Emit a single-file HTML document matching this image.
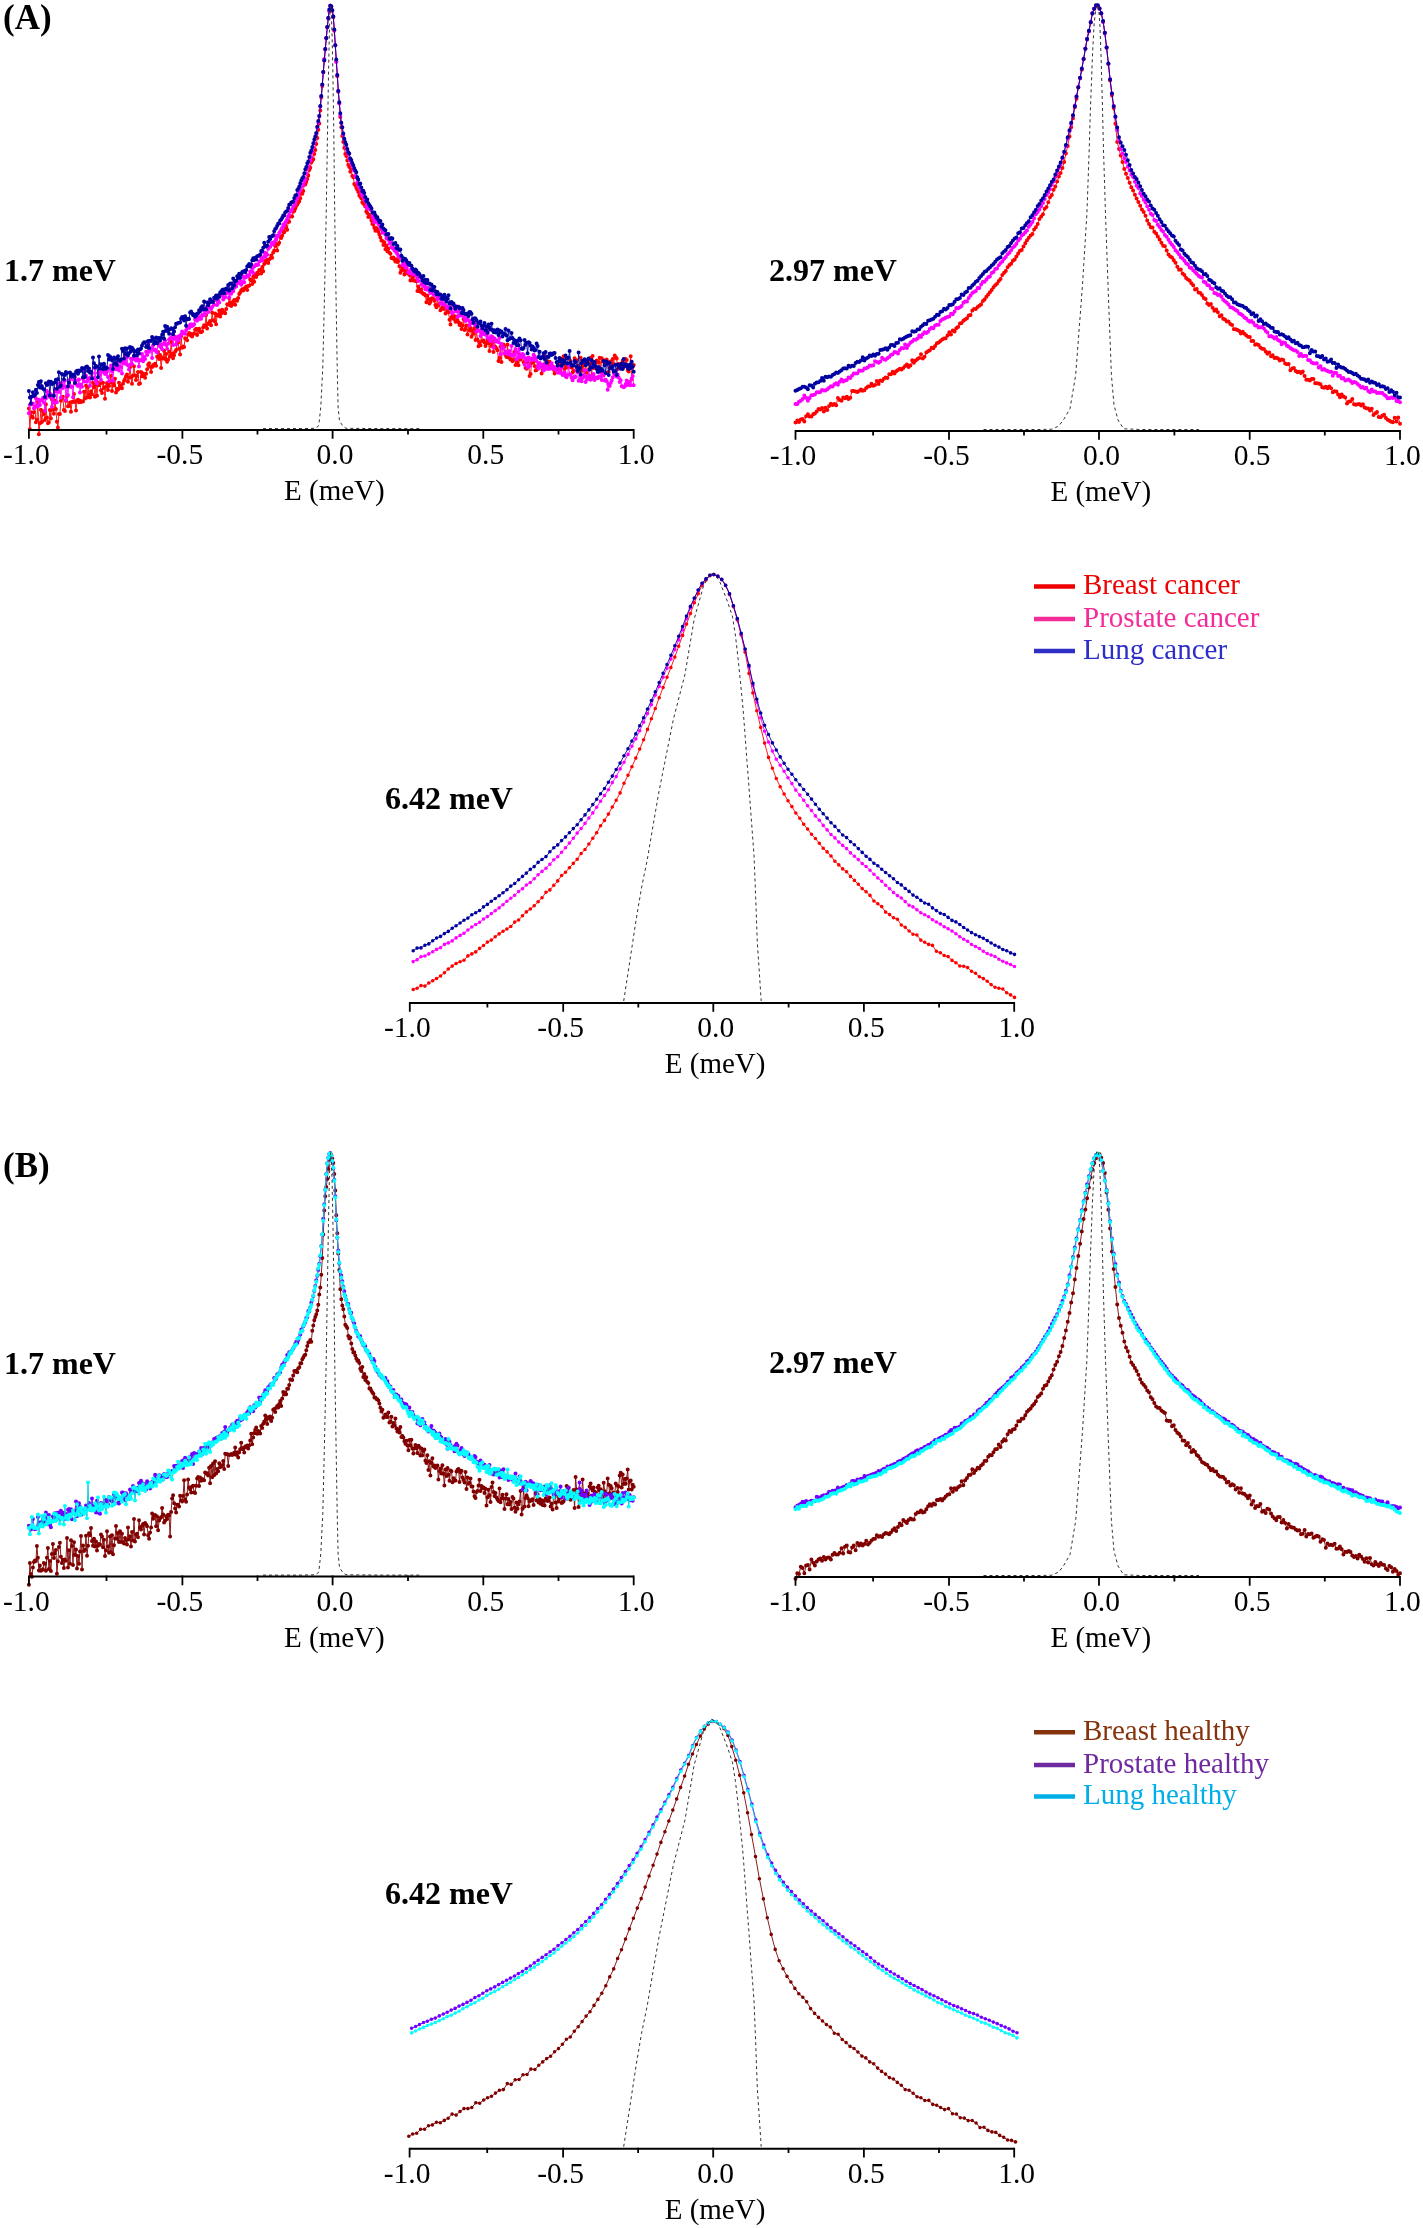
<!DOCTYPE html>
<html><head><meta charset="utf-8"><title>QENS spectra</title>
<style>
html,body{margin:0;padding:0;background:#fff;}
svg{display:block;will-change:transform;}
.tk{font-family:"Liberation Serif",serif;font-size:29.5px;fill:#000;text-anchor:middle;}
.bl{font-family:"Liberation Serif",serif;font-size:32px;font-weight:bold;fill:#000;}
.lg{font-family:"Liberation Serif",serif;font-size:29px;}
</style></head><body>
<svg xmlns="http://www.w3.org/2000/svg" width="1423" height="2228" viewBox="0 0 1423 2228">
<rect width="1423" height="2228" fill="#fff"/>
<polyline points="28.9,408.5 29.9,429.2 30.9,412.2 31.9,416.6 32.9,417.7 33.9,412.3 34.9,407.1 35.9,422.3 36.9,419.7 37.9,401.7 38.9,434.2 39.9,423.3 40.9,409.8 41.9,422 42.9,411.3 43.9,414 44.9,420 45.9,404.3 46.9,417.6 47.9,423.3 48.9,422.3 49.9,409.9 50.9,418.4 51.9,399.5 52.9,409.8 53.9,413.8 54.9,400.4 55.9,409.1 56.9,421.8 57.9,427.6 58.9,414 59.9,413.9 60.9,400.8 61.9,398.6 62.9,396.7 63.9,410.1 64.9,411.1 65.9,400.7 67,396.3 68,406.2 69,406.1 70,402.6 71,411.8 72,401.9 73,401.7 74,394.1 75,402.1 76,410.4 77,400.6 78,399.7 79,402.2 80,400.7 81,401.9 82,401.4 83,401.5 84,391.8 85,398.5 86,385.7 87,397.4 88,387.1 89,394.4 90,397.4 91,391.3 92,394.2 93,382.7 94,387.3 95,396.7 96,384.7 97,395.7 98,382.6 99,385.2 100,383.7 101,390.2 102,393.1 103,382.8 104,387.9 105,398.7 106,386.4 107,383 108,390 109,385.9 110,382.6 111,375.7 112,391.1 113,382.4 114,385.4 115,378.7 116,392.4 117,388.7 118,389.7 119,382.8 120,385.8 121,387.9 122,388.3 123,383.7 124,381.1 125,378.9 126,376.2 127,374.6 128,381.7 129,377.8 130,367.3 131,377.3 132,383.7 133,375.6 134,366.3 135,375.4 136,379.9 137,376.1 138,372 139,383.9 140,383.5 141,372 142,376.3 143.1,373.4 144.1,374.8 145.1,377.7 146.1,373.7 147.1,369.2 148.1,364.7 149.1,363.2 150.1,366.7 151.1,372.1 152.1,367 153.1,365.1 154.1,365.5 155.1,363.8 156.1,365.7 157.1,356.8 158.1,352 159.1,359.1 160.1,354.9 161.1,367.9 162.1,358.6 163.1,357.5 164.1,350.7 165.1,358.9 166.1,354 167.1,361.7 168.1,359.7 169.1,351.4 170.1,356.4 171.1,341.7 172.1,353.8 173.1,358.2 174.1,355.3 175.1,351.7 176.1,350 177.1,343 178.1,342.4 179.1,348.7 180.1,354.6 181.1,336.3 182.1,347.7 183.1,346.6 184.1,347.1 185.1,338.3 186.1,338.8 187.1,340.2 188.1,334.8 189.1,333 190.1,333.4 191.1,335.8 192.1,336.6 193.1,334.1 194.1,333.6 195.1,329.7 196.1,328.7 197.1,335 198.1,329.6 199.1,328.8 200.1,331.9 201.1,332.2 202.1,331.6 203.1,327.6 204.1,325.2 205.1,325.7 206.1,315 207.1,328.4 208.1,323.6 209.1,324.1 210.1,321 211.1,325.3 212.1,312.4 213.1,320.3 214.1,320.9 215.1,313.4 216.1,324.2 217.1,315.4 218.2,314.5 219.2,310.6 220.2,316.4 221.2,313.4 222.2,309.8 223.2,311.7 224.2,312.4 225.2,313.2 226.2,309 227.2,304.3 228.2,304.8 229.2,298.3 230.2,302.4 231.2,306.1 232.2,304.3 233.2,301.5 234.2,299.9 235.2,304.8 236.2,299.8 237.2,300.7 238.2,298.1 239.2,293.9 240.2,292.4 241.2,290.2 242.2,289.3 243.2,290.4 244.2,288.5 245.2,287.8 246.2,286.6 247.2,289.9 248.2,286.1 249.2,285.8 250.2,279.4 251.2,280.2 252.2,284 253.2,276.8 254.2,281.7 255.2,274.8 256.2,276.9 257.2,272.7 258.2,274 259.2,269.9 260.2,270.1 261.2,273.4 262.2,267.1 263.2,271.3 264.2,264 265.2,260.9 266.2,262.3 267.2,259.7 268.2,262.9 269.2,259.4 270.2,258.4 271.2,255.6 272.2,257.8 273.2,252.6 274.2,250.4 275.2,245.9 276.2,244 277.2,250.5 278.2,244.3 279.2,242.7 280.2,237 281.2,237.9 282.2,235.4 283.2,231.2 284.2,232.3 285.2,225.5 286.2,228 287.2,229.8 288.2,221.9 289.2,221.7 290.2,216.5 291.2,216.3 292.2,216.6 293.2,211.7 294.3,211.1 295.3,208.4 296.3,206.1 297.3,204.6 298.3,202.6 299.3,201.2 300.3,198.2 301.3,193.8 302.3,193.8 303.3,190.9 304.3,184.6 305.3,184.6 306.3,181.9 307.3,179 308.3,175.4 309.3,170.1 310.3,167.8 311.3,162.4 312.3,160.8 313.3,159.2 314.3,154 315.3,149.9 316.3,144 317.3,138.1 318.3,129.7 319.3,123.4 320.3,110.4 321.3,97.6 322.3,86 323.3,72.1 324.3,60.4 325.3,49.3 326.3,38.2 327.3,27.2 328.3,18.1 329.3,11 330.3,6.3 331.3,7.1 332.3,10.7 333.3,17.2 334.3,30.8 335.3,45.3 336.3,61.2 337.3,76.3 338.3,91.8 339.3,103.1 340.3,117.1 341.3,127.2 342.3,136 343.3,142.1 344.3,148 345.3,153.9 346.3,156 347.3,160.6 348.3,164.9 349.3,167 350.3,171.8 351.3,169.5 352.3,176 353.3,177.3 354.3,184 355.3,185.2 356.3,187.7 357.3,189.7 358.3,192.1 359.3,195.6 360.3,196.7 361.3,198.2 362.3,202.3 363.3,203.6 364.3,204.5 365.3,206.4 366.3,211.6 367.3,212.9 368.3,217 369.4,215.1 370.4,216.7 371.4,220.5 372.4,224 373.4,224.7 374.4,228 375.4,230.7 376.4,228.1 377.4,229 378.4,231.8 379.4,234.4 380.4,237.5 381.4,240.5 382.4,241.1 383.4,245.1 384.4,242.2 385.4,249.3 386.4,245.6 387.4,251.2 388.4,248.5 389.4,252.7 390.4,253.7 391.4,258 392.4,258.2 393.4,257.6 394.4,259.4 395.4,261.4 396.4,259.3 397.4,261.9 398.4,261.1 399.4,266.2 400.4,272.7 401.4,270.4 402.4,267.8 403.4,269.3 404.4,274.6 405.4,272.1 406.4,270.4 407.4,273 408.4,274 409.4,275.1 410.4,280.6 411.4,280.1 412.4,277 413.4,280.6 414.4,275 415.4,280.9 416.4,281.1 417.4,291 418.4,286.4 419.4,289.9 420.4,291.8 421.4,289.2 422.4,292.9 423.4,293.9 424.4,294 425.4,295.5 426.4,302.2 427.4,295.6 428.4,299.1 429.4,303.5 430.4,302.1 431.4,298.6 432.4,298.3 433.4,299 434.4,300.7 435.4,304.9 436.4,307.3 437.4,298.2 438.4,305.3 439.4,303.6 440.4,310.3 441.4,309.1 442.4,307.2 443.4,309.1 444.4,308.2 445.5,313.6 446.5,307.6 447.5,310 448.5,312.3 449.5,319.7 450.5,324.6 451.5,317.1 452.5,313.4 453.5,318.8 454.5,316.2 455.5,321.7 456.5,316.8 457.5,320.2 458.5,322.2 459.5,324.9 460.5,323.4 461.5,329.1 462.5,325.6 463.5,319.1 464.5,330 465.5,328.9 466.5,325.4 467.5,334.5 468.5,325.6 469.5,330.4 470.5,328 471.5,336.8 472.5,330.8 473.5,333.8 474.5,328.1 475.5,340.1 476.5,330.7 477.5,339.4 478.5,346.3 479.5,342.2 480.5,345.3 481.5,333.7 482.5,341 483.5,340.6 484.5,342.5 485.5,346.1 486.5,342.7 487.5,339.4 488.5,343.2 489.5,351 490.5,340 491.5,346.1 492.5,342.2 493.5,352.1 494.5,340.5 495.5,347 496.5,348.6 497.5,350.3 498.5,361.1 499.5,358.1 500.5,346.8 501.5,362 502.5,347.1 503.5,344.4 504.5,346.6 505.5,355 506.5,357 507.5,344.6 508.5,357.5 509.5,354.6 510.5,359.6 511.5,354.8 512.5,361.3 513.5,360.1 514.5,352.1 515.5,365.1 516.5,359.5 517.5,362.3 518.5,365.3 519.5,354.7 520.6,359.4 521.6,356.1 522.6,355.9 523.6,362.2 524.6,362.9 525.6,368.1 526.6,368.8 527.6,362.1 528.6,358.4 529.6,375.9 530.6,374 531.6,363 532.6,359.1 533.6,362 534.6,365.9 535.6,370.5 536.6,369.9 537.6,367.5 538.6,364.2 539.6,366.6 540.6,364.4 541.6,373.5 542.6,365.8 543.6,369.3 544.6,357 545.6,365.1 546.6,365.5 547.6,361.2 548.6,366.3 549.6,361.8 550.6,363.9 551.6,366 552.6,366.2 553.6,369.8 554.6,373.4 555.6,368.7 556.6,369.4 557.6,368.9 558.6,364.3 559.6,363.2 560.6,372.1 561.6,365.9 562.6,358.5 563.6,356.3 564.6,368.9 565.6,363.9 566.6,367.4 567.6,364.8 568.6,365.5 569.6,366.7 570.6,361.1 571.6,367.4 572.6,372.6 573.6,371 574.6,358.3 575.6,360.3 576.6,360.3 577.6,365.8 578.6,371.5 579.6,368.6 580.6,357.8 581.6,367 582.6,370.8 583.6,364.2 584.6,376.2 585.6,362.9 586.6,372.2 587.6,378.1 588.6,359.3 589.6,364 590.6,357.9 591.6,378.7 592.6,356.1 593.6,368 594.6,366.4 595.6,362.6 596.7,360.4 597.7,361.8 598.7,362.7 599.7,357.7 600.7,371.9 601.7,358.2 602.7,361.5 603.7,360.2 604.7,361.3 605.7,363.8 606.7,359.4 607.7,361.9 608.7,371.7 609.7,368.2 610.7,361.4 611.7,367.4 612.7,359 613.7,363.9 614.7,355.6 615.7,357.1 616.7,358.5 617.7,369.1 618.7,364.1 619.7,365.7 620.7,363.8 621.7,365 622.7,360.5 623.7,367.2 624.7,364.3 625.7,359.1 626.7,359.9 627.7,370.2 628.7,371.4 629.7,367.3 630.7,356.3 631.7,379.2 632.7,366.7 633.7,364.9" fill="none" stroke="#ff0000" stroke-width="0.9" stroke-linejoin="round"/>
<path d="M28.9 408.5h0M29.9 429.2h0M30.9 412.2h0M31.9 416.6h0M32.9 417.7h0M33.9 412.3h0M34.9 407.1h0M35.9 422.3h0M36.9 419.7h0M37.9 401.7h0M38.9 434.2h0M39.9 423.3h0M40.9 409.8h0M41.9 422h0M42.9 411.3h0M43.9 414h0M44.9 420h0M45.9 404.3h0M46.9 417.6h0M47.9 423.3h0M48.9 422.3h0M49.9 409.9h0M50.9 418.4h0M51.9 399.5h0M52.9 409.8h0M53.9 413.8h0M54.9 400.4h0M55.9 409.1h0M56.9 421.8h0M57.9 427.6h0M58.9 414h0M59.9 413.9h0M60.9 400.8h0M61.9 398.6h0M62.9 396.7h0M63.9 410.1h0M64.9 411.1h0M65.9 400.7h0M67 396.3h0M68 406.2h0M69 406.1h0M70 402.6h0M71 411.8h0M72 401.9h0M73 401.7h0M74 394.1h0M75 402.1h0M76 410.4h0M77 400.6h0M78 399.7h0M79 402.2h0M80 400.7h0M81 401.9h0M82 401.4h0M83 401.5h0M84 391.8h0M85 398.5h0M86 385.7h0M87 397.4h0M88 387.1h0M89 394.4h0M90 397.4h0M91 391.3h0M92 394.2h0M93 382.7h0M94 387.3h0M95 396.7h0M96 384.7h0M97 395.7h0M98 382.6h0M99 385.2h0M100 383.7h0M101 390.2h0M102 393.1h0M103 382.8h0M104 387.9h0M105 398.7h0M106 386.4h0M107 383h0M108 390h0M109 385.9h0M110 382.6h0M111 375.7h0M112 391.1h0M113 382.4h0M114 385.4h0M115 378.7h0M116 392.4h0M117 388.7h0M118 389.7h0M119 382.8h0M120 385.8h0M121 387.9h0M122 388.3h0M123 383.7h0M124 381.1h0M125 378.9h0M126 376.2h0M127 374.6h0M128 381.7h0M129 377.8h0M130 367.3h0M131 377.3h0M132 383.7h0M133 375.6h0M134 366.3h0M135 375.4h0M136 379.9h0M137 376.1h0M138 372h0M139 383.9h0M140 383.5h0M141 372h0M142 376.3h0M143.1 373.4h0M144.1 374.8h0M145.1 377.7h0M146.1 373.7h0M147.1 369.2h0M148.1 364.7h0M149.1 363.2h0M150.1 366.7h0M151.1 372.1h0M152.1 367h0M153.1 365.1h0M154.1 365.5h0M155.1 363.8h0M156.1 365.7h0M157.1 356.8h0M158.1 352h0M159.1 359.1h0M160.1 354.9h0M161.1 367.9h0M162.1 358.6h0M163.1 357.5h0M164.1 350.7h0M165.1 358.9h0M166.1 354h0M167.1 361.7h0M168.1 359.7h0M169.1 351.4h0M170.1 356.4h0M171.1 341.7h0M172.1 353.8h0M173.1 358.2h0M174.1 355.3h0M175.1 351.7h0M176.1 350h0M177.1 343h0M178.1 342.4h0M179.1 348.7h0M180.1 354.6h0M181.1 336.3h0M182.1 347.7h0M183.1 346.6h0M184.1 347.1h0M185.1 338.3h0M186.1 338.8h0M187.1 340.2h0M188.1 334.8h0M189.1 333h0M190.1 333.4h0M191.1 335.8h0M192.1 336.6h0M193.1 334.1h0M194.1 333.6h0M195.1 329.7h0M196.1 328.7h0M197.1 335h0M198.1 329.6h0M199.1 328.8h0M200.1 331.9h0M201.1 332.2h0M202.1 331.6h0M203.1 327.6h0M204.1 325.2h0M205.1 325.7h0M206.1 315h0M207.1 328.4h0M208.1 323.6h0M209.1 324.1h0M210.1 321h0M211.1 325.3h0M212.1 312.4h0M213.1 320.3h0M214.1 320.9h0M215.1 313.4h0M216.1 324.2h0M217.1 315.4h0M218.2 314.5h0M219.2 310.6h0M220.2 316.4h0M221.2 313.4h0M222.2 309.8h0M223.2 311.7h0M224.2 312.4h0M225.2 313.2h0M226.2 309h0M227.2 304.3h0M228.2 304.8h0M229.2 298.3h0M230.2 302.4h0M231.2 306.1h0M232.2 304.3h0M233.2 301.5h0M234.2 299.9h0M235.2 304.8h0M236.2 299.8h0M237.2 300.7h0M238.2 298.1h0M239.2 293.9h0M240.2 292.4h0M241.2 290.2h0M242.2 289.3h0M243.2 290.4h0M244.2 288.5h0M245.2 287.8h0M246.2 286.6h0M247.2 289.9h0M248.2 286.1h0M249.2 285.8h0M250.2 279.4h0M251.2 280.2h0M252.2 284h0M253.2 276.8h0M254.2 281.7h0M255.2 274.8h0M256.2 276.9h0M257.2 272.7h0M258.2 274h0M259.2 269.9h0M260.2 270.1h0M261.2 273.4h0M262.2 267.1h0M263.2 271.3h0M264.2 264h0M265.2 260.9h0M266.2 262.3h0M267.2 259.7h0M268.2 262.9h0M269.2 259.4h0M270.2 258.4h0M271.2 255.6h0M272.2 257.8h0M273.2 252.6h0M274.2 250.4h0M275.2 245.9h0M276.2 244h0M277.2 250.5h0M278.2 244.3h0M279.2 242.7h0M280.2 237h0M281.2 237.9h0M282.2 235.4h0M283.2 231.2h0M284.2 232.3h0M285.2 225.5h0M286.2 228h0M287.2 229.8h0M288.2 221.9h0M289.2 221.7h0M290.2 216.5h0M291.2 216.3h0M292.2 216.6h0M293.2 211.7h0M294.3 211.1h0M295.3 208.4h0M296.3 206.1h0M297.3 204.6h0M298.3 202.6h0M299.3 201.2h0M300.3 198.2h0M301.3 193.8h0M302.3 193.8h0M303.3 190.9h0M304.3 184.6h0M305.3 184.6h0M306.3 181.9h0M307.3 179h0M308.3 175.4h0M309.3 170.1h0M310.3 167.8h0M311.3 162.4h0M312.3 160.8h0M313.3 159.2h0M314.3 154h0M315.3 149.9h0M316.3 144h0M317.3 138.1h0M318.3 129.7h0M319.3 123.4h0M320.3 110.4h0M321.3 97.6h0M322.3 86h0M323.3 72.1h0M324.3 60.4h0M325.3 49.3h0M326.3 38.2h0M327.3 27.2h0M328.3 18.1h0M329.3 11h0M330.3 6.3h0M331.3 7.1h0M332.3 10.7h0M333.3 17.2h0M334.3 30.8h0M335.3 45.3h0M336.3 61.2h0M337.3 76.3h0M338.3 91.8h0M339.3 103.1h0M340.3 117.1h0M341.3 127.2h0M342.3 136h0M343.3 142.1h0M344.3 148h0M345.3 153.9h0M346.3 156h0M347.3 160.6h0M348.3 164.9h0M349.3 167h0M350.3 171.8h0M351.3 169.5h0M352.3 176h0M353.3 177.3h0M354.3 184h0M355.3 185.2h0M356.3 187.7h0M357.3 189.7h0M358.3 192.1h0M359.3 195.6h0M360.3 196.7h0M361.3 198.2h0M362.3 202.3h0M363.3 203.6h0M364.3 204.5h0M365.3 206.4h0M366.3 211.6h0M367.3 212.9h0M368.3 217h0M369.4 215.1h0M370.4 216.7h0M371.4 220.5h0M372.4 224h0M373.4 224.7h0M374.4 228h0M375.4 230.7h0M376.4 228.1h0M377.4 229h0M378.4 231.8h0M379.4 234.4h0M380.4 237.5h0M381.4 240.5h0M382.4 241.1h0M383.4 245.1h0M384.4 242.2h0M385.4 249.3h0M386.4 245.6h0M387.4 251.2h0M388.4 248.5h0M389.4 252.7h0M390.4 253.7h0M391.4 258h0M392.4 258.2h0M393.4 257.6h0M394.4 259.4h0M395.4 261.4h0M396.4 259.3h0M397.4 261.9h0M398.4 261.1h0M399.4 266.2h0M400.4 272.7h0M401.4 270.4h0M402.4 267.8h0M403.4 269.3h0M404.4 274.6h0M405.4 272.1h0M406.4 270.4h0M407.4 273h0M408.4 274h0M409.4 275.1h0M410.4 280.6h0M411.4 280.1h0M412.4 277h0M413.4 280.6h0M414.4 275h0M415.4 280.9h0M416.4 281.1h0M417.4 291h0M418.4 286.4h0M419.4 289.9h0M420.4 291.8h0M421.4 289.2h0M422.4 292.9h0M423.4 293.9h0M424.4 294h0M425.4 295.5h0M426.4 302.2h0M427.4 295.6h0M428.4 299.1h0M429.4 303.5h0M430.4 302.1h0M431.4 298.6h0M432.4 298.3h0M433.4 299h0M434.4 300.7h0M435.4 304.9h0M436.4 307.3h0M437.4 298.2h0M438.4 305.3h0M439.4 303.6h0M440.4 310.3h0M441.4 309.1h0M442.4 307.2h0M443.4 309.1h0M444.4 308.2h0M445.5 313.6h0M446.5 307.6h0M447.5 310h0M448.5 312.3h0M449.5 319.7h0M450.5 324.6h0M451.5 317.1h0M452.5 313.4h0M453.5 318.8h0M454.5 316.2h0M455.5 321.7h0M456.5 316.8h0M457.5 320.2h0M458.5 322.2h0M459.5 324.9h0M460.5 323.4h0M461.5 329.1h0M462.5 325.6h0M463.5 319.1h0M464.5 330h0M465.5 328.9h0M466.5 325.4h0M467.5 334.5h0M468.5 325.6h0M469.5 330.4h0M470.5 328h0M471.5 336.8h0M472.5 330.8h0M473.5 333.8h0M474.5 328.1h0M475.5 340.1h0M476.5 330.7h0M477.5 339.4h0M478.5 346.3h0M479.5 342.2h0M480.5 345.3h0M481.5 333.7h0M482.5 341h0M483.5 340.6h0M484.5 342.5h0M485.5 346.1h0M486.5 342.7h0M487.5 339.4h0M488.5 343.2h0M489.5 351h0M490.5 340h0M491.5 346.1h0M492.5 342.2h0M493.5 352.1h0M494.5 340.5h0M495.5 347h0M496.5 348.6h0M497.5 350.3h0M498.5 361.1h0M499.5 358.1h0M500.5 346.8h0M501.5 362h0M502.5 347.1h0M503.5 344.4h0M504.5 346.6h0M505.5 355h0M506.5 357h0M507.5 344.6h0M508.5 357.5h0M509.5 354.6h0M510.5 359.6h0M511.5 354.8h0M512.5 361.3h0M513.5 360.1h0M514.5 352.1h0M515.5 365.1h0M516.5 359.5h0M517.5 362.3h0M518.5 365.3h0M519.5 354.7h0M520.6 359.4h0M521.6 356.1h0M522.6 355.9h0M523.6 362.2h0M524.6 362.9h0M525.6 368.1h0M526.6 368.8h0M527.6 362.1h0M528.6 358.4h0M529.6 375.9h0M530.6 374h0M531.6 363h0M532.6 359.1h0M533.6 362h0M534.6 365.9h0M535.6 370.5h0M536.6 369.9h0M537.6 367.5h0M538.6 364.2h0M539.6 366.6h0M540.6 364.4h0M541.6 373.5h0M542.6 365.8h0M543.6 369.3h0M544.6 357h0M545.6 365.1h0M546.6 365.5h0M547.6 361.2h0M548.6 366.3h0M549.6 361.8h0M550.6 363.9h0M551.6 366h0M552.6 366.2h0M553.6 369.8h0M554.6 373.4h0M555.6 368.7h0M556.6 369.4h0M557.6 368.9h0M558.6 364.3h0M559.6 363.2h0M560.6 372.1h0M561.6 365.9h0M562.6 358.5h0M563.6 356.3h0M564.6 368.9h0M565.6 363.9h0M566.6 367.4h0M567.6 364.8h0M568.6 365.5h0M569.6 366.7h0M570.6 361.1h0M571.6 367.4h0M572.6 372.6h0M573.6 371h0M574.6 358.3h0M575.6 360.3h0M576.6 360.3h0M577.6 365.8h0M578.6 371.5h0M579.6 368.6h0M580.6 357.8h0M581.6 367h0M582.6 370.8h0M583.6 364.2h0M584.6 376.2h0M585.6 362.9h0M586.6 372.2h0M587.6 378.1h0M588.6 359.3h0M589.6 364h0M590.6 357.9h0M591.6 378.7h0M592.6 356.1h0M593.6 368h0M594.6 366.4h0M595.6 362.6h0M596.7 360.4h0M597.7 361.8h0M598.7 362.7h0M599.7 357.7h0M600.7 371.9h0M601.7 358.2h0M602.7 361.5h0M603.7 360.2h0M604.7 361.3h0M605.7 363.8h0M606.7 359.4h0M607.7 361.9h0M608.7 371.7h0M609.7 368.2h0M610.7 361.4h0M611.7 367.4h0M612.7 359h0M613.7 363.9h0M614.7 355.6h0M615.7 357.1h0M616.7 358.5h0M617.7 369.1h0M618.7 364.1h0M619.7 365.7h0M620.7 363.8h0M621.7 365h0M622.7 360.5h0M623.7 367.2h0M624.7 364.3h0M625.7 359.1h0M626.7 359.9h0M627.7 370.2h0M628.7 371.4h0M629.7 367.3h0M630.7 356.3h0M631.7 379.2h0M632.7 366.7h0M633.7 364.9h0" stroke="#ff0000" stroke-width="4.0" stroke-linecap="round" fill="none"/>
<polyline points="28.9,413.3 29.9,404.7 30.9,397.1 31.9,404.3 32.9,403.6 33.9,408.2 34.9,407.1 35.9,398.2 36.9,405.7 37.9,406.4 38.9,399.7 39.9,405.1 40.9,400.5 41.9,400.1 42.9,397.9 43.9,402.4 44.9,410.8 45.9,398.4 46.9,390.9 47.9,395.1 48.9,392.9 49.9,397 50.9,394.2 51.9,407.1 52.9,397.7 53.9,402.7 54.9,389.5 55.9,391.5 56.9,402.3 57.9,383.5 58.9,391.9 59.9,383.2 60.9,397.8 61.9,383.1 62.9,388 63.9,386.3 64.9,380.5 65.9,400 67,387 68,395.2 69,383.6 70,379.6 71,387.1 72,386.6 73,397.2 74,379.9 75,377.2 76,380.8 77,385.1 78,385.9 79,379.4 80,392.4 81,384.6 82,386.7 83,378.6 84,381.5 85,368.5 86,375.7 87,381.7 88,379.3 89,378.2 90,385.8 91,377 92,373 93,378.5 94,378.1 95,368.6 96,380.8 97,383.6 98,373.1 99,371.5 100,374.6 101,380 102,371.8 103,370.7 104,370.9 105,374.1 106,373.7 107,371.6 108,377.1 109,381.2 110,368.7 111,365.4 112,371.5 113,380.7 114,365.9 115,367.7 116,369.2 117,362.4 118,367 119,370.4 120,361 121,367.1 122,373.4 123,363.2 124,361.6 125,354.5 126,363.9 127,357.3 128,365.6 129,369.5 130,364.7 131,358.8 132,364.1 133,359.1 134,356.1 135,358.1 136,360.5 137,357.7 138,360.6 139,366.4 140,360 141,360 142,354.1 143.1,361.2 144.1,357 145.1,358.9 146.1,351.7 147.1,355 148.1,344.8 149.1,351.7 150.1,349.4 151.1,348.3 152.1,357.9 153.1,345.3 154.1,349.9 155.1,349.4 156.1,351.3 157.1,352.4 158.1,342.5 159.1,345.7 160.1,344.6 161.1,347.6 162.1,349.3 163.1,343.9 164.1,342.9 165.1,340.7 166.1,344.9 167.1,348.8 168.1,343.7 169.1,339.4 170.1,338.3 171.1,338.1 172.1,334.3 173.1,345 174.1,338.8 175.1,336.7 176.1,344.6 177.1,337.2 178.1,340.6 179.1,335.9 180.1,337.8 181.1,334.6 182.1,331.5 183.1,333.3 184.1,333.4 185.1,333.8 186.1,330.2 187.1,327.9 188.1,326.7 189.1,328 190.1,324.7 191.1,324.3 192.1,326.1 193.1,325.3 194.1,324.2 195.1,319.6 196.1,316.7 197.1,320.8 198.1,319.4 199.1,317.1 200.1,317.8 201.1,318.8 202.1,314.8 203.1,315.6 204.1,310.8 205.1,314.8 206.1,309.3 207.1,306.7 208.1,311.9 209.1,301.7 210.1,307.7 211.1,309 212.1,307 213.1,301 214.1,304.8 215.1,298.5 216.1,300 217.1,305.1 218.2,300.9 219.2,302.6 220.2,296 221.2,292.7 222.2,295.2 223.2,299.4 224.2,297.7 225.2,297.2 226.2,293.4 227.2,292.7 228.2,291.6 229.2,297.5 230.2,290.7 231.2,293.8 232.2,288.5 233.2,291.3 234.2,287.7 235.2,285.3 236.2,286.4 237.2,283.4 238.2,283 239.2,282.7 240.2,281 241.2,284.7 242.2,282.9 243.2,276.4 244.2,282.3 245.2,277.5 246.2,276.6 247.2,275.3 248.2,276.5 249.2,275.1 250.2,271.5 251.2,271.6 252.2,267.7 253.2,273.1 254.2,266.4 255.2,265.2 256.2,264.4 257.2,264.9 258.2,264.8 259.2,261.4 260.2,260.9 261.2,257.6 262.2,260.6 263.2,257.3 264.2,252.4 265.2,256.8 266.2,253.3 267.2,254.8 268.2,248.8 269.2,247.6 270.2,246.7 271.2,243.1 272.2,243.3 273.2,244.5 274.2,242.1 275.2,235.4 276.2,239.8 277.2,236.7 278.2,235.8 279.2,232.9 280.2,231.4 281.2,229.5 282.2,227.8 283.2,224.4 284.2,225.7 285.2,222.6 286.2,221 287.2,219.1 288.2,216.3 289.2,214.7 290.2,211 291.2,211.1 292.2,209.1 293.2,206.4 294.3,202.4 295.3,204.1 296.3,200 297.3,198 298.3,195.3 299.3,192.6 300.3,190.4 301.3,187.1 302.3,185 303.3,185.2 304.3,181.4 305.3,179.2 306.3,173.4 307.3,168.8 308.3,165.9 309.3,161.1 310.3,160.7 311.3,156.9 312.3,151.8 313.3,147.7 314.3,143.1 315.3,138 316.3,133.7 317.3,127.4 318.3,122.4 319.3,116 320.3,106.4 321.3,96.3 322.3,84.8 323.3,72.2 324.3,59.1 325.3,49.3 326.3,37.9 327.3,27.1 328.3,18.2 329.3,10.9 330.3,5.5 331.3,6.4 332.3,10.2 333.3,16.5 334.3,30.2 335.3,45.6 336.3,62 337.3,75.5 338.3,90.9 339.3,103.6 340.3,115.4 341.3,123 342.3,127.4 343.3,134.7 344.3,139.3 345.3,143.2 346.3,147.9 347.3,151.4 348.3,154.3 349.3,158.8 350.3,160.5 351.3,163.2 352.3,165.8 353.3,169.7 354.3,170.4 355.3,175.9 356.3,177.5 357.3,182.5 358.3,185.6 359.3,187.6 360.3,189.4 361.3,193.1 362.3,195.7 363.3,196 364.3,199.6 365.3,201.3 366.3,205.9 367.3,208.3 368.3,207 369.4,209 370.4,209.7 371.4,208.2 372.4,215.9 373.4,218.9 374.4,222.3 375.4,216.8 376.4,221 377.4,221.7 378.4,223.9 379.4,224.9 380.4,228.3 381.4,229.3 382.4,232.7 383.4,230 384.4,231.3 385.4,234.4 386.4,238.2 387.4,236.9 388.4,239.7 389.4,243.5 390.4,241.9 391.4,247.2 392.4,247.9 393.4,247.9 394.4,250.3 395.4,250.9 396.4,252.5 397.4,254 398.4,256 399.4,257.2 400.4,257.2 401.4,258.1 402.4,265.1 403.4,260.3 404.4,263.3 405.4,267.1 406.4,267.9 407.4,265.7 408.4,272.3 409.4,273 410.4,269.9 411.4,269.1 412.4,274.1 413.4,273.5 414.4,274.3 415.4,273.9 416.4,275.8 417.4,278.5 418.4,281.1 419.4,275.7 420.4,276 421.4,284.4 422.4,281.4 423.4,285.9 424.4,285.6 425.4,289.2 426.4,289.5 427.4,287.7 428.4,289 429.4,291.1 430.4,293.1 431.4,290.8 432.4,289.6 433.4,294.4 434.4,295 435.4,295.6 436.4,294.4 437.4,299.3 438.4,294.3 439.4,298.3 440.4,303.6 441.4,298.4 442.4,303.1 443.4,304 444.4,304.7 445.5,300 446.5,307.7 447.5,306.2 448.5,307.9 449.5,308.1 450.5,308.1 451.5,312 452.5,313.3 453.5,305 454.5,308.6 455.5,311 456.5,306.2 457.5,316.9 458.5,311.4 459.5,315.8 460.5,315.6 461.5,315.1 462.5,313.5 463.5,316.1 464.5,318.1 465.5,320.9 466.5,318.8 467.5,319 468.5,320.2 469.5,325.5 470.5,323.3 471.5,321.2 472.5,320.2 473.5,323.6 474.5,322.9 475.5,325.2 476.5,331.4 477.5,330.2 478.5,330.6 479.5,330.9 480.5,335.9 481.5,327.7 482.5,333.5 483.5,332.3 484.5,334.2 485.5,334.8 486.5,334.3 487.5,338 488.5,329.9 489.5,338.8 490.5,340.9 491.5,336.2 492.5,336.9 493.5,347.4 494.5,338.6 495.5,341.1 496.5,340.5 497.5,341.8 498.5,342.2 499.5,337.8 500.5,354.3 501.5,344 502.5,348.5 503.5,347.5 504.5,353.2 505.5,351.4 506.5,353.5 507.5,354.2 508.5,353.5 509.5,351.1 510.5,354.8 511.5,346.1 512.5,355.7 513.5,355.5 514.5,354.5 515.5,348.9 516.5,359.3 517.5,352.2 518.5,357.6 519.5,348.7 520.6,355.4 521.6,357.2 522.6,354 523.6,354.9 524.6,364.7 525.6,358.2 526.6,360.1 527.6,367.5 528.6,357.4 529.6,366.1 530.6,359.1 531.6,358.6 532.6,359.9 533.6,354.8 534.6,356.3 535.6,358.3 536.6,361 537.6,366.5 538.6,368.4 539.6,363 540.6,366.4 541.6,367 542.6,364.7 543.6,370.4 544.6,364 545.6,369.1 546.6,366.2 547.6,367.7 548.6,368.9 549.6,368.8 550.6,365.5 551.6,363.2 552.6,368.8 553.6,367 554.6,367.5 555.6,369.5 556.6,367.3 557.6,372.4 558.6,372.5 559.6,367.3 560.6,372.9 561.6,367.6 562.6,374.9 563.6,374.8 564.6,372.4 565.6,376.5 566.6,377.3 567.6,375.1 568.6,365.6 569.6,374.2 570.6,374.8 571.6,377.7 572.6,380.3 573.6,377.7 574.6,376.5 575.6,376.9 576.6,370 577.6,371.9 578.6,380.8 579.6,379.7 580.6,376 581.6,381.3 582.6,378 583.6,375.2 584.6,370.3 585.6,381.9 586.6,377 587.6,378.9 588.6,370 589.6,375.8 590.6,379.7 591.6,377.4 592.6,375.4 593.6,373.9 594.6,380 595.6,377.5 596.7,377.8 597.7,378.2 598.7,376.7 599.7,369.3 600.7,377.1 601.7,380.1 602.7,373.9 603.7,375.3 604.7,380.5 605.7,379.7 606.7,381.3 607.7,389.8 608.7,384.2 609.7,386 610.7,382.9 611.7,380.6 612.7,377.6 613.7,372.9 614.7,375.1 615.7,371 616.7,376.6 617.7,374.6 618.7,377.5 619.7,381.9 620.7,380.3 621.7,386.3 622.7,386.5 623.7,387.2 624.7,386.5 625.7,384 626.7,380.5 627.7,385.1 628.7,382 629.7,382.3 630.7,385.2 631.7,378.5 632.7,376.1 633.7,385.2" fill="none" stroke="#ff00ff" stroke-width="0.9" stroke-linejoin="round"/>
<path d="M28.9 413.3h0M29.9 404.7h0M30.9 397.1h0M31.9 404.3h0M32.9 403.6h0M33.9 408.2h0M34.9 407.1h0M35.9 398.2h0M36.9 405.7h0M37.9 406.4h0M38.9 399.7h0M39.9 405.1h0M40.9 400.5h0M41.9 400.1h0M42.9 397.9h0M43.9 402.4h0M44.9 410.8h0M45.9 398.4h0M46.9 390.9h0M47.9 395.1h0M48.9 392.9h0M49.9 397h0M50.9 394.2h0M51.9 407.1h0M52.9 397.7h0M53.9 402.7h0M54.9 389.5h0M55.9 391.5h0M56.9 402.3h0M57.9 383.5h0M58.9 391.9h0M59.9 383.2h0M60.9 397.8h0M61.9 383.1h0M62.9 388h0M63.9 386.3h0M64.9 380.5h0M65.9 400h0M67 387h0M68 395.2h0M69 383.6h0M70 379.6h0M71 387.1h0M72 386.6h0M73 397.2h0M74 379.9h0M75 377.2h0M76 380.8h0M77 385.1h0M78 385.9h0M79 379.4h0M80 392.4h0M81 384.6h0M82 386.7h0M83 378.6h0M84 381.5h0M85 368.5h0M86 375.7h0M87 381.7h0M88 379.3h0M89 378.2h0M90 385.8h0M91 377h0M92 373h0M93 378.5h0M94 378.1h0M95 368.6h0M96 380.8h0M97 383.6h0M98 373.1h0M99 371.5h0M100 374.6h0M101 380h0M102 371.8h0M103 370.7h0M104 370.9h0M105 374.1h0M106 373.7h0M107 371.6h0M108 377.1h0M109 381.2h0M110 368.7h0M111 365.4h0M112 371.5h0M113 380.7h0M114 365.9h0M115 367.7h0M116 369.2h0M117 362.4h0M118 367h0M119 370.4h0M120 361h0M121 367.1h0M122 373.4h0M123 363.2h0M124 361.6h0M125 354.5h0M126 363.9h0M127 357.3h0M128 365.6h0M129 369.5h0M130 364.7h0M131 358.8h0M132 364.1h0M133 359.1h0M134 356.1h0M135 358.1h0M136 360.5h0M137 357.7h0M138 360.6h0M139 366.4h0M140 360h0M141 360h0M142 354.1h0M143.1 361.2h0M144.1 357h0M145.1 358.9h0M146.1 351.7h0M147.1 355h0M148.1 344.8h0M149.1 351.7h0M150.1 349.4h0M151.1 348.3h0M152.1 357.9h0M153.1 345.3h0M154.1 349.9h0M155.1 349.4h0M156.1 351.3h0M157.1 352.4h0M158.1 342.5h0M159.1 345.7h0M160.1 344.6h0M161.1 347.6h0M162.1 349.3h0M163.1 343.9h0M164.1 342.9h0M165.1 340.7h0M166.1 344.9h0M167.1 348.8h0M168.1 343.7h0M169.1 339.4h0M170.1 338.3h0M171.1 338.1h0M172.1 334.3h0M173.1 345h0M174.1 338.8h0M175.1 336.7h0M176.1 344.6h0M177.1 337.2h0M178.1 340.6h0M179.1 335.9h0M180.1 337.8h0M181.1 334.6h0M182.1 331.5h0M183.1 333.3h0M184.1 333.4h0M185.1 333.8h0M186.1 330.2h0M187.1 327.9h0M188.1 326.7h0M189.1 328h0M190.1 324.7h0M191.1 324.3h0M192.1 326.1h0M193.1 325.3h0M194.1 324.2h0M195.1 319.6h0M196.1 316.7h0M197.1 320.8h0M198.1 319.4h0M199.1 317.1h0M200.1 317.8h0M201.1 318.8h0M202.1 314.8h0M203.1 315.6h0M204.1 310.8h0M205.1 314.8h0M206.1 309.3h0M207.1 306.7h0M208.1 311.9h0M209.1 301.7h0M210.1 307.7h0M211.1 309h0M212.1 307h0M213.1 301h0M214.1 304.8h0M215.1 298.5h0M216.1 300h0M217.1 305.1h0M218.2 300.9h0M219.2 302.6h0M220.2 296h0M221.2 292.7h0M222.2 295.2h0M223.2 299.4h0M224.2 297.7h0M225.2 297.2h0M226.2 293.4h0M227.2 292.7h0M228.2 291.6h0M229.2 297.5h0M230.2 290.7h0M231.2 293.8h0M232.2 288.5h0M233.2 291.3h0M234.2 287.7h0M235.2 285.3h0M236.2 286.4h0M237.2 283.4h0M238.2 283h0M239.2 282.7h0M240.2 281h0M241.2 284.7h0M242.2 282.9h0M243.2 276.4h0M244.2 282.3h0M245.2 277.5h0M246.2 276.6h0M247.2 275.3h0M248.2 276.5h0M249.2 275.1h0M250.2 271.5h0M251.2 271.6h0M252.2 267.7h0M253.2 273.1h0M254.2 266.4h0M255.2 265.2h0M256.2 264.4h0M257.2 264.9h0M258.2 264.8h0M259.2 261.4h0M260.2 260.9h0M261.2 257.6h0M262.2 260.6h0M263.2 257.3h0M264.2 252.4h0M265.2 256.8h0M266.2 253.3h0M267.2 254.8h0M268.2 248.8h0M269.2 247.6h0M270.2 246.7h0M271.2 243.1h0M272.2 243.3h0M273.2 244.5h0M274.2 242.1h0M275.2 235.4h0M276.2 239.8h0M277.2 236.7h0M278.2 235.8h0M279.2 232.9h0M280.2 231.4h0M281.2 229.5h0M282.2 227.8h0M283.2 224.4h0M284.2 225.7h0M285.2 222.6h0M286.2 221h0M287.2 219.1h0M288.2 216.3h0M289.2 214.7h0M290.2 211h0M291.2 211.1h0M292.2 209.1h0M293.2 206.4h0M294.3 202.4h0M295.3 204.1h0M296.3 200h0M297.3 198h0M298.3 195.3h0M299.3 192.6h0M300.3 190.4h0M301.3 187.1h0M302.3 185h0M303.3 185.2h0M304.3 181.4h0M305.3 179.2h0M306.3 173.4h0M307.3 168.8h0M308.3 165.9h0M309.3 161.1h0M310.3 160.7h0M311.3 156.9h0M312.3 151.8h0M313.3 147.7h0M314.3 143.1h0M315.3 138h0M316.3 133.7h0M317.3 127.4h0M318.3 122.4h0M319.3 116h0M320.3 106.4h0M321.3 96.3h0M322.3 84.8h0M323.3 72.2h0M324.3 59.1h0M325.3 49.3h0M326.3 37.9h0M327.3 27.1h0M328.3 18.2h0M329.3 10.9h0M330.3 5.5h0M331.3 6.4h0M332.3 10.2h0M333.3 16.5h0M334.3 30.2h0M335.3 45.6h0M336.3 62h0M337.3 75.5h0M338.3 90.9h0M339.3 103.6h0M340.3 115.4h0M341.3 123h0M342.3 127.4h0M343.3 134.7h0M344.3 139.3h0M345.3 143.2h0M346.3 147.9h0M347.3 151.4h0M348.3 154.3h0M349.3 158.8h0M350.3 160.5h0M351.3 163.2h0M352.3 165.8h0M353.3 169.7h0M354.3 170.4h0M355.3 175.9h0M356.3 177.5h0M357.3 182.5h0M358.3 185.6h0M359.3 187.6h0M360.3 189.4h0M361.3 193.1h0M362.3 195.7h0M363.3 196h0M364.3 199.6h0M365.3 201.3h0M366.3 205.9h0M367.3 208.3h0M368.3 207h0M369.4 209h0M370.4 209.7h0M371.4 208.2h0M372.4 215.9h0M373.4 218.9h0M374.4 222.3h0M375.4 216.8h0M376.4 221h0M377.4 221.7h0M378.4 223.9h0M379.4 224.9h0M380.4 228.3h0M381.4 229.3h0M382.4 232.7h0M383.4 230h0M384.4 231.3h0M385.4 234.4h0M386.4 238.2h0M387.4 236.9h0M388.4 239.7h0M389.4 243.5h0M390.4 241.9h0M391.4 247.2h0M392.4 247.9h0M393.4 247.9h0M394.4 250.3h0M395.4 250.9h0M396.4 252.5h0M397.4 254h0M398.4 256h0M399.4 257.2h0M400.4 257.2h0M401.4 258.1h0M402.4 265.1h0M403.4 260.3h0M404.4 263.3h0M405.4 267.1h0M406.4 267.9h0M407.4 265.7h0M408.4 272.3h0M409.4 273h0M410.4 269.9h0M411.4 269.1h0M412.4 274.1h0M413.4 273.5h0M414.4 274.3h0M415.4 273.9h0M416.4 275.8h0M417.4 278.5h0M418.4 281.1h0M419.4 275.7h0M420.4 276h0M421.4 284.4h0M422.4 281.4h0M423.4 285.9h0M424.4 285.6h0M425.4 289.2h0M426.4 289.5h0M427.4 287.7h0M428.4 289h0M429.4 291.1h0M430.4 293.1h0M431.4 290.8h0M432.4 289.6h0M433.4 294.4h0M434.4 295h0M435.4 295.6h0M436.4 294.4h0M437.4 299.3h0M438.4 294.3h0M439.4 298.3h0M440.4 303.6h0M441.4 298.4h0M442.4 303.1h0M443.4 304h0M444.4 304.7h0M445.5 300h0M446.5 307.7h0M447.5 306.2h0M448.5 307.9h0M449.5 308.1h0M450.5 308.1h0M451.5 312h0M452.5 313.3h0M453.5 305h0M454.5 308.6h0M455.5 311h0M456.5 306.2h0M457.5 316.9h0M458.5 311.4h0M459.5 315.8h0M460.5 315.6h0M461.5 315.1h0M462.5 313.5h0M463.5 316.1h0M464.5 318.1h0M465.5 320.9h0M466.5 318.8h0M467.5 319h0M468.5 320.2h0M469.5 325.5h0M470.5 323.3h0M471.5 321.2h0M472.5 320.2h0M473.5 323.6h0M474.5 322.9h0M475.5 325.2h0M476.5 331.4h0M477.5 330.2h0M478.5 330.6h0M479.5 330.9h0M480.5 335.9h0M481.5 327.7h0M482.5 333.5h0M483.5 332.3h0M484.5 334.2h0M485.5 334.8h0M486.5 334.3h0M487.5 338h0M488.5 329.9h0M489.5 338.8h0M490.5 340.9h0M491.5 336.2h0M492.5 336.9h0M493.5 347.4h0M494.5 338.6h0M495.5 341.1h0M496.5 340.5h0M497.5 341.8h0M498.5 342.2h0M499.5 337.8h0M500.5 354.3h0M501.5 344h0M502.5 348.5h0M503.5 347.5h0M504.5 353.2h0M505.5 351.4h0M506.5 353.5h0M507.5 354.2h0M508.5 353.5h0M509.5 351.1h0M510.5 354.8h0M511.5 346.1h0M512.5 355.7h0M513.5 355.5h0M514.5 354.5h0M515.5 348.9h0M516.5 359.3h0M517.5 352.2h0M518.5 357.6h0M519.5 348.7h0M520.6 355.4h0M521.6 357.2h0M522.6 354h0M523.6 354.9h0M524.6 364.7h0M525.6 358.2h0M526.6 360.1h0M527.6 367.5h0M528.6 357.4h0M529.6 366.1h0M530.6 359.1h0M531.6 358.6h0M532.6 359.9h0M533.6 354.8h0M534.6 356.3h0M535.6 358.3h0M536.6 361h0M537.6 366.5h0M538.6 368.4h0M539.6 363h0M540.6 366.4h0M541.6 367h0M542.6 364.7h0M543.6 370.4h0M544.6 364h0M545.6 369.1h0M546.6 366.2h0M547.6 367.7h0M548.6 368.9h0M549.6 368.8h0M550.6 365.5h0M551.6 363.2h0M552.6 368.8h0M553.6 367h0M554.6 367.5h0M555.6 369.5h0M556.6 367.3h0M557.6 372.4h0M558.6 372.5h0M559.6 367.3h0M560.6 372.9h0M561.6 367.6h0M562.6 374.9h0M563.6 374.8h0M564.6 372.4h0M565.6 376.5h0M566.6 377.3h0M567.6 375.1h0M568.6 365.6h0M569.6 374.2h0M570.6 374.8h0M571.6 377.7h0M572.6 380.3h0M573.6 377.7h0M574.6 376.5h0M575.6 376.9h0M576.6 370h0M577.6 371.9h0M578.6 380.8h0M579.6 379.7h0M580.6 376h0M581.6 381.3h0M582.6 378h0M583.6 375.2h0M584.6 370.3h0M585.6 381.9h0M586.6 377h0M587.6 378.9h0M588.6 370h0M589.6 375.8h0M590.6 379.7h0M591.6 377.4h0M592.6 375.4h0M593.6 373.9h0M594.6 380h0M595.6 377.5h0M596.7 377.8h0M597.7 378.2h0M598.7 376.7h0M599.7 369.3h0M600.7 377.1h0M601.7 380.1h0M602.7 373.9h0M603.7 375.3h0M604.7 380.5h0M605.7 379.7h0M606.7 381.3h0M607.7 389.8h0M608.7 384.2h0M609.7 386h0M610.7 382.9h0M611.7 380.6h0M612.7 377.6h0M613.7 372.9h0M614.7 375.1h0M615.7 371h0M616.7 376.6h0M617.7 374.6h0M618.7 377.5h0M619.7 381.9h0M620.7 380.3h0M621.7 386.3h0M622.7 386.5h0M623.7 387.2h0M624.7 386.5h0M625.7 384h0M626.7 380.5h0M627.7 385.1h0M628.7 382h0M629.7 382.3h0M630.7 385.2h0M631.7 378.5h0M632.7 376.1h0M633.7 385.2h0" stroke="#ff00ff" stroke-width="4.0" stroke-linecap="round" fill="none"/>
<polyline points="28.9,391 29.9,397.4 30.9,403.6 31.9,396.5 32.9,392.3 33.9,396.1 34.9,395.3 35.9,389.7 36.9,392.9 37.9,385.1 38.9,382 39.9,387.6 40.9,381.2 41.9,386.3 42.9,388.4 43.9,389.4 44.9,397.1 45.9,383.2 46.9,385 47.9,384.6 48.9,381.5 49.9,395.6 50.9,381.8 51.9,383.9 52.9,383.8 53.9,395.7 54.9,382.3 55.9,379.7 56.9,388.7 57.9,379.3 58.9,372.2 59.9,386.8 60.9,385.4 61.9,374.1 62.9,374.5 63.9,379.6 64.9,374.9 65.9,372 67,373 68,386.2 69,382.5 70,372.4 71,376.1 72,376.8 73,374.4 74,375.3 75,382.9 76,371.8 77,370.8 78,373.7 79,370.5 80,371.1 81,370.7 82,367.9 83,377.2 84,368.6 85,376.9 86,367 87,366.4 88,371 89,368.5 90,372.8 91,371.7 92,378.4 93,357.5 94,363.3 95,367.2 96,366.1 97,366.4 98,377.2 99,356.4 100,368.4 101,364.2 102,364.9 103,369 104,363.8 105,367 106,368.7 107,367.9 108,354.9 109,359.5 110,356.4 111,358.2 112,360.2 113,369 114,357.5 115,363.8 116,358.6 117,364.9 118,356.2 119,359.8 120,360.8 121,359.4 122,348.7 123,351.1 124,358.4 125,348.3 126,353.9 127,348.4 128,355.4 129,353.2 130,346.9 131,351.4 132,347.8 133,349.3 134,355.7 135,351.5 136,351.3 137,355.3 138,349.4 139,353.4 140,349.5 141,348.6 142,345.7 143.1,343.5 144.1,342.3 145.1,342.2 146.1,347 147.1,346 148.1,341 149.1,347.9 150.1,340.7 151.1,341 152.1,337 153.1,338.4 154.1,343.8 155.1,341.7 156.1,337.4 157.1,343.3 158.1,338.2 159.1,338 160.1,340.7 161.1,338.1 162.1,334.7 163.1,331.7 164.1,338.8 165.1,326 166.1,331.1 167.1,326.7 168.1,329.8 169.1,333.8 170.1,329.2 171.1,328.2 172.1,328.7 173.1,334.3 174.1,331.6 175.1,327.3 176.1,323.8 177.1,323.8 178.1,322.9 179.1,322.8 180.1,322.4 181.1,318.8 182.1,317.1 183.1,317.2 184.1,320.5 185.1,316.3 186.1,325.8 187.1,319.2 188.1,318.8 189.1,319.1 190.1,312.5 191.1,311.5 192.1,313.5 193.1,315.2 194.1,314.4 195.1,316.8 196.1,315.4 197.1,313.7 198.1,313.3 199.1,310.2 200.1,311.2 201.1,307.4 202.1,306.3 203.1,309.3 204.1,301.6 205.1,309.1 206.1,309.6 207.1,302.6 208.1,305.2 209.1,302.9 210.1,299.2 211.1,301.9 212.1,301.6 213.1,302 214.1,297.8 215.1,298.2 216.1,295.6 217.1,298.8 218.2,295.3 219.2,296.8 220.2,292.2 221.2,293.3 222.2,290 223.2,289.6 224.2,293.2 225.2,289.2 226.2,288.6 227.2,289.6 228.2,285.1 229.2,290.6 230.2,283.4 231.2,283.4 232.2,288.3 233.2,278.5 234.2,285.4 235.2,281.4 236.2,280.7 237.2,276.2 238.2,277.9 239.2,273.8 240.2,277.7 241.2,274 242.2,272.1 243.2,271.4 244.2,271.1 245.2,272.3 246.2,270 247.2,266.6 248.2,265.3 249.2,263.9 250.2,266.4 251.2,264.6 252.2,260.3 253.2,258.2 254.2,260 255.2,257.8 256.2,259.6 257.2,256.3 258.2,255.9 259.2,255.4 260.2,254.6 261.2,251 262.2,251.3 263.2,247.7 264.2,242.7 265.2,246.3 266.2,246.5 267.2,245.4 268.2,241.4 269.2,237.1 270.2,238.9 271.2,236.5 272.2,236.2 273.2,235.2 274.2,231.2 275.2,229.1 276.2,227.9 277.2,225.7 278.2,223.5 279.2,223.6 280.2,220.5 281.2,219.4 282.2,217.7 283.2,215.6 284.2,215.6 285.2,212.5 286.2,211.4 287.2,210.9 288.2,208 289.2,204.7 290.2,204.3 291.2,202.6 292.2,202.2 293.2,201.6 294.3,197.9 295.3,195.4 296.3,195 297.3,190.1 298.3,188.8 299.3,186.4 300.3,183.2 301.3,180.4 302.3,178.2 303.3,176.9 304.3,173.2 305.3,169.2 306.3,167.1 307.3,163.2 308.3,161.5 309.3,156.9 310.3,152.8 311.3,150.4 312.3,146.9 313.3,143.3 314.3,139.5 315.3,136.5 316.3,133 317.3,126.8 318.3,121 319.3,115.9 320.3,106.1 321.3,95.9 322.3,84.4 323.3,71.9 324.3,60.2 325.3,48.9 326.3,38 327.3,26.9 328.3,17.9 329.3,9.5 330.3,5.7 331.3,6.2 332.3,10.3 333.3,16.4 334.3,29.4 335.3,45.2 336.3,59.6 337.3,75 338.3,91 339.3,102.2 340.3,113.2 341.3,122.7 342.3,127.2 343.3,133.4 344.3,138.8 345.3,142.2 346.3,144.8 347.3,148.9 348.3,152.2 349.3,153.5 350.3,158.5 351.3,160 352.3,162.9 353.3,165.2 354.3,168.2 355.3,170.4 356.3,172.2 357.3,177.3 358.3,179.5 359.3,183.9 360.3,183.6 361.3,187.6 362.3,191.2 363.3,190.7 364.3,193.1 365.3,197.1 366.3,201.1 367.3,199.6 368.3,203.3 369.4,204.9 370.4,206.4 371.4,208.6 372.4,212.4 373.4,212.8 374.4,212.5 375.4,215.2 376.4,217.8 377.4,217.3 378.4,219.9 379.4,221.9 380.4,220.9 381.4,226.6 382.4,224.5 383.4,228.5 384.4,229.6 385.4,230.3 386.4,234.5 387.4,234.1 388.4,234 389.4,238.6 390.4,239.1 391.4,237.9 392.4,238.5 393.4,244 394.4,243.8 395.4,243.1 396.4,248.1 397.4,246.1 398.4,248.9 399.4,250.1 400.4,249.5 401.4,255.7 402.4,260.8 403.4,258.3 404.4,259.1 405.4,259.1 406.4,260.6 407.4,262.4 408.4,264.2 409.4,263.1 410.4,265.2 411.4,265.8 412.4,268.4 413.4,270.2 414.4,271.6 415.4,269.5 416.4,270.4 417.4,273.9 418.4,272.9 419.4,274 420.4,276.5 421.4,277.4 422.4,280.5 423.4,276 424.4,282.2 425.4,279.7 426.4,283.3 427.4,279.9 428.4,283.5 429.4,283.4 430.4,289.9 431.4,284.6 432.4,290.4 433.4,286.8 434.4,286.9 435.4,291.2 436.4,293.9 437.4,292.1 438.4,294.5 439.4,294.4 440.4,294.5 441.4,298.8 442.4,296.2 443.4,299.1 444.4,294.8 445.5,297.5 446.5,301.6 447.5,298.7 448.5,295.2 449.5,303.3 450.5,308.5 451.5,302.1 452.5,303.8 453.5,303.4 454.5,306 455.5,308.7 456.5,307.3 457.5,307 458.5,306.7 459.5,308.3 460.5,308.1 461.5,312.9 462.5,308 463.5,310.1 464.5,313.4 465.5,314.1 466.5,314.6 467.5,313.4 468.5,315.9 469.5,311.9 470.5,312.3 471.5,313.7 472.5,319.2 473.5,322.8 474.5,318.2 475.5,318.5 476.5,319.9 477.5,326.8 478.5,322.7 479.5,323 480.5,321.6 481.5,325.4 482.5,328.4 483.5,325.6 484.5,323.1 485.5,330.2 486.5,326.6 487.5,332.7 488.5,324.4 489.5,327.8 490.5,329.5 491.5,323.7 492.5,330 493.5,332.1 494.5,330.2 495.5,332.5 496.5,332.2 497.5,329.4 498.5,334.9 499.5,330.6 500.5,332.5 501.5,331.6 502.5,336.5 503.5,333.4 504.5,333.9 505.5,328.9 506.5,335.5 507.5,340.2 508.5,330.5 509.5,339.1 510.5,338.2 511.5,333.1 512.5,338 513.5,343.1 514.5,340.3 515.5,342 516.5,345.1 517.5,340.7 518.5,345.3 519.5,338.5 520.6,340.3 521.6,348.8 522.6,348.9 523.6,348 524.6,339.9 525.6,344.8 526.6,342.9 527.6,353.3 528.6,342.2 529.6,342.9 530.6,345.7 531.6,349.4 532.6,346.6 533.6,348 534.6,350.6 535.6,350 536.6,343.5 537.6,346.1 538.6,357.1 539.6,351.7 540.6,358.5 541.6,357.6 542.6,356.7 543.6,353.3 544.6,359.1 545.6,352.1 546.6,362.5 547.6,356.7 548.6,357.1 549.6,353.8 550.6,353.5 551.6,355 552.6,354.3 553.6,353.3 554.6,352.9 555.6,358 556.6,362.2 557.6,365.4 558.6,361.2 559.6,358.1 560.6,361.2 561.6,365.7 562.6,359.9 563.6,363.6 564.6,361.5 565.6,355.4 566.6,358.3 567.6,363.5 568.6,357.7 569.6,351.1 570.6,362.8 571.6,365.4 572.6,365.5 573.6,365.3 574.6,361 575.6,361.9 576.6,367 577.6,370.9 578.6,352.4 579.6,367.9 580.6,374.4 581.6,363.3 582.6,360.7 583.6,361.3 584.6,359.2 585.6,365.2 586.6,360.4 587.6,363.7 588.6,358.6 589.6,369.5 590.6,367.6 591.6,360.3 592.6,367 593.6,363.7 594.6,362 595.6,365.9 596.7,369.1 597.7,372 598.7,367.1 599.7,370.9 600.7,369.1 601.7,369.2 602.7,370.5 603.7,361.1 604.7,365.2 605.7,373 606.7,361.5 607.7,363.7 608.7,374.9 609.7,363.1 610.7,367.9 611.7,368.5 612.7,366.3 613.7,371.4 614.7,371.2 615.7,364.8 616.7,374.9 617.7,364.4 618.7,366 619.7,367.3 620.7,368.7 621.7,363.4 622.7,368.9 623.7,358.9 624.7,365.9 625.7,364.2 626.7,365 627.7,367.6 628.7,368.9 629.7,364.8 630.7,368 631.7,361.7 632.7,366.3 633.7,371.7" fill="none" stroke="#0000a0" stroke-width="0.9" stroke-linejoin="round"/>
<path d="M28.9 391h0M29.9 397.4h0M30.9 403.6h0M31.9 396.5h0M32.9 392.3h0M33.9 396.1h0M34.9 395.3h0M35.9 389.7h0M36.9 392.9h0M37.9 385.1h0M38.9 382h0M39.9 387.6h0M40.9 381.2h0M41.9 386.3h0M42.9 388.4h0M43.9 389.4h0M44.9 397.1h0M45.9 383.2h0M46.9 385h0M47.9 384.6h0M48.9 381.5h0M49.9 395.6h0M50.9 381.8h0M51.9 383.9h0M52.9 383.8h0M53.9 395.7h0M54.9 382.3h0M55.9 379.7h0M56.9 388.7h0M57.9 379.3h0M58.9 372.2h0M59.9 386.8h0M60.9 385.4h0M61.9 374.1h0M62.9 374.5h0M63.9 379.6h0M64.9 374.9h0M65.9 372h0M67 373h0M68 386.2h0M69 382.5h0M70 372.4h0M71 376.1h0M72 376.8h0M73 374.4h0M74 375.3h0M75 382.9h0M76 371.8h0M77 370.8h0M78 373.7h0M79 370.5h0M80 371.1h0M81 370.7h0M82 367.9h0M83 377.2h0M84 368.6h0M85 376.9h0M86 367h0M87 366.4h0M88 371h0M89 368.5h0M90 372.8h0M91 371.7h0M92 378.4h0M93 357.5h0M94 363.3h0M95 367.2h0M96 366.1h0M97 366.4h0M98 377.2h0M99 356.4h0M100 368.4h0M101 364.2h0M102 364.9h0M103 369h0M104 363.8h0M105 367h0M106 368.7h0M107 367.9h0M108 354.9h0M109 359.5h0M110 356.4h0M111 358.2h0M112 360.2h0M113 369h0M114 357.5h0M115 363.8h0M116 358.6h0M117 364.9h0M118 356.2h0M119 359.8h0M120 360.8h0M121 359.4h0M122 348.7h0M123 351.1h0M124 358.4h0M125 348.3h0M126 353.9h0M127 348.4h0M128 355.4h0M129 353.2h0M130 346.9h0M131 351.4h0M132 347.8h0M133 349.3h0M134 355.7h0M135 351.5h0M136 351.3h0M137 355.3h0M138 349.4h0M139 353.4h0M140 349.5h0M141 348.6h0M142 345.7h0M143.1 343.5h0M144.1 342.3h0M145.1 342.2h0M146.1 347h0M147.1 346h0M148.1 341h0M149.1 347.9h0M150.1 340.7h0M151.1 341h0M152.1 337h0M153.1 338.4h0M154.1 343.8h0M155.1 341.7h0M156.1 337.4h0M157.1 343.3h0M158.1 338.2h0M159.1 338h0M160.1 340.7h0M161.1 338.1h0M162.1 334.7h0M163.1 331.7h0M164.1 338.8h0M165.1 326h0M166.1 331.1h0M167.1 326.7h0M168.1 329.8h0M169.1 333.8h0M170.1 329.2h0M171.1 328.2h0M172.1 328.7h0M173.1 334.3h0M174.1 331.6h0M175.1 327.3h0M176.1 323.8h0M177.1 323.8h0M178.1 322.9h0M179.1 322.8h0M180.1 322.4h0M181.1 318.8h0M182.1 317.1h0M183.1 317.2h0M184.1 320.5h0M185.1 316.3h0M186.1 325.8h0M187.1 319.2h0M188.1 318.8h0M189.1 319.1h0M190.1 312.5h0M191.1 311.5h0M192.1 313.5h0M193.1 315.2h0M194.1 314.4h0M195.1 316.8h0M196.1 315.4h0M197.1 313.7h0M198.1 313.3h0M199.1 310.2h0M200.1 311.2h0M201.1 307.4h0M202.1 306.3h0M203.1 309.3h0M204.1 301.6h0M205.1 309.1h0M206.1 309.6h0M207.1 302.6h0M208.1 305.2h0M209.1 302.9h0M210.1 299.2h0M211.1 301.9h0M212.1 301.6h0M213.1 302h0M214.1 297.8h0M215.1 298.2h0M216.1 295.6h0M217.1 298.8h0M218.2 295.3h0M219.2 296.8h0M220.2 292.2h0M221.2 293.3h0M222.2 290h0M223.2 289.6h0M224.2 293.2h0M225.2 289.2h0M226.2 288.6h0M227.2 289.6h0M228.2 285.1h0M229.2 290.6h0M230.2 283.4h0M231.2 283.4h0M232.2 288.3h0M233.2 278.5h0M234.2 285.4h0M235.2 281.4h0M236.2 280.7h0M237.2 276.2h0M238.2 277.9h0M239.2 273.8h0M240.2 277.7h0M241.2 274h0M242.2 272.1h0M243.2 271.4h0M244.2 271.1h0M245.2 272.3h0M246.2 270h0M247.2 266.6h0M248.2 265.3h0M249.2 263.9h0M250.2 266.4h0M251.2 264.6h0M252.2 260.3h0M253.2 258.2h0M254.2 260h0M255.2 257.8h0M256.2 259.6h0M257.2 256.3h0M258.2 255.9h0M259.2 255.4h0M260.2 254.6h0M261.2 251h0M262.2 251.3h0M263.2 247.7h0M264.2 242.7h0M265.2 246.3h0M266.2 246.5h0M267.2 245.4h0M268.2 241.4h0M269.2 237.1h0M270.2 238.9h0M271.2 236.5h0M272.2 236.2h0M273.2 235.2h0M274.2 231.2h0M275.2 229.1h0M276.2 227.9h0M277.2 225.7h0M278.2 223.5h0M279.2 223.6h0M280.2 220.5h0M281.2 219.4h0M282.2 217.7h0M283.2 215.6h0M284.2 215.6h0M285.2 212.5h0M286.2 211.4h0M287.2 210.9h0M288.2 208h0M289.2 204.7h0M290.2 204.3h0M291.2 202.6h0M292.2 202.2h0M293.2 201.6h0M294.3 197.9h0M295.3 195.4h0M296.3 195h0M297.3 190.1h0M298.3 188.8h0M299.3 186.4h0M300.3 183.2h0M301.3 180.4h0M302.3 178.2h0M303.3 176.9h0M304.3 173.2h0M305.3 169.2h0M306.3 167.1h0M307.3 163.2h0M308.3 161.5h0M309.3 156.9h0M310.3 152.8h0M311.3 150.4h0M312.3 146.9h0M313.3 143.3h0M314.3 139.5h0M315.3 136.5h0M316.3 133h0M317.3 126.8h0M318.3 121h0M319.3 115.9h0M320.3 106.1h0M321.3 95.9h0M322.3 84.4h0M323.3 71.9h0M324.3 60.2h0M325.3 48.9h0M326.3 38h0M327.3 26.9h0M328.3 17.9h0M329.3 9.5h0M330.3 5.7h0M331.3 6.2h0M332.3 10.3h0M333.3 16.4h0M334.3 29.4h0M335.3 45.2h0M336.3 59.6h0M337.3 75h0M338.3 91h0M339.3 102.2h0M340.3 113.2h0M341.3 122.7h0M342.3 127.2h0M343.3 133.4h0M344.3 138.8h0M345.3 142.2h0M346.3 144.8h0M347.3 148.9h0M348.3 152.2h0M349.3 153.5h0M350.3 158.5h0M351.3 160h0M352.3 162.9h0M353.3 165.2h0M354.3 168.2h0M355.3 170.4h0M356.3 172.2h0M357.3 177.3h0M358.3 179.5h0M359.3 183.9h0M360.3 183.6h0M361.3 187.6h0M362.3 191.2h0M363.3 190.7h0M364.3 193.1h0M365.3 197.1h0M366.3 201.1h0M367.3 199.6h0M368.3 203.3h0M369.4 204.9h0M370.4 206.4h0M371.4 208.6h0M372.4 212.4h0M373.4 212.8h0M374.4 212.5h0M375.4 215.2h0M376.4 217.8h0M377.4 217.3h0M378.4 219.9h0M379.4 221.9h0M380.4 220.9h0M381.4 226.6h0M382.4 224.5h0M383.4 228.5h0M384.4 229.6h0M385.4 230.3h0M386.4 234.5h0M387.4 234.1h0M388.4 234h0M389.4 238.6h0M390.4 239.1h0M391.4 237.9h0M392.4 238.5h0M393.4 244h0M394.4 243.8h0M395.4 243.1h0M396.4 248.1h0M397.4 246.1h0M398.4 248.9h0M399.4 250.1h0M400.4 249.5h0M401.4 255.7h0M402.4 260.8h0M403.4 258.3h0M404.4 259.1h0M405.4 259.1h0M406.4 260.6h0M407.4 262.4h0M408.4 264.2h0M409.4 263.1h0M410.4 265.2h0M411.4 265.8h0M412.4 268.4h0M413.4 270.2h0M414.4 271.6h0M415.4 269.5h0M416.4 270.4h0M417.4 273.9h0M418.4 272.9h0M419.4 274h0M420.4 276.5h0M421.4 277.4h0M422.4 280.5h0M423.4 276h0M424.4 282.2h0M425.4 279.7h0M426.4 283.3h0M427.4 279.9h0M428.4 283.5h0M429.4 283.4h0M430.4 289.9h0M431.4 284.6h0M432.4 290.4h0M433.4 286.8h0M434.4 286.9h0M435.4 291.2h0M436.4 293.9h0M437.4 292.1h0M438.4 294.5h0M439.4 294.4h0M440.4 294.5h0M441.4 298.8h0M442.4 296.2h0M443.4 299.1h0M444.4 294.8h0M445.5 297.5h0M446.5 301.6h0M447.5 298.7h0M448.5 295.2h0M449.5 303.3h0M450.5 308.5h0M451.5 302.1h0M452.5 303.8h0M453.5 303.4h0M454.5 306h0M455.5 308.7h0M456.5 307.3h0M457.5 307h0M458.5 306.7h0M459.5 308.3h0M460.5 308.1h0M461.5 312.9h0M462.5 308h0M463.5 310.1h0M464.5 313.4h0M465.5 314.1h0M466.5 314.6h0M467.5 313.4h0M468.5 315.9h0M469.5 311.9h0M470.5 312.3h0M471.5 313.7h0M472.5 319.2h0M473.5 322.8h0M474.5 318.2h0M475.5 318.5h0M476.5 319.9h0M477.5 326.8h0M478.5 322.7h0M479.5 323h0M480.5 321.6h0M481.5 325.4h0M482.5 328.4h0M483.5 325.6h0M484.5 323.1h0M485.5 330.2h0M486.5 326.6h0M487.5 332.7h0M488.5 324.4h0M489.5 327.8h0M490.5 329.5h0M491.5 323.7h0M492.5 330h0M493.5 332.1h0M494.5 330.2h0M495.5 332.5h0M496.5 332.2h0M497.5 329.4h0M498.5 334.9h0M499.5 330.6h0M500.5 332.5h0M501.5 331.6h0M502.5 336.5h0M503.5 333.4h0M504.5 333.9h0M505.5 328.9h0M506.5 335.5h0M507.5 340.2h0M508.5 330.5h0M509.5 339.1h0M510.5 338.2h0M511.5 333.1h0M512.5 338h0M513.5 343.1h0M514.5 340.3h0M515.5 342h0M516.5 345.1h0M517.5 340.7h0M518.5 345.3h0M519.5 338.5h0M520.6 340.3h0M521.6 348.8h0M522.6 348.9h0M523.6 348h0M524.6 339.9h0M525.6 344.8h0M526.6 342.9h0M527.6 353.3h0M528.6 342.2h0M529.6 342.9h0M530.6 345.7h0M531.6 349.4h0M532.6 346.6h0M533.6 348h0M534.6 350.6h0M535.6 350h0M536.6 343.5h0M537.6 346.1h0M538.6 357.1h0M539.6 351.7h0M540.6 358.5h0M541.6 357.6h0M542.6 356.7h0M543.6 353.3h0M544.6 359.1h0M545.6 352.1h0M546.6 362.5h0M547.6 356.7h0M548.6 357.1h0M549.6 353.8h0M550.6 353.5h0M551.6 355h0M552.6 354.3h0M553.6 353.3h0M554.6 352.9h0M555.6 358h0M556.6 362.2h0M557.6 365.4h0M558.6 361.2h0M559.6 358.1h0M560.6 361.2h0M561.6 365.7h0M562.6 359.9h0M563.6 363.6h0M564.6 361.5h0M565.6 355.4h0M566.6 358.3h0M567.6 363.5h0M568.6 357.7h0M569.6 351.1h0M570.6 362.8h0M571.6 365.4h0M572.6 365.5h0M573.6 365.3h0M574.6 361h0M575.6 361.9h0M576.6 367h0M577.6 370.9h0M578.6 352.4h0M579.6 367.9h0M580.6 374.4h0M581.6 363.3h0M582.6 360.7h0M583.6 361.3h0M584.6 359.2h0M585.6 365.2h0M586.6 360.4h0M587.6 363.7h0M588.6 358.6h0M589.6 369.5h0M590.6 367.6h0M591.6 360.3h0M592.6 367h0M593.6 363.7h0M594.6 362h0M595.6 365.9h0M596.7 369.1h0M597.7 372h0M598.7 367.1h0M599.7 370.9h0M600.7 369.1h0M601.7 369.2h0M602.7 370.5h0M603.7 361.1h0M604.7 365.2h0M605.7 373h0M606.7 361.5h0M607.7 363.7h0M608.7 374.9h0M609.7 363.1h0M610.7 367.9h0M611.7 368.5h0M612.7 366.3h0M613.7 371.4h0M614.7 371.2h0M615.7 364.8h0M616.7 374.9h0M617.7 364.4h0M618.7 366h0M619.7 367.3h0M620.7 368.7h0M621.7 363.4h0M622.7 368.9h0M623.7 358.9h0M624.7 365.9h0M625.7 364.2h0M626.7 365h0M627.7 367.6h0M628.7 368.9h0M629.7 364.8h0M630.7 368h0M631.7 361.7h0M632.7 366.3h0M633.7 371.7h0" stroke="#0000a0" stroke-width="4.0" stroke-linecap="round" fill="none"/>
<polyline points="263,428.6 300,428.6 315.5,428.3 318.8,425.6 320.8,407 322.8,367 324.4,300 326.1,220 327.4,140 328.4,80 329.3,35 330,14 330.6,6 331.3,14 332.1,35 333,80 333.9,140 334.8,220 336.1,300 337.2,367 338.1,407 339.5,421 342.8,426 346,428.3 380,428.6 420,428.6" fill="none" stroke="#333" stroke-width="1.0" stroke-dasharray="3,3"/>
<path d="M28.9 430H633.7" stroke="#000" stroke-width="1.9" fill="none"/>
<path d="M28.9 429.1v9.7M182.4 429.1v9.7M332.6 429.1v9.7M483.3 429.1v9.7M633.7 429.1v9.7M106.5 429.1v5.3M257.5 429.1v5.3M408 429.1v5.3M558.5 429.1v5.3" stroke="#000" stroke-width="1.8" fill="none"/>
<text x="26.4" y="464" class="tk">-1.0</text>
<text x="179.9" y="464" class="tk">-0.5</text>
<text x="335" y="464" class="tk">0.0</text>
<text x="485.7" y="464" class="tk">0.5</text>
<text x="636.1" y="464" class="tk">1.0</text>
<text x="334.4" y="500" class="tk" style="font-size:29px">E (meV)</text>
<polyline points="795.5,422.4 797.3,420.6 799,422.1 800.8,419.6 802.6,418.9 804.3,421.6 806.1,416.3 807.9,414.2 809.6,416.6 811.4,416.6 813.2,414.2 814.9,413.5 816.7,411.5 818.5,409.1 820.2,409.4 822,407.9 823.8,411.5 825.5,407.7 827.3,410 829.1,406.1 830.9,403.7 832.6,404.9 834.4,404 836.2,405.2 837.9,397.9 839.7,400 841.5,400.7 843.2,397.6 845,398.3 846.8,396.7 848.5,399 850.3,397.8 852.1,390.9 853.8,391 855.6,391.5 857.4,392 859.1,391 860.9,389.5 862.7,390.7 864.4,390.3 866.2,388.1 868,386.5 869.7,386.2 871.5,383.8 873.3,385.8 875,384.9 876.8,381 878.6,384.1 880.3,380.6 882.1,381.1 883.9,378.7 885.6,377.4 887.4,377.9 889.2,374.2 890.9,374.3 892.7,371.8 894.5,373.5 896.2,371.3 898,370.1 899.8,368.8 901.6,369.6 903.3,367.9 905.1,366.1 906.9,364.6 908.6,367 910.4,365.4 912.2,360.3 913.9,362.7 915.7,360.5 917.5,359.1 919.2,358.1 921,354.2 922.8,358.6 924.5,356.8 926.3,352.6 928.1,351.3 929.8,350.3 931.6,347.8 933.4,348.2 935.1,346 936.9,343.2 938.7,342.6 940.4,341 942.2,339.6 944,338.5 945.7,338.3 947.5,335.4 949.3,332.3 951,334.6 952.8,330.5 954.6,331.4 956.3,328.2 958.1,327 959.9,323.6 961.6,323 963.4,320.7 965.2,319.4 967,318.2 968.7,315.4 970.5,315 972.3,310.6 974,309.1 975.8,308.9 977.6,307.1 979.3,305.8 981.1,304.4 982.9,301.1 984.6,299.4 986.4,296.8 988.2,294.6 989.9,292.2 991.7,290.1 993.5,287.2 995.2,285.2 997,283.7 998.8,280.9 1000.5,279.1 1002.3,275 1004.1,272.7 1005.8,270.9 1007.6,267.3 1009.4,264.9 1011.1,263.8 1012.9,260.7 1014.7,259.4 1016.4,256.4 1018.2,253.6 1020,250.7 1021.7,250.1 1023.5,246.5 1025.3,243.3 1027,240.2 1028.8,237.7 1030.6,235.5 1032.4,233.9 1034.1,229.4 1035.9,227.2 1037.7,224.1 1039.4,219 1041.2,216.5 1043,214.3 1044.7,208.8 1046.5,206.9 1048.3,202.2 1050,197.2 1051.8,195.1 1053.6,189.8 1055.3,186.6 1057.1,181.5 1058.9,176.6 1060.6,172.9 1062.4,168.1 1064.2,161.9 1065.9,153.5 1067.7,146.1 1069.5,136.4 1071.2,127.2 1073,118.2 1074.8,107.3 1076.5,98.7 1078.3,87.6 1080.1,78.3 1081.8,69.7 1083.6,59.3 1085.4,48.8 1087.1,39.4 1088.9,31.4 1090.7,22.4 1092.4,13.5 1094.2,8.8 1096,5.7 1097.8,5.9 1099.5,8.5 1101.3,13.5 1103.1,21.9 1104.8,32.9 1106.6,47.8 1108.4,64 1110.1,80.6 1111.9,95.3 1113.7,108.1 1115.4,123.7 1117.2,141.9 1119,148.9 1120.7,155.6 1122.5,162 1124.3,168.9 1126,173.7 1127.8,177.9 1129.6,182.7 1131.3,187.2 1133.1,190.4 1134.9,194.7 1136.6,198.5 1138.4,202 1140.2,205.7 1141.9,209.6 1143.7,212.1 1145.5,215.7 1147.2,220.4 1149,224 1150.8,227.3 1152.5,227.5 1154.3,231.7 1156.1,233.5 1157.8,236.4 1159.6,239.4 1161.4,242.7 1163.1,245.8 1164.9,246.3 1166.7,250.5 1168.5,254.6 1170.2,256.4 1172,257.4 1173.8,260.3 1175.5,262.8 1177.3,266.8 1179.1,269.8 1180.8,269.6 1182.6,273.4 1184.4,275 1186.1,278.1 1187.9,279.5 1189.7,280.8 1191.4,283.3 1193.2,285.3 1195,289.4 1196.7,289.1 1198.5,292.4 1200.3,292.9 1202,295 1203.8,297.9 1205.6,298.9 1207.3,303.6 1209.1,304.9 1210.9,304.1 1212.6,307.8 1214.4,310.8 1216.2,309.6 1217.9,312.3 1219.7,316.3 1221.5,315.3 1223.2,318.7 1225,319.5 1226.8,321.4 1228.5,321.4 1230.3,324.1 1232.1,325.1 1233.9,329.2 1235.6,329.2 1237.4,329.9 1239.2,331.1 1240.9,333.4 1242.7,331.7 1244.5,333.8 1246.2,335.2 1248,336.7 1249.8,336.9 1251.5,341.1 1253.3,341.1 1255.1,344.7 1256.8,344.2 1258.6,345.1 1260.4,347.5 1262.1,348.8 1263.9,349 1265.7,351.5 1267.4,353.7 1269.2,352.4 1271,356.2 1272.7,355.2 1274.5,357.9 1276.3,357.7 1278,358.4 1279.8,360.5 1281.6,359.5 1283.3,359.9 1285.1,363.4 1286.9,364.2 1288.6,364 1290.4,370.2 1292.2,368.6 1293.9,367.9 1295.7,371 1297.5,372.2 1299.2,371.8 1301,373.1 1302.8,371.6 1304.6,376 1306.3,379.8 1308.1,379.7 1309.9,380.6 1311.6,378.9 1313.4,379 1315.2,383.3 1316.9,383.3 1318.7,383.4 1320.5,384.2 1322.2,387.3 1324,387.7 1325.8,386.7 1327.5,388.2 1329.3,386.4 1331.1,388.2 1332.8,392.2 1334.6,391.3 1336.4,391.6 1338.1,394.6 1339.9,397.3 1341.7,394.5 1343.4,396.4 1345.2,397.5 1347,403.5 1348.7,401.8 1350.5,401.3 1352.3,399.1 1354,404.2 1355.8,404.8 1357.6,404.3 1359.3,404.1 1361.1,405.6 1362.9,404.2 1364.6,407.6 1366.4,408.3 1368.2,408.4 1370,410.4 1371.7,408.8 1373.5,415.1 1375.3,413.3 1377,412.1 1378.8,416.9 1380.6,417.2 1382.3,415.8 1384.1,414.8 1385.9,418 1387.6,419.8 1389.4,420.7 1391.2,421.8 1392.9,422.2 1394.7,417.7 1396.5,421.4 1398.2,417.5 1400,423.8" fill="none" stroke="#ff0000" stroke-width="0.9" stroke-linejoin="round"/>
<path d="M795.5 422.4h0M797.3 420.6h0M799 422.1h0M800.8 419.6h0M802.6 418.9h0M804.3 421.6h0M806.1 416.3h0M807.9 414.2h0M809.6 416.6h0M811.4 416.6h0M813.2 414.2h0M814.9 413.5h0M816.7 411.5h0M818.5 409.1h0M820.2 409.4h0M822 407.9h0M823.8 411.5h0M825.5 407.7h0M827.3 410h0M829.1 406.1h0M830.9 403.7h0M832.6 404.9h0M834.4 404h0M836.2 405.2h0M837.9 397.9h0M839.7 400h0M841.5 400.7h0M843.2 397.6h0M845 398.3h0M846.8 396.7h0M848.5 399h0M850.3 397.8h0M852.1 390.9h0M853.8 391h0M855.6 391.5h0M857.4 392h0M859.1 391h0M860.9 389.5h0M862.7 390.7h0M864.4 390.3h0M866.2 388.1h0M868 386.5h0M869.7 386.2h0M871.5 383.8h0M873.3 385.8h0M875 384.9h0M876.8 381h0M878.6 384.1h0M880.3 380.6h0M882.1 381.1h0M883.9 378.7h0M885.6 377.4h0M887.4 377.9h0M889.2 374.2h0M890.9 374.3h0M892.7 371.8h0M894.5 373.5h0M896.2 371.3h0M898 370.1h0M899.8 368.8h0M901.6 369.6h0M903.3 367.9h0M905.1 366.1h0M906.9 364.6h0M908.6 367h0M910.4 365.4h0M912.2 360.3h0M913.9 362.7h0M915.7 360.5h0M917.5 359.1h0M919.2 358.1h0M921 354.2h0M922.8 358.6h0M924.5 356.8h0M926.3 352.6h0M928.1 351.3h0M929.8 350.3h0M931.6 347.8h0M933.4 348.2h0M935.1 346h0M936.9 343.2h0M938.7 342.6h0M940.4 341h0M942.2 339.6h0M944 338.5h0M945.7 338.3h0M947.5 335.4h0M949.3 332.3h0M951 334.6h0M952.8 330.5h0M954.6 331.4h0M956.3 328.2h0M958.1 327h0M959.9 323.6h0M961.6 323h0M963.4 320.7h0M965.2 319.4h0M967 318.2h0M968.7 315.4h0M970.5 315h0M972.3 310.6h0M974 309.1h0M975.8 308.9h0M977.6 307.1h0M979.3 305.8h0M981.1 304.4h0M982.9 301.1h0M984.6 299.4h0M986.4 296.8h0M988.2 294.6h0M989.9 292.2h0M991.7 290.1h0M993.5 287.2h0M995.2 285.2h0M997 283.7h0M998.8 280.9h0M1000.5 279.1h0M1002.3 275h0M1004.1 272.7h0M1005.8 270.9h0M1007.6 267.3h0M1009.4 264.9h0M1011.1 263.8h0M1012.9 260.7h0M1014.7 259.4h0M1016.4 256.4h0M1018.2 253.6h0M1020 250.7h0M1021.7 250.1h0M1023.5 246.5h0M1025.3 243.3h0M1027 240.2h0M1028.8 237.7h0M1030.6 235.5h0M1032.4 233.9h0M1034.1 229.4h0M1035.9 227.2h0M1037.7 224.1h0M1039.4 219h0M1041.2 216.5h0M1043 214.3h0M1044.7 208.8h0M1046.5 206.9h0M1048.3 202.2h0M1050 197.2h0M1051.8 195.1h0M1053.6 189.8h0M1055.3 186.6h0M1057.1 181.5h0M1058.9 176.6h0M1060.6 172.9h0M1062.4 168.1h0M1064.2 161.9h0M1065.9 153.5h0M1067.7 146.1h0M1069.5 136.4h0M1071.2 127.2h0M1073 118.2h0M1074.8 107.3h0M1076.5 98.7h0M1078.3 87.6h0M1080.1 78.3h0M1081.8 69.7h0M1083.6 59.3h0M1085.4 48.8h0M1087.1 39.4h0M1088.9 31.4h0M1090.7 22.4h0M1092.4 13.5h0M1094.2 8.8h0M1096 5.7h0M1097.8 5.9h0M1099.5 8.5h0M1101.3 13.5h0M1103.1 21.9h0M1104.8 32.9h0M1106.6 47.8h0M1108.4 64h0M1110.1 80.6h0M1111.9 95.3h0M1113.7 108.1h0M1115.4 123.7h0M1117.2 141.9h0M1119 148.9h0M1120.7 155.6h0M1122.5 162h0M1124.3 168.9h0M1126 173.7h0M1127.8 177.9h0M1129.6 182.7h0M1131.3 187.2h0M1133.1 190.4h0M1134.9 194.7h0M1136.6 198.5h0M1138.4 202h0M1140.2 205.7h0M1141.9 209.6h0M1143.7 212.1h0M1145.5 215.7h0M1147.2 220.4h0M1149 224h0M1150.8 227.3h0M1152.5 227.5h0M1154.3 231.7h0M1156.1 233.5h0M1157.8 236.4h0M1159.6 239.4h0M1161.4 242.7h0M1163.1 245.8h0M1164.9 246.3h0M1166.7 250.5h0M1168.5 254.6h0M1170.2 256.4h0M1172 257.4h0M1173.8 260.3h0M1175.5 262.8h0M1177.3 266.8h0M1179.1 269.8h0M1180.8 269.6h0M1182.6 273.4h0M1184.4 275h0M1186.1 278.1h0M1187.9 279.5h0M1189.7 280.8h0M1191.4 283.3h0M1193.2 285.3h0M1195 289.4h0M1196.7 289.1h0M1198.5 292.4h0M1200.3 292.9h0M1202 295h0M1203.8 297.9h0M1205.6 298.9h0M1207.3 303.6h0M1209.1 304.9h0M1210.9 304.1h0M1212.6 307.8h0M1214.4 310.8h0M1216.2 309.6h0M1217.9 312.3h0M1219.7 316.3h0M1221.5 315.3h0M1223.2 318.7h0M1225 319.5h0M1226.8 321.4h0M1228.5 321.4h0M1230.3 324.1h0M1232.1 325.1h0M1233.9 329.2h0M1235.6 329.2h0M1237.4 329.9h0M1239.2 331.1h0M1240.9 333.4h0M1242.7 331.7h0M1244.5 333.8h0M1246.2 335.2h0M1248 336.7h0M1249.8 336.9h0M1251.5 341.1h0M1253.3 341.1h0M1255.1 344.7h0M1256.8 344.2h0M1258.6 345.1h0M1260.4 347.5h0M1262.1 348.8h0M1263.9 349h0M1265.7 351.5h0M1267.4 353.7h0M1269.2 352.4h0M1271 356.2h0M1272.7 355.2h0M1274.5 357.9h0M1276.3 357.7h0M1278 358.4h0M1279.8 360.5h0M1281.6 359.5h0M1283.3 359.9h0M1285.1 363.4h0M1286.9 364.2h0M1288.6 364h0M1290.4 370.2h0M1292.2 368.6h0M1293.9 367.9h0M1295.7 371h0M1297.5 372.2h0M1299.2 371.8h0M1301 373.1h0M1302.8 371.6h0M1304.6 376h0M1306.3 379.8h0M1308.1 379.7h0M1309.9 380.6h0M1311.6 378.9h0M1313.4 379h0M1315.2 383.3h0M1316.9 383.3h0M1318.7 383.4h0M1320.5 384.2h0M1322.2 387.3h0M1324 387.7h0M1325.8 386.7h0M1327.5 388.2h0M1329.3 386.4h0M1331.1 388.2h0M1332.8 392.2h0M1334.6 391.3h0M1336.4 391.6h0M1338.1 394.6h0M1339.9 397.3h0M1341.7 394.5h0M1343.4 396.4h0M1345.2 397.5h0M1347 403.5h0M1348.7 401.8h0M1350.5 401.3h0M1352.3 399.1h0M1354 404.2h0M1355.8 404.8h0M1357.6 404.3h0M1359.3 404.1h0M1361.1 405.6h0M1362.9 404.2h0M1364.6 407.6h0M1366.4 408.3h0M1368.2 408.4h0M1370 410.4h0M1371.7 408.8h0M1373.5 415.1h0M1375.3 413.3h0M1377 412.1h0M1378.8 416.9h0M1380.6 417.2h0M1382.3 415.8h0M1384.1 414.8h0M1385.9 418h0M1387.6 419.8h0M1389.4 420.7h0M1391.2 421.8h0M1392.9 422.2h0M1394.7 417.7h0M1396.5 421.4h0M1398.2 417.5h0M1400 423.8h0" stroke="#ff0000" stroke-width="4.0" stroke-linecap="round" fill="none"/>
<polyline points="795.5,404.1 797.3,404 799,401.7 800.8,400.7 802.6,399.1 804.3,395.6 806.1,397.8 807.9,400.7 809.6,398.1 811.4,395.2 813.2,395.1 814.9,394.4 816.7,392.3 818.5,392.2 820.2,391.9 822,390 823.8,390.4 825.5,390.6 827.3,389.3 829.1,387.7 830.9,386.3 832.6,386.6 834.4,384.2 836.2,383.2 837.9,384.7 839.7,381.7 841.5,379.6 843.2,381.5 845,380.4 846.8,380 848.5,377.5 850.3,378.1 852.1,375.6 853.8,373.6 855.6,373.6 857.4,373.2 859.1,370.6 860.9,370.8 862.7,370.4 864.4,368.6 866.2,368.3 868,367.2 869.7,365.4 871.5,365.8 873.3,365.2 875,361.3 876.8,361.9 878.6,362.7 880.3,361.4 882.1,357.8 883.9,359.3 885.6,359.7 887.4,358.2 889.2,357.1 890.9,355.1 892.7,354.3 894.5,352 896.2,352.2 898,353.6 899.8,350 901.6,347.9 903.3,348.3 905.1,344.5 906.9,347.9 908.6,345 910.4,342.8 912.2,341.6 913.9,339.8 915.7,339.7 917.5,338.4 919.2,335.5 921,336.9 922.8,334.3 924.5,332.3 926.3,333.1 928.1,331.7 929.8,329.1 931.6,327.8 933.4,328.2 935.1,325.5 936.9,324.8 938.7,324.7 940.4,321 942.2,319.4 944,318.7 945.7,317.7 947.5,316.9 949.3,316.4 951,313.8 952.8,314.3 954.6,311.5 956.3,308 958.1,308.2 959.9,307.3 961.6,305.9 963.4,302.7 965.2,301.4 967,301.6 968.7,298.1 970.5,295.4 972.3,293.1 974,292.1 975.8,290.9 977.6,287.9 979.3,288 981.1,284.5 982.9,281.7 984.6,281.8 986.4,279.4 988.2,277.2 989.9,276.4 991.7,273 993.5,271.9 995.2,269 997,268.5 998.8,265.2 1000.5,263.1 1002.3,261.4 1004.1,258.7 1005.8,257 1007.6,254.3 1009.4,252.7 1011.1,250.2 1012.9,247.6 1014.7,246.1 1016.4,243.8 1018.2,240.6 1020,238.8 1021.7,235.6 1023.5,234.3 1025.3,232.2 1027,230.6 1028.8,226.7 1030.6,224.4 1032.4,221.9 1034.1,218.6 1035.9,214.3 1037.7,212.1 1039.4,209.5 1041.2,206.3 1043,202.9 1044.7,199 1046.5,195 1048.3,192.6 1050,189.3 1051.8,184.8 1053.6,181.5 1055.3,177.1 1057.1,173.2 1058.9,168.6 1060.6,164.3 1062.4,158.2 1064.2,152.6 1065.9,146.1 1067.7,138.5 1069.5,130.9 1071.2,124 1073,115.4 1074.8,105.8 1076.5,96.6 1078.3,87 1080.1,78.1 1081.8,68.6 1083.6,58.8 1085.4,48.6 1087.1,38.8 1088.9,31 1090.7,21.9 1092.4,13 1094.2,8.7 1096,6.1 1097.8,5.5 1099.5,8.6 1101.3,13.6 1103.1,21.8 1104.8,32.9 1106.6,47.5 1108.4,63.8 1110.1,79.2 1111.9,93.5 1113.7,105.9 1115.4,117.3 1117.2,130 1119,140.4 1120.7,149.1 1122.5,153.7 1124.3,158.3 1126,162 1127.8,166.8 1129.6,170.4 1131.3,174.4 1133.1,177 1134.9,181.7 1136.6,185.8 1138.4,187.9 1140.2,193.6 1141.9,196.1 1143.7,199.8 1145.5,202.4 1147.2,206.3 1149,209.8 1150.8,213.7 1152.5,215 1154.3,219.9 1156.1,221.1 1157.8,224.7 1159.6,227.1 1161.4,229.9 1163.1,231.4 1164.9,234.9 1166.7,236.8 1168.5,239.8 1170.2,242.5 1172,244.8 1173.8,247 1175.5,250.3 1177.3,251.9 1179.1,254.4 1180.8,257.2 1182.6,258.4 1184.4,260.7 1186.1,263.2 1187.9,264.6 1189.7,267.6 1191.4,268.1 1193.2,270.3 1195,272.1 1196.7,273.7 1198.5,275.7 1200.3,277.1 1202,277.4 1203.8,281.8 1205.6,282.4 1207.3,285.1 1209.1,285.5 1210.9,288.6 1212.6,288.9 1214.4,292.9 1216.2,293.4 1217.9,294.9 1219.7,294.7 1221.5,296.7 1223.2,299.8 1225,301.3 1226.8,302.8 1228.5,304.4 1230.3,307.2 1232.1,307.4 1233.9,308.8 1235.6,309.9 1237.4,311 1239.2,313.6 1240.9,314.2 1242.7,315.6 1244.5,317.5 1246.2,318.5 1248,320.5 1249.8,321.7 1251.5,321 1253.3,322.7 1255.1,325.5 1256.8,325.5 1258.6,327.6 1260.4,327.3 1262.1,327 1263.9,328.4 1265.7,331 1267.4,332.4 1269.2,336.3 1271,335.9 1272.7,337.1 1274.5,338.4 1276.3,337.1 1278,339.9 1279.8,340.9 1281.6,344.2 1283.3,342.6 1285.1,343 1286.9,345.7 1288.6,346.6 1290.4,348 1292.2,349.3 1293.9,350.3 1295.7,350.6 1297.5,351.9 1299.2,356 1301,353.9 1302.8,356.2 1304.6,355.7 1306.3,355.9 1308.1,359.9 1309.9,360.2 1311.6,362.5 1313.4,363.3 1315.2,363.4 1316.9,363.3 1318.7,367.4 1320.5,366.3 1322.2,369.7 1324,369 1325.8,370.3 1327.5,370.9 1329.3,371.7 1331.1,371.8 1332.8,375.8 1334.6,372.8 1336.4,373 1338.1,376 1339.9,375.7 1341.7,378.6 1343.4,378 1345.2,380.5 1347,379.9 1348.7,379.6 1350.5,381 1352.3,383 1354,382.1 1355.8,382.6 1357.6,384.1 1359.3,385.5 1361.1,387.4 1362.9,387.1 1364.6,388.4 1366.4,387.8 1368.2,391.1 1370,392.3 1371.7,389.4 1373.5,391.3 1375.3,391.6 1377,392.9 1378.8,392.8 1380.6,393 1382.3,392.9 1384.1,394.7 1385.9,396.1 1387.6,398.2 1389.4,398.2 1391.2,397.6 1392.9,398 1394.7,397.5 1396.5,401.1 1398.2,401 1400,402.3" fill="none" stroke="#ff00ff" stroke-width="0.9" stroke-linejoin="round"/>
<path d="M795.5 404.1h0M797.3 404h0M799 401.7h0M800.8 400.7h0M802.6 399.1h0M804.3 395.6h0M806.1 397.8h0M807.9 400.7h0M809.6 398.1h0M811.4 395.2h0M813.2 395.1h0M814.9 394.4h0M816.7 392.3h0M818.5 392.2h0M820.2 391.9h0M822 390h0M823.8 390.4h0M825.5 390.6h0M827.3 389.3h0M829.1 387.7h0M830.9 386.3h0M832.6 386.6h0M834.4 384.2h0M836.2 383.2h0M837.9 384.7h0M839.7 381.7h0M841.5 379.6h0M843.2 381.5h0M845 380.4h0M846.8 380h0M848.5 377.5h0M850.3 378.1h0M852.1 375.6h0M853.8 373.6h0M855.6 373.6h0M857.4 373.2h0M859.1 370.6h0M860.9 370.8h0M862.7 370.4h0M864.4 368.6h0M866.2 368.3h0M868 367.2h0M869.7 365.4h0M871.5 365.8h0M873.3 365.2h0M875 361.3h0M876.8 361.9h0M878.6 362.7h0M880.3 361.4h0M882.1 357.8h0M883.9 359.3h0M885.6 359.7h0M887.4 358.2h0M889.2 357.1h0M890.9 355.1h0M892.7 354.3h0M894.5 352h0M896.2 352.2h0M898 353.6h0M899.8 350h0M901.6 347.9h0M903.3 348.3h0M905.1 344.5h0M906.9 347.9h0M908.6 345h0M910.4 342.8h0M912.2 341.6h0M913.9 339.8h0M915.7 339.7h0M917.5 338.4h0M919.2 335.5h0M921 336.9h0M922.8 334.3h0M924.5 332.3h0M926.3 333.1h0M928.1 331.7h0M929.8 329.1h0M931.6 327.8h0M933.4 328.2h0M935.1 325.5h0M936.9 324.8h0M938.7 324.7h0M940.4 321h0M942.2 319.4h0M944 318.7h0M945.7 317.7h0M947.5 316.9h0M949.3 316.4h0M951 313.8h0M952.8 314.3h0M954.6 311.5h0M956.3 308h0M958.1 308.2h0M959.9 307.3h0M961.6 305.9h0M963.4 302.7h0M965.2 301.4h0M967 301.6h0M968.7 298.1h0M970.5 295.4h0M972.3 293.1h0M974 292.1h0M975.8 290.9h0M977.6 287.9h0M979.3 288h0M981.1 284.5h0M982.9 281.7h0M984.6 281.8h0M986.4 279.4h0M988.2 277.2h0M989.9 276.4h0M991.7 273h0M993.5 271.9h0M995.2 269h0M997 268.5h0M998.8 265.2h0M1000.5 263.1h0M1002.3 261.4h0M1004.1 258.7h0M1005.8 257h0M1007.6 254.3h0M1009.4 252.7h0M1011.1 250.2h0M1012.9 247.6h0M1014.7 246.1h0M1016.4 243.8h0M1018.2 240.6h0M1020 238.8h0M1021.7 235.6h0M1023.5 234.3h0M1025.3 232.2h0M1027 230.6h0M1028.8 226.7h0M1030.6 224.4h0M1032.4 221.9h0M1034.1 218.6h0M1035.9 214.3h0M1037.7 212.1h0M1039.4 209.5h0M1041.2 206.3h0M1043 202.9h0M1044.7 199h0M1046.5 195h0M1048.3 192.6h0M1050 189.3h0M1051.8 184.8h0M1053.6 181.5h0M1055.3 177.1h0M1057.1 173.2h0M1058.9 168.6h0M1060.6 164.3h0M1062.4 158.2h0M1064.2 152.6h0M1065.9 146.1h0M1067.7 138.5h0M1069.5 130.9h0M1071.2 124h0M1073 115.4h0M1074.8 105.8h0M1076.5 96.6h0M1078.3 87h0M1080.1 78.1h0M1081.8 68.6h0M1083.6 58.8h0M1085.4 48.6h0M1087.1 38.8h0M1088.9 31h0M1090.7 21.9h0M1092.4 13h0M1094.2 8.7h0M1096 6.1h0M1097.8 5.5h0M1099.5 8.6h0M1101.3 13.6h0M1103.1 21.8h0M1104.8 32.9h0M1106.6 47.5h0M1108.4 63.8h0M1110.1 79.2h0M1111.9 93.5h0M1113.7 105.9h0M1115.4 117.3h0M1117.2 130h0M1119 140.4h0M1120.7 149.1h0M1122.5 153.7h0M1124.3 158.3h0M1126 162h0M1127.8 166.8h0M1129.6 170.4h0M1131.3 174.4h0M1133.1 177h0M1134.9 181.7h0M1136.6 185.8h0M1138.4 187.9h0M1140.2 193.6h0M1141.9 196.1h0M1143.7 199.8h0M1145.5 202.4h0M1147.2 206.3h0M1149 209.8h0M1150.8 213.7h0M1152.5 215h0M1154.3 219.9h0M1156.1 221.1h0M1157.8 224.7h0M1159.6 227.1h0M1161.4 229.9h0M1163.1 231.4h0M1164.9 234.9h0M1166.7 236.8h0M1168.5 239.8h0M1170.2 242.5h0M1172 244.8h0M1173.8 247h0M1175.5 250.3h0M1177.3 251.9h0M1179.1 254.4h0M1180.8 257.2h0M1182.6 258.4h0M1184.4 260.7h0M1186.1 263.2h0M1187.9 264.6h0M1189.7 267.6h0M1191.4 268.1h0M1193.2 270.3h0M1195 272.1h0M1196.7 273.7h0M1198.5 275.7h0M1200.3 277.1h0M1202 277.4h0M1203.8 281.8h0M1205.6 282.4h0M1207.3 285.1h0M1209.1 285.5h0M1210.9 288.6h0M1212.6 288.9h0M1214.4 292.9h0M1216.2 293.4h0M1217.9 294.9h0M1219.7 294.7h0M1221.5 296.7h0M1223.2 299.8h0M1225 301.3h0M1226.8 302.8h0M1228.5 304.4h0M1230.3 307.2h0M1232.1 307.4h0M1233.9 308.8h0M1235.6 309.9h0M1237.4 311h0M1239.2 313.6h0M1240.9 314.2h0M1242.7 315.6h0M1244.5 317.5h0M1246.2 318.5h0M1248 320.5h0M1249.8 321.7h0M1251.5 321h0M1253.3 322.7h0M1255.1 325.5h0M1256.8 325.5h0M1258.6 327.6h0M1260.4 327.3h0M1262.1 327h0M1263.9 328.4h0M1265.7 331h0M1267.4 332.4h0M1269.2 336.3h0M1271 335.9h0M1272.7 337.1h0M1274.5 338.4h0M1276.3 337.1h0M1278 339.9h0M1279.8 340.9h0M1281.6 344.2h0M1283.3 342.6h0M1285.1 343h0M1286.9 345.7h0M1288.6 346.6h0M1290.4 348h0M1292.2 349.3h0M1293.9 350.3h0M1295.7 350.6h0M1297.5 351.9h0M1299.2 356h0M1301 353.9h0M1302.8 356.2h0M1304.6 355.7h0M1306.3 355.9h0M1308.1 359.9h0M1309.9 360.2h0M1311.6 362.5h0M1313.4 363.3h0M1315.2 363.4h0M1316.9 363.3h0M1318.7 367.4h0M1320.5 366.3h0M1322.2 369.7h0M1324 369h0M1325.8 370.3h0M1327.5 370.9h0M1329.3 371.7h0M1331.1 371.8h0M1332.8 375.8h0M1334.6 372.8h0M1336.4 373h0M1338.1 376h0M1339.9 375.7h0M1341.7 378.6h0M1343.4 378h0M1345.2 380.5h0M1347 379.9h0M1348.7 379.6h0M1350.5 381h0M1352.3 383h0M1354 382.1h0M1355.8 382.6h0M1357.6 384.1h0M1359.3 385.5h0M1361.1 387.4h0M1362.9 387.1h0M1364.6 388.4h0M1366.4 387.8h0M1368.2 391.1h0M1370 392.3h0M1371.7 389.4h0M1373.5 391.3h0M1375.3 391.6h0M1377 392.9h0M1378.8 392.8h0M1380.6 393h0M1382.3 392.9h0M1384.1 394.7h0M1385.9 396.1h0M1387.6 398.2h0M1389.4 398.2h0M1391.2 397.6h0M1392.9 398h0M1394.7 397.5h0M1396.5 401.1h0M1398.2 401h0M1400 402.3h0" stroke="#ff00ff" stroke-width="4.0" stroke-linecap="round" fill="none"/>
<polyline points="795.5,390.8 797.3,390.1 799,388.9 800.8,388.2 802.6,386.8 804.3,386.8 806.1,387.6 807.9,389.3 809.6,385.3 811.4,385.5 813.2,387.6 814.9,383.8 816.7,382.5 818.5,382.2 820.2,381.1 822,378.1 823.8,380.7 825.5,376.7 827.3,377.3 829.1,376.6 830.9,376.8 832.6,375.1 834.4,374 836.2,372.6 837.9,373.1 839.7,371.6 841.5,370.2 843.2,368.6 845,368.3 846.8,368.6 848.5,365.7 850.3,366.8 852.1,365.8 853.8,366.1 855.6,363.1 857.4,361.8 859.1,361.9 860.9,360.6 862.7,357.2 864.4,360.6 866.2,358.6 868,357.6 869.7,355.6 871.5,356.1 873.3,354.5 875,355.7 876.8,353.9 878.6,353.8 880.3,350.1 882.1,349.7 883.9,349.3 885.6,348.2 887.4,349.7 889.2,347.5 890.9,345 892.7,344.9 894.5,346.1 896.2,342.9 898,342.8 899.8,339.3 901.6,339.4 903.3,338.7 905.1,337.5 906.9,336.6 908.6,335.7 910.4,335.3 912.2,331.3 913.9,331.8 915.7,331.3 917.5,329.6 919.2,329.2 921,326.8 922.8,325.3 924.5,323.7 926.3,324.1 928.1,320.8 929.8,320.3 931.6,319.4 933.4,318.7 935.1,316.7 936.9,314.8 938.7,314.9 940.4,312.1 942.2,311.2 944,308.7 945.7,309.4 947.5,308 949.3,305 951,304.9 952.8,304.2 954.6,301.7 956.3,299.3 958.1,299.1 959.9,298.1 961.6,294.4 963.4,294.9 965.2,292.4 967,291.4 968.7,288.1 970.5,287.8 972.3,285.5 974,284.1 975.8,281.8 977.6,280.7 979.3,278.1 981.1,276.1 982.9,273.9 984.6,271.7 986.4,271.1 988.2,269 989.9,267.4 991.7,265.4 993.5,263.9 995.2,261.8 997,259.4 998.8,258.3 1000.5,257.2 1002.3,253.2 1004.1,251.4 1005.8,250 1007.6,247.1 1009.4,246.1 1011.1,242.9 1012.9,240.4 1014.7,238.4 1016.4,237.4 1018.2,233.3 1020,232.3 1021.7,228.6 1023.5,227.9 1025.3,225.2 1027,222.9 1028.8,221.2 1030.6,217.3 1032.4,215.3 1034.1,212.3 1035.9,209.8 1037.7,206 1039.4,204.1 1041.2,200.4 1043,198.3 1044.7,195 1046.5,191.4 1048.3,188.5 1050,185.2 1051.8,181.7 1053.6,179.4 1055.3,174.4 1057.1,170.5 1058.9,166.5 1060.6,162.5 1062.4,157.4 1064.2,151.7 1065.9,144.9 1067.7,137.3 1069.5,130.3 1071.2,122.8 1073,115.3 1074.8,106.2 1076.5,96.4 1078.3,87.3 1080.1,77.8 1081.8,68.8 1083.6,58.9 1085.4,48.7 1087.1,39 1088.9,30.8 1090.7,22.2 1092.4,13.4 1094.2,8.8 1096,5.2 1097.8,5.3 1099.5,8.5 1101.3,13.3 1103.1,21 1104.8,32.7 1106.6,47.6 1108.4,63.6 1110.1,79.4 1111.9,93.6 1113.7,106.3 1115.4,116.6 1117.2,127.5 1119,137.2 1120.7,142.6 1122.5,146.2 1124.3,149.9 1126,154.7 1127.8,160.3 1129.6,165.1 1131.3,170.1 1133.1,173.5 1134.9,177 1136.6,178.9 1138.4,182.6 1140.2,186.2 1141.9,190.1 1143.7,193.8 1145.5,196.3 1147.2,199.4 1149,201.6 1150.8,205.5 1152.5,208.4 1154.3,209.8 1156.1,212.9 1157.8,215.8 1159.6,219.3 1161.4,222 1163.1,225.2 1164.9,225.7 1166.7,229.1 1168.5,231.2 1170.2,233.2 1172,235.5 1173.8,236.6 1175.5,240.7 1177.3,242.9 1179.1,245 1180.8,249.4 1182.6,250.6 1184.4,253.7 1186.1,255.4 1187.9,257 1189.7,259.8 1191.4,262.2 1193.2,263 1195,265.8 1196.7,268.3 1198.5,269.5 1200.3,270 1202,271.3 1203.8,274.2 1205.6,274.1 1207.3,276 1209.1,279.8 1210.9,280.5 1212.6,282.2 1214.4,283.3 1216.2,287.2 1217.9,288.8 1219.7,288.3 1221.5,290.7 1223.2,291.3 1225,293.5 1226.8,295.7 1228.5,297.1 1230.3,297.3 1232.1,299.2 1233.9,302.4 1235.6,302.5 1237.4,304.3 1239.2,304.9 1240.9,305.6 1242.7,306 1244.5,307.4 1246.2,308.1 1248,309.9 1249.8,311.4 1251.5,314.2 1253.3,313.2 1255.1,316.4 1256.8,315.5 1258.6,320.9 1260.4,319.3 1262.1,321.2 1263.9,324 1265.7,323.4 1267.4,324.9 1269.2,326.1 1271,327.8 1272.7,327.9 1274.5,331.4 1276.3,332 1278,332.1 1279.8,334.4 1281.6,334.2 1283.3,334.9 1285.1,336.5 1286.9,338.2 1288.6,337.2 1290.4,339.5 1292.2,341.4 1293.9,340.7 1295.7,343.3 1297.5,342.7 1299.2,345.1 1301,345.8 1302.8,347.2 1304.6,347 1306.3,346.5 1308.1,346.8 1309.9,353.3 1311.6,349.9 1313.4,351.5 1315.2,351.6 1316.9,356 1318.7,356.2 1320.5,357.3 1322.2,356 1324,359.5 1325.8,358.4 1327.5,361.7 1329.3,361.2 1331.1,359.5 1332.8,363.1 1334.6,363.1 1336.4,368 1338.1,364.5 1339.9,366.7 1341.7,367.6 1343.4,367.8 1345.2,368.9 1347,370.6 1348.7,372 1350.5,371.9 1352.3,373 1354,374.2 1355.8,373.8 1357.6,375.5 1359.3,376.7 1361.1,378.7 1362.9,379 1364.6,379.6 1366.4,380.9 1368.2,379.5 1370,382.7 1371.7,381.5 1373.5,382.6 1375.3,383 1377,385.1 1378.8,384.2 1380.6,386.6 1382.3,386.2 1384.1,386.8 1385.9,388.9 1387.6,388.2 1389.4,391.9 1391.2,390.3 1392.9,391.7 1394.7,395.2 1396.5,392.7 1398.2,397.3 1400,397.5" fill="none" stroke="#0000a0" stroke-width="0.9" stroke-linejoin="round"/>
<path d="M795.5 390.8h0M797.3 390.1h0M799 388.9h0M800.8 388.2h0M802.6 386.8h0M804.3 386.8h0M806.1 387.6h0M807.9 389.3h0M809.6 385.3h0M811.4 385.5h0M813.2 387.6h0M814.9 383.8h0M816.7 382.5h0M818.5 382.2h0M820.2 381.1h0M822 378.1h0M823.8 380.7h0M825.5 376.7h0M827.3 377.3h0M829.1 376.6h0M830.9 376.8h0M832.6 375.1h0M834.4 374h0M836.2 372.6h0M837.9 373.1h0M839.7 371.6h0M841.5 370.2h0M843.2 368.6h0M845 368.3h0M846.8 368.6h0M848.5 365.7h0M850.3 366.8h0M852.1 365.8h0M853.8 366.1h0M855.6 363.1h0M857.4 361.8h0M859.1 361.9h0M860.9 360.6h0M862.7 357.2h0M864.4 360.6h0M866.2 358.6h0M868 357.6h0M869.7 355.6h0M871.5 356.1h0M873.3 354.5h0M875 355.7h0M876.8 353.9h0M878.6 353.8h0M880.3 350.1h0M882.1 349.7h0M883.9 349.3h0M885.6 348.2h0M887.4 349.7h0M889.2 347.5h0M890.9 345h0M892.7 344.9h0M894.5 346.1h0M896.2 342.9h0M898 342.8h0M899.8 339.3h0M901.6 339.4h0M903.3 338.7h0M905.1 337.5h0M906.9 336.6h0M908.6 335.7h0M910.4 335.3h0M912.2 331.3h0M913.9 331.8h0M915.7 331.3h0M917.5 329.6h0M919.2 329.2h0M921 326.8h0M922.8 325.3h0M924.5 323.7h0M926.3 324.1h0M928.1 320.8h0M929.8 320.3h0M931.6 319.4h0M933.4 318.7h0M935.1 316.7h0M936.9 314.8h0M938.7 314.9h0M940.4 312.1h0M942.2 311.2h0M944 308.7h0M945.7 309.4h0M947.5 308h0M949.3 305h0M951 304.9h0M952.8 304.2h0M954.6 301.7h0M956.3 299.3h0M958.1 299.1h0M959.9 298.1h0M961.6 294.4h0M963.4 294.9h0M965.2 292.4h0M967 291.4h0M968.7 288.1h0M970.5 287.8h0M972.3 285.5h0M974 284.1h0M975.8 281.8h0M977.6 280.7h0M979.3 278.1h0M981.1 276.1h0M982.9 273.9h0M984.6 271.7h0M986.4 271.1h0M988.2 269h0M989.9 267.4h0M991.7 265.4h0M993.5 263.9h0M995.2 261.8h0M997 259.4h0M998.8 258.3h0M1000.5 257.2h0M1002.3 253.2h0M1004.1 251.4h0M1005.8 250h0M1007.6 247.1h0M1009.4 246.1h0M1011.1 242.9h0M1012.9 240.4h0M1014.7 238.4h0M1016.4 237.4h0M1018.2 233.3h0M1020 232.3h0M1021.7 228.6h0M1023.5 227.9h0M1025.3 225.2h0M1027 222.9h0M1028.8 221.2h0M1030.6 217.3h0M1032.4 215.3h0M1034.1 212.3h0M1035.9 209.8h0M1037.7 206h0M1039.4 204.1h0M1041.2 200.4h0M1043 198.3h0M1044.7 195h0M1046.5 191.4h0M1048.3 188.5h0M1050 185.2h0M1051.8 181.7h0M1053.6 179.4h0M1055.3 174.4h0M1057.1 170.5h0M1058.9 166.5h0M1060.6 162.5h0M1062.4 157.4h0M1064.2 151.7h0M1065.9 144.9h0M1067.7 137.3h0M1069.5 130.3h0M1071.2 122.8h0M1073 115.3h0M1074.8 106.2h0M1076.5 96.4h0M1078.3 87.3h0M1080.1 77.8h0M1081.8 68.8h0M1083.6 58.9h0M1085.4 48.7h0M1087.1 39h0M1088.9 30.8h0M1090.7 22.2h0M1092.4 13.4h0M1094.2 8.8h0M1096 5.2h0M1097.8 5.3h0M1099.5 8.5h0M1101.3 13.3h0M1103.1 21h0M1104.8 32.7h0M1106.6 47.6h0M1108.4 63.6h0M1110.1 79.4h0M1111.9 93.6h0M1113.7 106.3h0M1115.4 116.6h0M1117.2 127.5h0M1119 137.2h0M1120.7 142.6h0M1122.5 146.2h0M1124.3 149.9h0M1126 154.7h0M1127.8 160.3h0M1129.6 165.1h0M1131.3 170.1h0M1133.1 173.5h0M1134.9 177h0M1136.6 178.9h0M1138.4 182.6h0M1140.2 186.2h0M1141.9 190.1h0M1143.7 193.8h0M1145.5 196.3h0M1147.2 199.4h0M1149 201.6h0M1150.8 205.5h0M1152.5 208.4h0M1154.3 209.8h0M1156.1 212.9h0M1157.8 215.8h0M1159.6 219.3h0M1161.4 222h0M1163.1 225.2h0M1164.9 225.7h0M1166.7 229.1h0M1168.5 231.2h0M1170.2 233.2h0M1172 235.5h0M1173.8 236.6h0M1175.5 240.7h0M1177.3 242.9h0M1179.1 245h0M1180.8 249.4h0M1182.6 250.6h0M1184.4 253.7h0M1186.1 255.4h0M1187.9 257h0M1189.7 259.8h0M1191.4 262.2h0M1193.2 263h0M1195 265.8h0M1196.7 268.3h0M1198.5 269.5h0M1200.3 270h0M1202 271.3h0M1203.8 274.2h0M1205.6 274.1h0M1207.3 276h0M1209.1 279.8h0M1210.9 280.5h0M1212.6 282.2h0M1214.4 283.3h0M1216.2 287.2h0M1217.9 288.8h0M1219.7 288.3h0M1221.5 290.7h0M1223.2 291.3h0M1225 293.5h0M1226.8 295.7h0M1228.5 297.1h0M1230.3 297.3h0M1232.1 299.2h0M1233.9 302.4h0M1235.6 302.5h0M1237.4 304.3h0M1239.2 304.9h0M1240.9 305.6h0M1242.7 306h0M1244.5 307.4h0M1246.2 308.1h0M1248 309.9h0M1249.8 311.4h0M1251.5 314.2h0M1253.3 313.2h0M1255.1 316.4h0M1256.8 315.5h0M1258.6 320.9h0M1260.4 319.3h0M1262.1 321.2h0M1263.9 324h0M1265.7 323.4h0M1267.4 324.9h0M1269.2 326.1h0M1271 327.8h0M1272.7 327.9h0M1274.5 331.4h0M1276.3 332h0M1278 332.1h0M1279.8 334.4h0M1281.6 334.2h0M1283.3 334.9h0M1285.1 336.5h0M1286.9 338.2h0M1288.6 337.2h0M1290.4 339.5h0M1292.2 341.4h0M1293.9 340.7h0M1295.7 343.3h0M1297.5 342.7h0M1299.2 345.1h0M1301 345.8h0M1302.8 347.2h0M1304.6 347h0M1306.3 346.5h0M1308.1 346.8h0M1309.9 353.3h0M1311.6 349.9h0M1313.4 351.5h0M1315.2 351.6h0M1316.9 356h0M1318.7 356.2h0M1320.5 357.3h0M1322.2 356h0M1324 359.5h0M1325.8 358.4h0M1327.5 361.7h0M1329.3 361.2h0M1331.1 359.5h0M1332.8 363.1h0M1334.6 363.1h0M1336.4 368h0M1338.1 364.5h0M1339.9 366.7h0M1341.7 367.6h0M1343.4 367.8h0M1345.2 368.9h0M1347 370.6h0M1348.7 372h0M1350.5 371.9h0M1352.3 373h0M1354 374.2h0M1355.8 373.8h0M1357.6 375.5h0M1359.3 376.7h0M1361.1 378.7h0M1362.9 379h0M1364.6 379.6h0M1366.4 380.9h0M1368.2 379.5h0M1370 382.7h0M1371.7 381.5h0M1373.5 382.6h0M1375.3 383h0M1377 385.1h0M1378.8 384.2h0M1380.6 386.6h0M1382.3 386.2h0M1384.1 386.8h0M1385.9 388.9h0M1387.6 388.2h0M1389.4 391.9h0M1391.2 390.3h0M1392.9 391.7h0M1394.7 395.2h0M1396.5 392.7h0M1398.2 397.3h0M1400 397.5h0" stroke="#0000a0" stroke-width="4.0" stroke-linecap="round" fill="none"/>
<polyline points="983.5,429.5 1040,429.5 1052,429.2 1058.8,426 1064,419 1070,408.6 1075.7,374.9 1082.5,285 1086.9,213.6 1089.2,150 1090.3,112.4 1092.5,55 1094.2,22.5 1096,8 1097.3,4.5 1098.6,8 1099.8,22.5 1101.2,60 1102.6,112.4 1103.5,150 1105.5,213.6 1108,285 1111.4,374.9 1114,405 1118,420 1123.7,428.8 1140,429.5 1199,429.5" fill="none" stroke="#333" stroke-width="1.0" stroke-dasharray="3,3"/>
<path d="M795.5 431H1400" stroke="#000" stroke-width="1.9" fill="none"/>
<path d="M795.5 430.1v9.7M949 430.1v9.7M1099 430.1v9.7M1249.7 430.1v9.7M1400 430.1v9.7M873.1 430.1v5.3M1024 430.1v5.3M1174.4 430.1v5.3M1324.8 430.1v5.3" stroke="#000" stroke-width="1.8" fill="none"/>
<text x="793" y="465" class="tk">-1.0</text>
<text x="946.5" y="465" class="tk">-0.5</text>
<text x="1101.5" y="465" class="tk">0.0</text>
<text x="1252.1" y="465" class="tk">0.5</text>
<text x="1402.4" y="465" class="tk">1.0</text>
<text x="1100.8" y="501" class="tk" style="font-size:29px">E (meV)</text>
<polyline points="413.2,989.5 417.1,988.2 421,985.6 424.9,986.1 428.8,983 432.7,980.8 436.6,978.5 440.5,976 444.4,972.8 448.3,969 452.2,966.1 456.1,963.5 460.1,961.7 464,960.3 467.9,955.9 471.8,953.9 475.7,951.9 479.6,948.4 483.5,945.5 487.4,942.1 491.3,940.1 495.2,936.8 499.1,933.9 503,931.3 506.9,929 510.8,926.5 514.7,922.1 518.6,920 522.5,915.8 526.4,911.9 530.3,909 534.2,905.7 538.1,901.7 542,897.8 546,892.3 549.9,889.9 553.8,885.3 557.7,880.9 561.6,875.5 565.5,872.3 569.4,867.7 573.3,863.4 577.2,859.2 581.1,853.5 585,849.5 588.9,844 592.8,838.2 596.7,832.8 600.6,825.8 604.5,820.4 608.4,814.1 612.3,807 616.2,800.3 620.1,792.9 624,783.3 628,775.3 631.9,766.7 635.8,758.1 639.7,749.1 643.6,739.8 647.5,729.4 651.4,718.8 655.3,708.5 659.2,697.7 663.1,687.5 667,677.2 670.9,667.5 674.8,657.1 678.7,646.2 682.6,635.4 686.5,624.1 690.4,613.6 694.3,602.8 698.2,593.7 702.1,585.2 706,579.9 709.9,575.8 713.8,574.6 717.8,576.4 721.7,579.5 725.6,585.6 729.5,594.4 733.4,606.7 737.3,620 741.2,635.1 745.1,652.2 749,673.4 752.9,692.9 756.8,710.8 760.7,727.4 764.6,743.1 768.5,757.4 772.4,768.2 776.3,778.5 780.2,786.7 784.1,794 788,800.8 791.9,806.6 795.8,813 799.8,818.3 803.7,824.3 807.6,829.1 811.5,834.3 815.4,838.5 819.3,843.3 823.2,848.3 827.1,851.9 831,856 834.9,861.3 838.8,864.9 842.7,868.9 846.6,871.8 850.5,876.4 854.4,880.4 858.3,884.2 862.2,888.6 866.1,891.8 870,895.4 873.9,901 877.8,903.8 881.7,906.6 885.6,912.1 889.6,914.6 893.5,917.8 897.4,919.3 901.3,925 905.2,927.2 909.1,931 913,934.2 916.9,935 920.8,940.1 924.7,942.2 928.6,944.4 932.5,945.4 936.4,951.3 940.3,952.7 944.2,955.5 948.1,956.6 952,960.4 955.9,962.8 959.8,966 963.7,966.3 967.6,967.6 971.5,971.2 975.5,973.2 979.4,976.7 983.3,978.6 987.2,981.3 991.1,984.6 995,987.3 998.9,988.2 1002.8,989 1006.7,992.8 1010.6,994.9 1014.5,997.4" fill="none" stroke="#ff0000" stroke-width="0.9" stroke-linejoin="round"/>
<path d="M413.2 989.5h0M417.1 988.2h0M421 985.6h0M424.9 986.1h0M428.8 983h0M432.7 980.8h0M436.6 978.5h0M440.5 976h0M444.4 972.8h0M448.3 969h0M452.2 966.1h0M456.1 963.5h0M460.1 961.7h0M464 960.3h0M467.9 955.9h0M471.8 953.9h0M475.7 951.9h0M479.6 948.4h0M483.5 945.5h0M487.4 942.1h0M491.3 940.1h0M495.2 936.8h0M499.1 933.9h0M503 931.3h0M506.9 929h0M510.8 926.5h0M514.7 922.1h0M518.6 920h0M522.5 915.8h0M526.4 911.9h0M530.3 909h0M534.2 905.7h0M538.1 901.7h0M542 897.8h0M546 892.3h0M549.9 889.9h0M553.8 885.3h0M557.7 880.9h0M561.6 875.5h0M565.5 872.3h0M569.4 867.7h0M573.3 863.4h0M577.2 859.2h0M581.1 853.5h0M585 849.5h0M588.9 844h0M592.8 838.2h0M596.7 832.8h0M600.6 825.8h0M604.5 820.4h0M608.4 814.1h0M612.3 807h0M616.2 800.3h0M620.1 792.9h0M624 783.3h0M628 775.3h0M631.9 766.7h0M635.8 758.1h0M639.7 749.1h0M643.6 739.8h0M647.5 729.4h0M651.4 718.8h0M655.3 708.5h0M659.2 697.7h0M663.1 687.5h0M667 677.2h0M670.9 667.5h0M674.8 657.1h0M678.7 646.2h0M682.6 635.4h0M686.5 624.1h0M690.4 613.6h0M694.3 602.8h0M698.2 593.7h0M702.1 585.2h0M706 579.9h0M709.9 575.8h0M713.8 574.6h0M717.8 576.4h0M721.7 579.5h0M725.6 585.6h0M729.5 594.4h0M733.4 606.7h0M737.3 620h0M741.2 635.1h0M745.1 652.2h0M749 673.4h0M752.9 692.9h0M756.8 710.8h0M760.7 727.4h0M764.6 743.1h0M768.5 757.4h0M772.4 768.2h0M776.3 778.5h0M780.2 786.7h0M784.1 794h0M788 800.8h0M791.9 806.6h0M795.8 813h0M799.8 818.3h0M803.7 824.3h0M807.6 829.1h0M811.5 834.3h0M815.4 838.5h0M819.3 843.3h0M823.2 848.3h0M827.1 851.9h0M831 856h0M834.9 861.3h0M838.8 864.9h0M842.7 868.9h0M846.6 871.8h0M850.5 876.4h0M854.4 880.4h0M858.3 884.2h0M862.2 888.6h0M866.1 891.8h0M870 895.4h0M873.9 901h0M877.8 903.8h0M881.7 906.6h0M885.6 912.1h0M889.6 914.6h0M893.5 917.8h0M897.4 919.3h0M901.3 925h0M905.2 927.2h0M909.1 931h0M913 934.2h0M916.9 935h0M920.8 940.1h0M924.7 942.2h0M928.6 944.4h0M932.5 945.4h0M936.4 951.3h0M940.3 952.7h0M944.2 955.5h0M948.1 956.6h0M952 960.4h0M955.9 962.8h0M959.8 966h0M963.7 966.3h0M967.6 967.6h0M971.5 971.2h0M975.5 973.2h0M979.4 976.7h0M983.3 978.6h0M987.2 981.3h0M991.1 984.6h0M995 987.3h0M998.9 988.2h0M1002.8 989h0M1006.7 992.8h0M1010.6 994.9h0M1014.5 997.4h0" stroke="#ff0000" stroke-width="3.6" stroke-linecap="round" fill="none"/>
<polyline points="413.2,961.6 417.1,959.8 421,956.7 424.9,956 428.8,953.9 432.7,951.7 436.6,949.4 440.5,947.8 444.4,944.4 448.3,942.9 452.2,940.9 456.1,937.9 460.1,935.4 464,933.2 467.9,930 471.8,927 475.7,924.5 479.6,922.3 483.5,919 487.4,916.6 491.3,913.6 495.2,910.7 499.1,907.9 503,904.7 506.9,901.3 510.8,898.2 514.7,895.3 518.6,891.5 522.5,888.7 526.4,885 530.3,882.5 534.2,878.7 538.1,874.7 542,871.4 546,868.2 549.9,864.2 553.8,859.7 557.7,856.8 561.6,852.2 565.5,847.8 569.4,843.1 573.3,838.2 577.2,833.1 581.1,828.6 585,823.4 588.9,818 592.8,812.9 596.7,807.3 600.6,801.2 604.5,795.5 608.4,789.7 612.3,782.6 616.2,776.6 620.1,768.9 624,762.3 628,754.4 631.9,746.3 635.8,738.9 639.7,730.7 643.6,722.2 647.5,713.6 651.4,704.7 655.3,695.1 659.2,686.5 663.1,677.2 667,668.2 670.9,659.1 674.8,649.6 678.7,639.9 682.6,629.9 686.5,618.6 690.4,607.9 694.3,598.6 698.2,590.3 702.1,583.4 706,579.1 709.9,575.3 713.8,574.5 717.8,576 721.7,579.5 725.6,585.2 729.5,593.8 733.4,605.9 737.3,618.9 741.2,634.1 745.1,649.8 749,667.1 752.9,685.2 756.8,702.2 760.7,717.8 764.6,731.2 768.5,742 772.4,751.1 776.3,759.2 780.2,765.2 784.1,771.3 788,777.8 791.9,783.6 795.8,790.1 799.8,795.1 803.7,800.3 807.6,805.8 811.5,810.5 815.4,815.9 819.3,820.3 823.2,825.4 827.1,829.9 831,834.5 834.9,837.9 838.8,842.1 842.7,845.4 846.6,848.6 850.5,852.9 854.4,856.3 858.3,859.6 862.2,863.6 866.1,866.5 870,870.2 873.9,874.3 877.8,878 881.7,881.2 885.6,885.3 889.6,888.8 893.5,892.5 897.4,895.6 901.3,898 905.2,901.6 909.1,905.2 913,906.9 916.9,909.8 920.8,912.8 924.7,914.8 928.6,916.8 932.5,919.7 936.4,922 940.3,924.1 944.2,926.8 948.1,928.7 952,931.1 955.9,933.8 959.8,936.7 963.7,939.2 967.6,941.3 971.5,944.5 975.5,946.5 979.4,948.5 983.3,951.2 987.2,953.5 991.1,955.1 995,956.5 998.9,959.2 1002.8,961.3 1006.7,962.9 1010.6,964.5 1014.5,966.5" fill="none" stroke="#ff00ff" stroke-width="0.9" stroke-linejoin="round"/>
<path d="M413.2 961.6h0M417.1 959.8h0M421 956.7h0M424.9 956h0M428.8 953.9h0M432.7 951.7h0M436.6 949.4h0M440.5 947.8h0M444.4 944.4h0M448.3 942.9h0M452.2 940.9h0M456.1 937.9h0M460.1 935.4h0M464 933.2h0M467.9 930h0M471.8 927h0M475.7 924.5h0M479.6 922.3h0M483.5 919h0M487.4 916.6h0M491.3 913.6h0M495.2 910.7h0M499.1 907.9h0M503 904.7h0M506.9 901.3h0M510.8 898.2h0M514.7 895.3h0M518.6 891.5h0M522.5 888.7h0M526.4 885h0M530.3 882.5h0M534.2 878.7h0M538.1 874.7h0M542 871.4h0M546 868.2h0M549.9 864.2h0M553.8 859.7h0M557.7 856.8h0M561.6 852.2h0M565.5 847.8h0M569.4 843.1h0M573.3 838.2h0M577.2 833.1h0M581.1 828.6h0M585 823.4h0M588.9 818h0M592.8 812.9h0M596.7 807.3h0M600.6 801.2h0M604.5 795.5h0M608.4 789.7h0M612.3 782.6h0M616.2 776.6h0M620.1 768.9h0M624 762.3h0M628 754.4h0M631.9 746.3h0M635.8 738.9h0M639.7 730.7h0M643.6 722.2h0M647.5 713.6h0M651.4 704.7h0M655.3 695.1h0M659.2 686.5h0M663.1 677.2h0M667 668.2h0M670.9 659.1h0M674.8 649.6h0M678.7 639.9h0M682.6 629.9h0M686.5 618.6h0M690.4 607.9h0M694.3 598.6h0M698.2 590.3h0M702.1 583.4h0M706 579.1h0M709.9 575.3h0M713.8 574.5h0M717.8 576h0M721.7 579.5h0M725.6 585.2h0M729.5 593.8h0M733.4 605.9h0M737.3 618.9h0M741.2 634.1h0M745.1 649.8h0M749 667.1h0M752.9 685.2h0M756.8 702.2h0M760.7 717.8h0M764.6 731.2h0M768.5 742h0M772.4 751.1h0M776.3 759.2h0M780.2 765.2h0M784.1 771.3h0M788 777.8h0M791.9 783.6h0M795.8 790.1h0M799.8 795.1h0M803.7 800.3h0M807.6 805.8h0M811.5 810.5h0M815.4 815.9h0M819.3 820.3h0M823.2 825.4h0M827.1 829.9h0M831 834.5h0M834.9 837.9h0M838.8 842.1h0M842.7 845.4h0M846.6 848.6h0M850.5 852.9h0M854.4 856.3h0M858.3 859.6h0M862.2 863.6h0M866.1 866.5h0M870 870.2h0M873.9 874.3h0M877.8 878h0M881.7 881.2h0M885.6 885.3h0M889.6 888.8h0M893.5 892.5h0M897.4 895.6h0M901.3 898h0M905.2 901.6h0M909.1 905.2h0M913 906.9h0M916.9 909.8h0M920.8 912.8h0M924.7 914.8h0M928.6 916.8h0M932.5 919.7h0M936.4 922h0M940.3 924.1h0M944.2 926.8h0M948.1 928.7h0M952 931.1h0M955.9 933.8h0M959.8 936.7h0M963.7 939.2h0M967.6 941.3h0M971.5 944.5h0M975.5 946.5h0M979.4 948.5h0M983.3 951.2h0M987.2 953.5h0M991.1 955.1h0M995 956.5h0M998.9 959.2h0M1002.8 961.3h0M1006.7 962.9h0M1010.6 964.5h0M1014.5 966.5h0" stroke="#ff00ff" stroke-width="3.6" stroke-linecap="round" fill="none"/>
<polyline points="413.2,950.7 417.1,948.1 421,947.9 424.9,945.2 428.8,943.9 432.7,940.8 436.6,938 440.5,936.4 444.4,933.6 448.3,931.4 452.2,928.3 456.1,925.7 460.1,923 464,920.3 467.9,918.1 471.8,914.8 475.7,912.8 479.6,910.5 483.5,906.9 487.4,904.4 491.3,901.3 495.2,898.5 499.1,895.7 503,892.8 506.9,889.8 510.8,886.1 514.7,883.5 518.6,879.8 522.5,876.4 526.4,873.1 530.3,869.4 534.2,866.6 538.1,862.4 542,859.5 546,856.6 549.9,851.8 553.8,847.8 557.7,844.9 561.6,840.6 565.5,836.9 569.4,832.8 573.3,828.6 577.2,824.8 581.1,819.7 585,814.9 588.9,809.9 592.8,804.6 596.7,799.3 600.6,793.7 604.5,788.5 608.4,782.2 612.3,776.1 616.2,769.5 620.1,763.1 624,755.7 628,748.7 631.9,741.1 635.8,733.9 639.7,725.8 643.6,717.7 647.5,709 651.4,700.6 655.3,691.8 659.2,682.6 663.1,673.2 667,664.5 670.9,655.2 674.8,645.8 678.7,636.3 682.6,626.5 686.5,616.1 690.4,606.4 694.3,598.1 698.2,590 702.1,583.3 706,578.9 709.9,575.3 713.8,574.5 717.8,576.3 721.7,579.4 725.6,585.3 729.5,593.7 733.4,605.7 737.3,618.5 741.2,633.3 745.1,649 749,665.4 752.9,683.3 756.8,699.3 760.7,713 764.6,725.3 768.5,734.5 772.4,742.9 776.3,750 780.2,756.9 784.1,763.3 788,769.3 791.9,774.2 795.8,779.8 799.8,784.8 803.7,789.5 807.6,794.2 811.5,799.1 815.4,804.2 819.3,809.2 823.2,813.7 827.1,818.1 831,822.7 834.9,826.4 838.8,830.8 842.7,835 846.6,837.6 850.5,841.7 854.4,844.7 858.3,848.6 862.2,852.4 866.1,856.3 870,859.4 873.9,863.3 877.8,865.7 881.7,869.3 885.6,872.5 889.6,875.7 893.5,878.7 897.4,882.5 901.3,884.9 905.2,888.5 909.1,891.4 913,895.1 916.9,897.2 920.8,900.4 924.7,903 928.6,904.2 932.5,907.9 936.4,910.6 940.3,913.2 944.2,914.5 948.1,917.4 952,920.4 955.9,921.9 959.8,924.5 963.7,927.5 967.6,930 971.5,932.6 975.5,934.8 979.4,936.6 983.3,938.2 987.2,940.6 991.1,943 995,945.2 998.9,947.1 1002.8,949.5 1006.7,950.8 1010.6,952.9 1014.5,954.4" fill="none" stroke="#0000a0" stroke-width="0.9" stroke-linejoin="round"/>
<path d="M413.2 950.7h0M417.1 948.1h0M421 947.9h0M424.9 945.2h0M428.8 943.9h0M432.7 940.8h0M436.6 938h0M440.5 936.4h0M444.4 933.6h0M448.3 931.4h0M452.2 928.3h0M456.1 925.7h0M460.1 923h0M464 920.3h0M467.9 918.1h0M471.8 914.8h0M475.7 912.8h0M479.6 910.5h0M483.5 906.9h0M487.4 904.4h0M491.3 901.3h0M495.2 898.5h0M499.1 895.7h0M503 892.8h0M506.9 889.8h0M510.8 886.1h0M514.7 883.5h0M518.6 879.8h0M522.5 876.4h0M526.4 873.1h0M530.3 869.4h0M534.2 866.6h0M538.1 862.4h0M542 859.5h0M546 856.6h0M549.9 851.8h0M553.8 847.8h0M557.7 844.9h0M561.6 840.6h0M565.5 836.9h0M569.4 832.8h0M573.3 828.6h0M577.2 824.8h0M581.1 819.7h0M585 814.9h0M588.9 809.9h0M592.8 804.6h0M596.7 799.3h0M600.6 793.7h0M604.5 788.5h0M608.4 782.2h0M612.3 776.1h0M616.2 769.5h0M620.1 763.1h0M624 755.7h0M628 748.7h0M631.9 741.1h0M635.8 733.9h0M639.7 725.8h0M643.6 717.7h0M647.5 709h0M651.4 700.6h0M655.3 691.8h0M659.2 682.6h0M663.1 673.2h0M667 664.5h0M670.9 655.2h0M674.8 645.8h0M678.7 636.3h0M682.6 626.5h0M686.5 616.1h0M690.4 606.4h0M694.3 598.1h0M698.2 590h0M702.1 583.3h0M706 578.9h0M709.9 575.3h0M713.8 574.5h0M717.8 576.3h0M721.7 579.4h0M725.6 585.3h0M729.5 593.7h0M733.4 605.7h0M737.3 618.5h0M741.2 633.3h0M745.1 649h0M749 665.4h0M752.9 683.3h0M756.8 699.3h0M760.7 713h0M764.6 725.3h0M768.5 734.5h0M772.4 742.9h0M776.3 750h0M780.2 756.9h0M784.1 763.3h0M788 769.3h0M791.9 774.2h0M795.8 779.8h0M799.8 784.8h0M803.7 789.5h0M807.6 794.2h0M811.5 799.1h0M815.4 804.2h0M819.3 809.2h0M823.2 813.7h0M827.1 818.1h0M831 822.7h0M834.9 826.4h0M838.8 830.8h0M842.7 835h0M846.6 837.6h0M850.5 841.7h0M854.4 844.7h0M858.3 848.6h0M862.2 852.4h0M866.1 856.3h0M870 859.4h0M873.9 863.3h0M877.8 865.7h0M881.7 869.3h0M885.6 872.5h0M889.6 875.7h0M893.5 878.7h0M897.4 882.5h0M901.3 884.9h0M905.2 888.5h0M909.1 891.4h0M913 895.1h0M916.9 897.2h0M920.8 900.4h0M924.7 903h0M928.6 904.2h0M932.5 907.9h0M936.4 910.6h0M940.3 913.2h0M944.2 914.5h0M948.1 917.4h0M952 920.4h0M955.9 921.9h0M959.8 924.5h0M963.7 927.5h0M967.6 930h0M971.5 932.6h0M975.5 934.8h0M979.4 936.6h0M983.3 938.2h0M987.2 940.6h0M991.1 943h0M995 945.2h0M998.9 947.1h0M1002.8 949.5h0M1006.7 950.8h0M1010.6 952.9h0M1014.5 954.4h0" stroke="#0000a0" stroke-width="3.6" stroke-linecap="round" fill="none"/>
<polyline points="623.7,1001 630,960 636.1,919.8 641.5,888 647.2,860.1 653,826 659,791.4 665.5,758.8 673.3,719.7 685,674.2 694.1,619.5 703.2,586.9 707.5,578 711.4,573.5 716,576 719.5,581 723.4,591 728,603 732.6,617.1 735.5,636 737.8,656.1 740.5,682 743,708.2 745,734 746.9,760.3 748.9,786 750.8,812.4 754,855.1 755.8,900 757.3,942.3 759.3,972 761.2,1001" fill="none" stroke="#333" stroke-width="1.0" stroke-dasharray="3,3"/>
<path d="M409.8 1003H1014.2" stroke="#000" stroke-width="1.9" fill="none"/>
<path d="M409.8 1002.1v9.7M563.2 1002.1v9.7M713.3 1002.1v9.7M863.9 1002.1v9.7M1014.2 1002.1v9.7M487.4 1002.1v5.3M638.3 1002.1v5.3M788.6 1002.1v5.3M939.1 1002.1v5.3" stroke="#000" stroke-width="1.8" fill="none"/>
<text x="407.3" y="1037" class="tk">-1.0</text>
<text x="560.7" y="1037" class="tk">-0.5</text>
<text x="715.7" y="1037" class="tk">0.0</text>
<text x="866.3" y="1037" class="tk">0.5</text>
<text x="1016.6" y="1037" class="tk">1.0</text>
<text x="715.1" y="1073" class="tk" style="font-size:29px">E (meV)</text>
<polyline points="28.9,1584.8 29.9,1562.9 30.9,1574.1 31.9,1576.8 32.9,1567.6 33.9,1562 34.9,1560.4 35.9,1560.9 36.9,1546.1 37.9,1557.8 38.9,1570.5 39.9,1565.6 40.9,1570.8 41.9,1570.3 42.9,1569.2 43.9,1563.1 44.9,1563.7 45.9,1570.7 46.9,1557.8 47.9,1548 48.9,1569.1 49.9,1561.1 50.9,1571 51.9,1553.9 52.9,1544 53.9,1558.1 54.9,1553.3 55.9,1549.9 56.9,1573.7 57.9,1561.3 58.9,1547.1 59.9,1542.8 60.9,1556.8 61.9,1563.1 62.9,1559.9 63.9,1567.9 64.9,1559.6 65.9,1560.8 67,1538.1 68,1567.6 69,1550.2 70,1563.7 71,1540.3 72,1546 73,1564.9 74,1542.3 75,1554.9 76,1549.5 77,1568.6 78,1555.9 79,1563.8 80,1551.4 81,1536.1 82,1569.4 83,1545.6 84,1550.9 85,1549.8 86,1535.7 87,1555.8 88,1545.7 89,1533.2 90,1535.3 91,1528.1 92,1540.9 93,1545.7 94,1538.7 95,1546.4 96,1541.6 97,1550.5 98,1545.7 99,1543.9 100,1544.5 101,1534.5 102,1536.6 103,1547.3 104,1539.7 105,1556 106,1550.2 107,1531.3 108,1546.4 109,1552.8 110,1536.5 111,1552 112,1535.2 113,1554.3 114,1545.2 115,1538.4 116,1526.1 117,1538.7 118,1532.9 119,1541.9 120,1531.2 121,1542 122,1533.8 123,1542.1 124,1543.6 125,1537.9 126,1540.1 127,1544.5 128,1527.5 129,1539.5 130,1536.2 131,1546.5 132,1531.9 133,1540.5 134,1519 135,1541.6 136,1534.6 137,1533.8 138,1537.3 139,1520.2 140,1527.6 141,1529.5 142,1526 143.1,1523.9 144.1,1534.6 145.1,1522.9 146.1,1524.6 147.1,1526.2 148.1,1535.2 149.1,1538.7 150.1,1532.5 151.1,1527.6 152.1,1513.6 153.1,1518.8 154.1,1515.7 155.1,1515.1 156.1,1526.3 157.1,1516.6 158.1,1530.2 159.1,1520.6 160.1,1518.3 161.1,1517.2 162.1,1508 163.1,1514.5 164.1,1522.6 165.1,1520.7 166.1,1516.3 167.1,1519.1 168.1,1514.7 169.1,1515.5 170.1,1536.5 171.1,1511.9 172.1,1498.6 173.1,1495.3 174.1,1503.3 175.1,1508.5 176.1,1512.4 177.1,1504.8 178.1,1504.8 179.1,1506.6 180.1,1495.8 181.1,1500.4 182.1,1501.6 183.1,1496.1 184.1,1480.2 185.1,1499.5 186.1,1501.7 187.1,1494.6 188.1,1479.6 189.1,1487.6 190.1,1489.2 191.1,1492.5 192.1,1486.4 193.1,1485.7 194.1,1492.5 195.1,1493 196.1,1485.7 197.1,1478.4 198.1,1476.9 199.1,1486 200.1,1477.6 201.1,1480.8 202.1,1479.1 203.1,1480 204.1,1480.2 205.1,1472.4 206.1,1473.6 207.1,1473.2 208.1,1475.5 209.1,1467.8 210.1,1483.3 211.1,1466.1 212.1,1477.3 213.1,1463.5 214.1,1475.3 215.1,1461.3 216.1,1473.5 217.1,1469.1 218.2,1471.3 219.2,1463.2 220.2,1467.2 221.2,1466.3 222.2,1465.2 223.2,1461.1 224.2,1469 225.2,1453.8 226.2,1454.3 227.2,1453.9 228.2,1466 229.2,1455 230.2,1454.8 231.2,1454.1 232.2,1455 233.2,1454.5 234.2,1452.7 235.2,1447.4 236.2,1454.8 237.2,1452.2 238.2,1457.6 239.2,1452.2 240.2,1449.2 241.2,1442.8 242.2,1448.1 243.2,1449.2 244.2,1452.6 245.2,1446.6 246.2,1447.2 247.2,1445.4 248.2,1448.5 249.2,1445.6 250.2,1440.4 251.2,1433.7 252.2,1444.3 253.2,1437.4 254.2,1433.1 255.2,1429.7 256.2,1427.4 257.2,1433.7 258.2,1431 259.2,1431.6 260.2,1433.6 261.2,1425.9 262.2,1427.9 263.2,1423.8 264.2,1421.4 265.2,1415.5 266.2,1419.1 267.2,1423.9 268.2,1417.3 269.2,1418.5 270.2,1416.5 271.2,1421.1 272.2,1417.8 273.2,1409.8 274.2,1408.9 275.2,1412.1 276.2,1407.8 277.2,1405.9 278.2,1407.4 279.2,1404 280.2,1401.1 281.2,1406.1 282.2,1398.4 283.2,1391.9 284.2,1394.5 285.2,1392.5 286.2,1394.2 287.2,1388.8 288.2,1388.8 289.2,1385.1 290.2,1379.4 291.2,1379.8 292.2,1379.9 293.2,1375.4 294.3,1371.1 295.3,1371.8 296.3,1370.8 297.3,1372.3 298.3,1368.2 299.3,1367.2 300.3,1363.3 301.3,1363.2 302.3,1359.3 303.3,1357.6 304.3,1355.4 305.3,1354.7 306.3,1350.3 307.3,1346 308.3,1342.6 309.3,1341.9 310.3,1339.9 311.3,1341.8 312.3,1330.8 313.3,1325.6 314.3,1320.3 315.3,1317.1 316.3,1314.3 317.3,1310.4 318.3,1304.7 319.3,1294.4 320.3,1287.5 321.3,1274.7 322.3,1258 323.3,1234.4 324.3,1210.4 325.3,1196.2 326.3,1186.9 327.3,1178.9 328.3,1168.8 329.3,1159.6 330.3,1153.6 331.3,1155 332.3,1158.4 333.3,1163.1 334.3,1174 335.3,1190.6 336.3,1215.3 337.3,1233.2 338.3,1253.5 339.3,1270 340.3,1289.2 341.3,1299.2 342.3,1305.6 343.3,1309.3 344.3,1316.5 345.3,1324.7 346.3,1326.3 347.3,1328 348.3,1336 349.3,1338.6 350.3,1337.4 351.3,1343.6 352.3,1349 353.3,1352.6 354.3,1352.3 355.3,1355.6 356.3,1358.5 357.3,1360.7 358.3,1360.4 359.3,1363.1 360.3,1368.8 361.3,1371.1 362.3,1367 363.3,1376.9 364.3,1374 365.3,1380.1 366.3,1377.3 367.3,1382 368.3,1382.9 369.4,1388.4 370.4,1388.6 371.4,1390.8 372.4,1392.5 373.4,1393.8 374.4,1397.6 375.4,1397.5 376.4,1398.9 377.4,1399.3 378.4,1400.4 379.4,1403.4 380.4,1407.8 381.4,1411.5 382.4,1409.7 383.4,1417.7 384.4,1416.9 385.4,1414.6 386.4,1417 387.4,1417.1 388.4,1412.6 389.4,1422.4 390.4,1421.7 391.4,1416.7 392.4,1426.4 393.4,1422.9 394.4,1425.3 395.4,1418.5 396.4,1428.5 397.4,1431.5 398.4,1429.8 399.4,1432.5 400.4,1427 401.4,1437 402.4,1436.1 403.4,1437.4 404.4,1441.2 405.4,1443.8 406.4,1440.7 407.4,1445.6 408.4,1450.3 409.4,1439.9 410.4,1445.5 411.4,1439.7 412.4,1448.5 413.4,1453.6 414.4,1448.3 415.4,1445 416.4,1448.3 417.4,1453.1 418.4,1445.8 419.4,1446.9 420.4,1455.6 421.4,1448.5 422.4,1455.3 423.4,1451.1 424.4,1449.5 425.4,1460.8 426.4,1463 427.4,1455.3 428.4,1469.9 429.4,1461.2 430.4,1475.4 431.4,1463.1 432.4,1458.2 433.4,1466.4 434.4,1465.5 435.4,1468.1 436.4,1467.3 437.4,1465.5 438.4,1479.4 439.4,1471.1 440.4,1468.6 441.4,1473.6 442.4,1465.2 443.4,1473.5 444.4,1485.6 445.5,1469.6 446.5,1475.9 447.5,1468.1 448.5,1474.7 449.5,1480.7 450.5,1470.4 451.5,1471.3 452.5,1482.3 453.5,1478.2 454.5,1480.7 455.5,1480.4 456.5,1471.4 457.5,1469.7 458.5,1469.1 459.5,1481.9 460.5,1472.2 461.5,1470.7 462.5,1477.5 463.5,1480.1 464.5,1482.6 465.5,1472 466.5,1489.1 467.5,1477.4 468.5,1483.7 469.5,1483.1 470.5,1478.4 471.5,1486.4 472.5,1486.6 473.5,1491.4 474.5,1496.2 475.5,1498 476.5,1491.9 477.5,1490.9 478.5,1485.6 479.5,1479.7 480.5,1491 481.5,1485.9 482.5,1488.1 483.5,1487.4 484.5,1493 485.5,1488.8 486.5,1505.4 487.5,1497.2 488.5,1489.7 489.5,1495.3 490.5,1501.9 491.5,1487.1 492.5,1482.5 493.5,1491.9 494.5,1495.9 495.5,1493 496.5,1497.5 497.5,1499.6 498.5,1501 499.5,1488.6 500.5,1502.2 501.5,1498.4 502.5,1494.7 503.5,1498.5 504.5,1509 505.5,1498.5 506.5,1494.3 507.5,1504.2 508.5,1498.9 509.5,1504.6 510.5,1502.1 511.5,1509.1 512.5,1497 513.5,1498.5 514.5,1507.8 515.5,1511.7 516.5,1502.5 517.5,1508.8 518.5,1504.3 519.5,1501.5 520.6,1491.1 521.6,1514.6 522.6,1508.8 523.6,1487.4 524.6,1506.5 525.6,1497.9 526.6,1495.3 527.6,1498.1 528.6,1506.2 529.6,1501.3 530.6,1500.3 531.6,1500.6 532.6,1499.2 533.6,1504.9 534.6,1488.8 535.6,1493.3 536.6,1500.5 537.6,1494.2 538.6,1502.5 539.6,1499.1 540.6,1503.8 541.6,1500.3 542.6,1505 543.6,1501.1 544.6,1505.6 545.6,1498.8 546.6,1490 547.6,1500.9 548.6,1500.8 549.6,1497.4 550.6,1506.5 551.6,1503.4 552.6,1509.5 553.6,1497.5 554.6,1497.1 555.6,1502.4 556.6,1508.1 557.6,1494.5 558.6,1501.5 559.6,1498 560.6,1496 561.6,1503.1 562.6,1502.5 563.6,1501.2 564.6,1492.8 565.6,1496.3 566.6,1486 567.6,1498.8 568.6,1487.7 569.6,1493.4 570.6,1499.7 571.6,1493 572.6,1495 573.6,1489.9 574.6,1508.1 575.6,1477.1 576.6,1489.6 577.6,1491.9 578.6,1506.9 579.6,1489 580.6,1492.3 581.6,1496.4 582.6,1479.4 583.6,1496.4 584.6,1493.2 585.6,1499.5 586.6,1499.4 587.6,1493.4 588.6,1496.6 589.6,1486.5 590.6,1483.5 591.6,1488.4 592.6,1490.6 593.6,1487.5 594.6,1491.5 595.6,1492.4 596.7,1498.4 597.7,1487.6 598.7,1485.7 599.7,1490.7 600.7,1489.2 601.7,1491 602.7,1496.9 603.7,1482.8 604.7,1491.2 605.7,1494.4 606.7,1493.8 607.7,1478.5 608.7,1484.7 609.7,1493.2 610.7,1486 611.7,1488.2 612.7,1497.3 613.7,1492.4 614.7,1495.1 615.7,1483.4 616.7,1485.3 617.7,1492.1 618.7,1486.6 619.7,1475.5 620.7,1472.8 621.7,1487.4 622.7,1474.5 623.7,1483.9 624.7,1479.1 625.7,1483.8 626.7,1478.6 627.7,1469.6 628.7,1489.4 629.7,1481.5 630.7,1480.6 631.7,1489.5 632.7,1484.7 633.7,1486.7" fill="none" stroke="#800000" stroke-width="0.9" stroke-linejoin="round"/>
<path d="M28.9 1584.8h0M29.9 1562.9h0M30.9 1574.1h0M31.9 1576.8h0M32.9 1567.6h0M33.9 1562h0M34.9 1560.4h0M35.9 1560.9h0M36.9 1546.1h0M37.9 1557.8h0M38.9 1570.5h0M39.9 1565.6h0M40.9 1570.8h0M41.9 1570.3h0M42.9 1569.2h0M43.9 1563.1h0M44.9 1563.7h0M45.9 1570.7h0M46.9 1557.8h0M47.9 1548h0M48.9 1569.1h0M49.9 1561.1h0M50.9 1571h0M51.9 1553.9h0M52.9 1544h0M53.9 1558.1h0M54.9 1553.3h0M55.9 1549.9h0M56.9 1573.7h0M57.9 1561.3h0M58.9 1547.1h0M59.9 1542.8h0M60.9 1556.8h0M61.9 1563.1h0M62.9 1559.9h0M63.9 1567.9h0M64.9 1559.6h0M65.9 1560.8h0M67 1538.1h0M68 1567.6h0M69 1550.2h0M70 1563.7h0M71 1540.3h0M72 1546h0M73 1564.9h0M74 1542.3h0M75 1554.9h0M76 1549.5h0M77 1568.6h0M78 1555.9h0M79 1563.8h0M80 1551.4h0M81 1536.1h0M82 1569.4h0M83 1545.6h0M84 1550.9h0M85 1549.8h0M86 1535.7h0M87 1555.8h0M88 1545.7h0M89 1533.2h0M90 1535.3h0M91 1528.1h0M92 1540.9h0M93 1545.7h0M94 1538.7h0M95 1546.4h0M96 1541.6h0M97 1550.5h0M98 1545.7h0M99 1543.9h0M100 1544.5h0M101 1534.5h0M102 1536.6h0M103 1547.3h0M104 1539.7h0M105 1556h0M106 1550.2h0M107 1531.3h0M108 1546.4h0M109 1552.8h0M110 1536.5h0M111 1552h0M112 1535.2h0M113 1554.3h0M114 1545.2h0M115 1538.4h0M116 1526.1h0M117 1538.7h0M118 1532.9h0M119 1541.9h0M120 1531.2h0M121 1542h0M122 1533.8h0M123 1542.1h0M124 1543.6h0M125 1537.9h0M126 1540.1h0M127 1544.5h0M128 1527.5h0M129 1539.5h0M130 1536.2h0M131 1546.5h0M132 1531.9h0M133 1540.5h0M134 1519h0M135 1541.6h0M136 1534.6h0M137 1533.8h0M138 1537.3h0M139 1520.2h0M140 1527.6h0M141 1529.5h0M142 1526h0M143.1 1523.9h0M144.1 1534.6h0M145.1 1522.9h0M146.1 1524.6h0M147.1 1526.2h0M148.1 1535.2h0M149.1 1538.7h0M150.1 1532.5h0M151.1 1527.6h0M152.1 1513.6h0M153.1 1518.8h0M154.1 1515.7h0M155.1 1515.1h0M156.1 1526.3h0M157.1 1516.6h0M158.1 1530.2h0M159.1 1520.6h0M160.1 1518.3h0M161.1 1517.2h0M162.1 1508h0M163.1 1514.5h0M164.1 1522.6h0M165.1 1520.7h0M166.1 1516.3h0M167.1 1519.1h0M168.1 1514.7h0M169.1 1515.5h0M170.1 1536.5h0M171.1 1511.9h0M172.1 1498.6h0M173.1 1495.3h0M174.1 1503.3h0M175.1 1508.5h0M176.1 1512.4h0M177.1 1504.8h0M178.1 1504.8h0M179.1 1506.6h0M180.1 1495.8h0M181.1 1500.4h0M182.1 1501.6h0M183.1 1496.1h0M184.1 1480.2h0M185.1 1499.5h0M186.1 1501.7h0M187.1 1494.6h0M188.1 1479.6h0M189.1 1487.6h0M190.1 1489.2h0M191.1 1492.5h0M192.1 1486.4h0M193.1 1485.7h0M194.1 1492.5h0M195.1 1493h0M196.1 1485.7h0M197.1 1478.4h0M198.1 1476.9h0M199.1 1486h0M200.1 1477.6h0M201.1 1480.8h0M202.1 1479.1h0M203.1 1480h0M204.1 1480.2h0M205.1 1472.4h0M206.1 1473.6h0M207.1 1473.2h0M208.1 1475.5h0M209.1 1467.8h0M210.1 1483.3h0M211.1 1466.1h0M212.1 1477.3h0M213.1 1463.5h0M214.1 1475.3h0M215.1 1461.3h0M216.1 1473.5h0M217.1 1469.1h0M218.2 1471.3h0M219.2 1463.2h0M220.2 1467.2h0M221.2 1466.3h0M222.2 1465.2h0M223.2 1461.1h0M224.2 1469h0M225.2 1453.8h0M226.2 1454.3h0M227.2 1453.9h0M228.2 1466h0M229.2 1455h0M230.2 1454.8h0M231.2 1454.1h0M232.2 1455h0M233.2 1454.5h0M234.2 1452.7h0M235.2 1447.4h0M236.2 1454.8h0M237.2 1452.2h0M238.2 1457.6h0M239.2 1452.2h0M240.2 1449.2h0M241.2 1442.8h0M242.2 1448.1h0M243.2 1449.2h0M244.2 1452.6h0M245.2 1446.6h0M246.2 1447.2h0M247.2 1445.4h0M248.2 1448.5h0M249.2 1445.6h0M250.2 1440.4h0M251.2 1433.7h0M252.2 1444.3h0M253.2 1437.4h0M254.2 1433.1h0M255.2 1429.7h0M256.2 1427.4h0M257.2 1433.7h0M258.2 1431h0M259.2 1431.6h0M260.2 1433.6h0M261.2 1425.9h0M262.2 1427.9h0M263.2 1423.8h0M264.2 1421.4h0M265.2 1415.5h0M266.2 1419.1h0M267.2 1423.9h0M268.2 1417.3h0M269.2 1418.5h0M270.2 1416.5h0M271.2 1421.1h0M272.2 1417.8h0M273.2 1409.8h0M274.2 1408.9h0M275.2 1412.1h0M276.2 1407.8h0M277.2 1405.9h0M278.2 1407.4h0M279.2 1404h0M280.2 1401.1h0M281.2 1406.1h0M282.2 1398.4h0M283.2 1391.9h0M284.2 1394.5h0M285.2 1392.5h0M286.2 1394.2h0M287.2 1388.8h0M288.2 1388.8h0M289.2 1385.1h0M290.2 1379.4h0M291.2 1379.8h0M292.2 1379.9h0M293.2 1375.4h0M294.3 1371.1h0M295.3 1371.8h0M296.3 1370.8h0M297.3 1372.3h0M298.3 1368.2h0M299.3 1367.2h0M300.3 1363.3h0M301.3 1363.2h0M302.3 1359.3h0M303.3 1357.6h0M304.3 1355.4h0M305.3 1354.7h0M306.3 1350.3h0M307.3 1346h0M308.3 1342.6h0M309.3 1341.9h0M310.3 1339.9h0M311.3 1341.8h0M312.3 1330.8h0M313.3 1325.6h0M314.3 1320.3h0M315.3 1317.1h0M316.3 1314.3h0M317.3 1310.4h0M318.3 1304.7h0M319.3 1294.4h0M320.3 1287.5h0M321.3 1274.7h0M322.3 1258h0M323.3 1234.4h0M324.3 1210.4h0M325.3 1196.2h0M326.3 1186.9h0M327.3 1178.9h0M328.3 1168.8h0M329.3 1159.6h0M330.3 1153.6h0M331.3 1155h0M332.3 1158.4h0M333.3 1163.1h0M334.3 1174h0M335.3 1190.6h0M336.3 1215.3h0M337.3 1233.2h0M338.3 1253.5h0M339.3 1270h0M340.3 1289.2h0M341.3 1299.2h0M342.3 1305.6h0M343.3 1309.3h0M344.3 1316.5h0M345.3 1324.7h0M346.3 1326.3h0M347.3 1328h0M348.3 1336h0M349.3 1338.6h0M350.3 1337.4h0M351.3 1343.6h0M352.3 1349h0M353.3 1352.6h0M354.3 1352.3h0M355.3 1355.6h0M356.3 1358.5h0M357.3 1360.7h0M358.3 1360.4h0M359.3 1363.1h0M360.3 1368.8h0M361.3 1371.1h0M362.3 1367h0M363.3 1376.9h0M364.3 1374h0M365.3 1380.1h0M366.3 1377.3h0M367.3 1382h0M368.3 1382.9h0M369.4 1388.4h0M370.4 1388.6h0M371.4 1390.8h0M372.4 1392.5h0M373.4 1393.8h0M374.4 1397.6h0M375.4 1397.5h0M376.4 1398.9h0M377.4 1399.3h0M378.4 1400.4h0M379.4 1403.4h0M380.4 1407.8h0M381.4 1411.5h0M382.4 1409.7h0M383.4 1417.7h0M384.4 1416.9h0M385.4 1414.6h0M386.4 1417h0M387.4 1417.1h0M388.4 1412.6h0M389.4 1422.4h0M390.4 1421.7h0M391.4 1416.7h0M392.4 1426.4h0M393.4 1422.9h0M394.4 1425.3h0M395.4 1418.5h0M396.4 1428.5h0M397.4 1431.5h0M398.4 1429.8h0M399.4 1432.5h0M400.4 1427h0M401.4 1437h0M402.4 1436.1h0M403.4 1437.4h0M404.4 1441.2h0M405.4 1443.8h0M406.4 1440.7h0M407.4 1445.6h0M408.4 1450.3h0M409.4 1439.9h0M410.4 1445.5h0M411.4 1439.7h0M412.4 1448.5h0M413.4 1453.6h0M414.4 1448.3h0M415.4 1445h0M416.4 1448.3h0M417.4 1453.1h0M418.4 1445.8h0M419.4 1446.9h0M420.4 1455.6h0M421.4 1448.5h0M422.4 1455.3h0M423.4 1451.1h0M424.4 1449.5h0M425.4 1460.8h0M426.4 1463h0M427.4 1455.3h0M428.4 1469.9h0M429.4 1461.2h0M430.4 1475.4h0M431.4 1463.1h0M432.4 1458.2h0M433.4 1466.4h0M434.4 1465.5h0M435.4 1468.1h0M436.4 1467.3h0M437.4 1465.5h0M438.4 1479.4h0M439.4 1471.1h0M440.4 1468.6h0M441.4 1473.6h0M442.4 1465.2h0M443.4 1473.5h0M444.4 1485.6h0M445.5 1469.6h0M446.5 1475.9h0M447.5 1468.1h0M448.5 1474.7h0M449.5 1480.7h0M450.5 1470.4h0M451.5 1471.3h0M452.5 1482.3h0M453.5 1478.2h0M454.5 1480.7h0M455.5 1480.4h0M456.5 1471.4h0M457.5 1469.7h0M458.5 1469.1h0M459.5 1481.9h0M460.5 1472.2h0M461.5 1470.7h0M462.5 1477.5h0M463.5 1480.1h0M464.5 1482.6h0M465.5 1472h0M466.5 1489.1h0M467.5 1477.4h0M468.5 1483.7h0M469.5 1483.1h0M470.5 1478.4h0M471.5 1486.4h0M472.5 1486.6h0M473.5 1491.4h0M474.5 1496.2h0M475.5 1498h0M476.5 1491.9h0M477.5 1490.9h0M478.5 1485.6h0M479.5 1479.7h0M480.5 1491h0M481.5 1485.9h0M482.5 1488.1h0M483.5 1487.4h0M484.5 1493h0M485.5 1488.8h0M486.5 1505.4h0M487.5 1497.2h0M488.5 1489.7h0M489.5 1495.3h0M490.5 1501.9h0M491.5 1487.1h0M492.5 1482.5h0M493.5 1491.9h0M494.5 1495.9h0M495.5 1493h0M496.5 1497.5h0M497.5 1499.6h0M498.5 1501h0M499.5 1488.6h0M500.5 1502.2h0M501.5 1498.4h0M502.5 1494.7h0M503.5 1498.5h0M504.5 1509h0M505.5 1498.5h0M506.5 1494.3h0M507.5 1504.2h0M508.5 1498.9h0M509.5 1504.6h0M510.5 1502.1h0M511.5 1509.1h0M512.5 1497h0M513.5 1498.5h0M514.5 1507.8h0M515.5 1511.7h0M516.5 1502.5h0M517.5 1508.8h0M518.5 1504.3h0M519.5 1501.5h0M520.6 1491.1h0M521.6 1514.6h0M522.6 1508.8h0M523.6 1487.4h0M524.6 1506.5h0M525.6 1497.9h0M526.6 1495.3h0M527.6 1498.1h0M528.6 1506.2h0M529.6 1501.3h0M530.6 1500.3h0M531.6 1500.6h0M532.6 1499.2h0M533.6 1504.9h0M534.6 1488.8h0M535.6 1493.3h0M536.6 1500.5h0M537.6 1494.2h0M538.6 1502.5h0M539.6 1499.1h0M540.6 1503.8h0M541.6 1500.3h0M542.6 1505h0M543.6 1501.1h0M544.6 1505.6h0M545.6 1498.8h0M546.6 1490h0M547.6 1500.9h0M548.6 1500.8h0M549.6 1497.4h0M550.6 1506.5h0M551.6 1503.4h0M552.6 1509.5h0M553.6 1497.5h0M554.6 1497.1h0M555.6 1502.4h0M556.6 1508.1h0M557.6 1494.5h0M558.6 1501.5h0M559.6 1498h0M560.6 1496h0M561.6 1503.1h0M562.6 1502.5h0M563.6 1501.2h0M564.6 1492.8h0M565.6 1496.3h0M566.6 1486h0M567.6 1498.8h0M568.6 1487.7h0M569.6 1493.4h0M570.6 1499.7h0M571.6 1493h0M572.6 1495h0M573.6 1489.9h0M574.6 1508.1h0M575.6 1477.1h0M576.6 1489.6h0M577.6 1491.9h0M578.6 1506.9h0M579.6 1489h0M580.6 1492.3h0M581.6 1496.4h0M582.6 1479.4h0M583.6 1496.4h0M584.6 1493.2h0M585.6 1499.5h0M586.6 1499.4h0M587.6 1493.4h0M588.6 1496.6h0M589.6 1486.5h0M590.6 1483.5h0M591.6 1488.4h0M592.6 1490.6h0M593.6 1487.5h0M594.6 1491.5h0M595.6 1492.4h0M596.7 1498.4h0M597.7 1487.6h0M598.7 1485.7h0M599.7 1490.7h0M600.7 1489.2h0M601.7 1491h0M602.7 1496.9h0M603.7 1482.8h0M604.7 1491.2h0M605.7 1494.4h0M606.7 1493.8h0M607.7 1478.5h0M608.7 1484.7h0M609.7 1493.2h0M610.7 1486h0M611.7 1488.2h0M612.7 1497.3h0M613.7 1492.4h0M614.7 1495.1h0M615.7 1483.4h0M616.7 1485.3h0M617.7 1492.1h0M618.7 1486.6h0M619.7 1475.5h0M620.7 1472.8h0M621.7 1487.4h0M622.7 1474.5h0M623.7 1483.9h0M624.7 1479.1h0M625.7 1483.8h0M626.7 1478.6h0M627.7 1469.6h0M628.7 1489.4h0M629.7 1481.5h0M630.7 1480.6h0M631.7 1489.5h0M632.7 1484.7h0M633.7 1486.7h0" stroke="#800000" stroke-width="4.0" stroke-linecap="round" fill="none"/>
<polyline points="28.9,1525.8 29.9,1527 30.9,1529.4 31.9,1526.4 32.9,1519.1 33.9,1528.6 34.9,1529.2 35.9,1529.1 36.9,1527.2 37.9,1516.9 38.9,1522.5 39.9,1526 40.9,1525.8 41.9,1521.8 42.9,1522.4 43.9,1517.1 44.9,1522.9 45.9,1512.5 46.9,1519.7 47.9,1524.2 48.9,1515.1 49.9,1524.8 50.9,1527.2 51.9,1521.1 52.9,1516.6 53.9,1516.4 54.9,1513.2 55.9,1520.6 56.9,1513 57.9,1517.8 58.9,1512.5 59.9,1518.6 60.9,1510.7 61.9,1515.4 62.9,1512.7 63.9,1519.2 64.9,1513.4 65.9,1514 67,1518.7 68,1509.7 69,1508.9 70,1513.1 71,1509.2 72,1519.2 73,1513 74,1513.2 75,1510.7 76,1501.5 77,1516.2 78,1510.6 79,1503.2 80,1506.4 81,1510.1 82,1514.6 83,1511 84,1510.8 85,1510.4 86,1505.6 87,1506.2 88,1508.4 89,1503.1 90,1507.9 91,1510 92,1498.5 93,1506.1 94,1505.7 95,1506.7 96,1512.5 97,1500.7 98,1512.5 99,1507.6 100,1513.8 101,1503.1 102,1505.5 103,1503.4 104,1505.3 105,1499.9 106,1499.9 107,1501.8 108,1504.3 109,1497 110,1500 111,1498.6 112,1501.5 113,1502.9 114,1494.4 115,1495.7 116,1497.6 117,1494.9 118,1502.9 119,1503.4 120,1499.7 121,1498.4 122,1492.5 123,1492.5 124,1496.8 125,1500 126,1493.3 127,1495 128,1499 129,1499 130,1489.4 131,1493.2 132,1490.8 133,1485.9 134,1489.3 135,1491.1 136,1488.3 137,1491.2 138,1487.8 139,1483 140,1484.1 141,1480.7 142,1482.9 143.1,1488.5 144.1,1484 145.1,1487.3 146.1,1489.4 147.1,1481.2 148.1,1482.7 149.1,1484.2 150.1,1488.6 151.1,1483.7 152.1,1482 153.1,1482.8 154.1,1478.6 155.1,1474.8 156.1,1481.8 157.1,1478.6 158.1,1480.7 159.1,1475.2 160.1,1475.5 161.1,1480 162.1,1477.8 163.1,1479.4 164.1,1474 165.1,1475.7 166.1,1476.9 167.1,1476.9 168.1,1473.5 169.1,1473.9 170.1,1472.2 171.1,1471.4 172.1,1471 173.1,1471.8 174.1,1466.1 175.1,1469.1 176.1,1465.7 177.1,1468 178.1,1466.6 179.1,1467.1 180.1,1465.3 181.1,1465 182.1,1460.9 183.1,1467.9 184.1,1459.8 185.1,1457.8 186.1,1463.2 187.1,1463.3 188.1,1460.8 189.1,1459.6 190.1,1456.8 191.1,1464.1 192.1,1454 193.1,1463.9 194.1,1453 195.1,1453.8 196.1,1455.1 197.1,1453.9 198.1,1455.5 199.1,1451.4 200.1,1451.9 201.1,1448 202.1,1454.2 203.1,1449.7 204.1,1447.8 205.1,1448.9 206.1,1450.3 207.1,1448.1 208.1,1444.7 209.1,1446 210.1,1445.6 211.1,1445 212.1,1442.5 213.1,1444 214.1,1439 215.1,1441 216.1,1438 217.1,1439.2 218.2,1436.9 219.2,1439 220.2,1435.7 221.2,1438.5 222.2,1432.9 223.2,1436.4 224.2,1431.5 225.2,1427.1 226.2,1433.8 227.2,1432.7 228.2,1430.4 229.2,1430.2 230.2,1427.4 231.2,1428.1 232.2,1424.5 233.2,1429.3 234.2,1428.1 235.2,1424.9 236.2,1421.9 237.2,1420.8 238.2,1422.5 239.2,1421.1 240.2,1417.7 241.2,1420 242.2,1419.3 243.2,1417.8 244.2,1416.6 245.2,1415.3 246.2,1413.9 247.2,1412.4 248.2,1410.9 249.2,1413.3 250.2,1407.2 251.2,1409.3 252.2,1409.6 253.2,1411.2 254.2,1405.3 255.2,1407.4 256.2,1406.1 257.2,1404.4 258.2,1404.8 259.2,1397.6 260.2,1401 261.2,1398 262.2,1397.7 263.2,1395.6 264.2,1393.2 265.2,1390.2 266.2,1392.7 267.2,1390.4 268.2,1387.3 269.2,1387.9 270.2,1385 271.2,1384 272.2,1384.2 273.2,1383.6 274.2,1378 275.2,1379.3 276.2,1378.7 277.2,1374.3 278.2,1374 279.2,1373.2 280.2,1372.2 281.2,1367.4 282.2,1364.8 283.2,1364.2 284.2,1362.3 285.2,1361 286.2,1359.2 287.2,1355 288.2,1356.8 289.2,1352.3 290.2,1353.3 291.2,1352 292.2,1350.3 293.2,1348.5 294.3,1346.8 295.3,1343.7 296.3,1341.7 297.3,1343 298.3,1340.1 299.3,1337.5 300.3,1334.5 301.3,1329.5 302.3,1330.8 303.3,1326.2 304.3,1323.9 305.3,1322.2 306.3,1318.1 307.3,1317.3 308.3,1311 309.3,1311.4 310.3,1307.5 311.3,1302.7 312.3,1300.1 313.3,1295.9 314.3,1290.9 315.3,1286.1 316.3,1280.2 317.3,1275.8 318.3,1270 319.3,1263.8 320.3,1256.3 321.3,1246 322.3,1234.5 323.3,1218.8 324.3,1204.3 325.3,1189.7 326.3,1173.9 327.3,1163.3 328.3,1157.8 329.3,1154 330.3,1153 331.3,1155.7 332.3,1161.3 333.3,1168.5 334.3,1179.9 335.3,1196.3 336.3,1220.2 337.3,1237.8 338.3,1250.4 339.3,1263.2 340.3,1271.6 341.3,1275.6 342.3,1281.2 343.3,1286.8 344.3,1291.2 345.3,1296 346.3,1300 347.3,1304.1 348.3,1303.9 349.3,1309.2 350.3,1313.2 351.3,1312.8 352.3,1318.5 353.3,1321.2 354.3,1323.6 355.3,1327.7 356.3,1330.9 357.3,1333.1 358.3,1336.5 359.3,1335.7 360.3,1336.3 361.3,1339.9 362.3,1342.5 363.3,1345.2 364.3,1346 365.3,1346.2 366.3,1350.3 367.3,1351 368.3,1352.6 369.4,1353.9 370.4,1356.7 371.4,1358.9 372.4,1360.2 373.4,1359.1 374.4,1361 375.4,1366.9 376.4,1370.3 377.4,1371.4 378.4,1372.7 379.4,1375 380.4,1374.8 381.4,1377 382.4,1377.9 383.4,1378 384.4,1377.7 385.4,1377.9 386.4,1382.5 387.4,1381.3 388.4,1384.5 389.4,1387.3 390.4,1386.4 391.4,1390.4 392.4,1390.4 393.4,1390.1 394.4,1393.9 395.4,1395.4 396.4,1394.6 397.4,1397.5 398.4,1395.9 399.4,1399.3 400.4,1400.8 401.4,1399.6 402.4,1402.8 403.4,1406.4 404.4,1403.8 405.4,1404 406.4,1404.6 407.4,1406.9 408.4,1407.4 409.4,1407.5 410.4,1412 411.4,1413.5 412.4,1412 413.4,1415.1 414.4,1417.8 415.4,1417.6 416.4,1418.2 417.4,1423.5 418.4,1418.3 419.4,1422.3 420.4,1425.2 421.4,1420.8 422.4,1419.1 423.4,1422.3 424.4,1422.5 425.4,1425.8 426.4,1428.7 427.4,1428.2 428.4,1431.5 429.4,1429.5 430.4,1429.5 431.4,1425.9 432.4,1431.8 433.4,1430.4 434.4,1431.4 435.4,1432.8 436.4,1437.8 437.4,1437 438.4,1435.9 439.4,1433.4 440.4,1436.4 441.4,1437.6 442.4,1441 443.4,1441.1 444.4,1441.8 445.5,1439.1 446.5,1444.4 447.5,1448.7 448.5,1440.2 449.5,1441.8 450.5,1445.1 451.5,1448 452.5,1446.9 453.5,1447.2 454.5,1451.2 455.5,1445.6 456.5,1443.7 457.5,1445.6 458.5,1452 459.5,1453 460.5,1450.2 461.5,1448.1 462.5,1450.2 463.5,1453.9 464.5,1456 465.5,1452.5 466.5,1452.6 467.5,1452.9 468.5,1454.3 469.5,1458.2 470.5,1457.5 471.5,1458.6 472.5,1458.5 473.5,1459.3 474.5,1455.9 475.5,1457.1 476.5,1461.5 477.5,1462.2 478.5,1464.7 479.5,1462.1 480.5,1460.5 481.5,1462.9 482.5,1463.3 483.5,1466 484.5,1464.7 485.5,1467.1 486.5,1467.8 487.5,1468.3 488.5,1468.9 489.5,1465 490.5,1471.6 491.5,1473.6 492.5,1471.8 493.5,1474.5 494.5,1471.6 495.5,1469.3 496.5,1472.9 497.5,1471.7 498.5,1471.9 499.5,1477.4 500.5,1470.6 501.5,1476.9 502.5,1472.4 503.5,1469.3 504.5,1477.1 505.5,1475.7 506.5,1476.4 507.5,1477 508.5,1479.9 509.5,1478.2 510.5,1476.8 511.5,1477.7 512.5,1479.8 513.5,1477.2 514.5,1480.4 515.5,1473.5 516.5,1479.7 517.5,1480.4 518.5,1483 519.5,1476.4 520.6,1481 521.6,1483.4 522.6,1489.7 523.6,1483.4 524.6,1485.1 525.6,1481.8 526.6,1490.6 527.6,1483.5 528.6,1483.8 529.6,1485.3 530.6,1481.1 531.6,1482.3 532.6,1484.7 533.6,1483.5 534.6,1489.5 535.6,1485.1 536.6,1494 537.6,1488.1 538.6,1485.2 539.6,1488.3 540.6,1490.3 541.6,1488.3 542.6,1490 543.6,1488.1 544.6,1486.5 545.6,1489 546.6,1494.7 547.6,1488.5 548.6,1489.8 549.6,1485.3 550.6,1488.3 551.6,1491.7 552.6,1489.7 553.6,1494.8 554.6,1494.4 555.6,1490 556.6,1491.3 557.6,1494 558.6,1493.3 559.6,1491.3 560.6,1486.5 561.6,1497.2 562.6,1493 563.6,1493.7 564.6,1491 565.6,1498.4 566.6,1493.4 567.6,1494.5 568.6,1487.4 569.6,1492.8 570.6,1494.3 571.6,1496 572.6,1497.2 573.6,1494.4 574.6,1498.7 575.6,1495 576.6,1495.1 577.6,1495.8 578.6,1490.4 579.6,1482.5 580.6,1502.5 581.6,1490.6 582.6,1494.6 583.6,1498.8 584.6,1494.7 585.6,1500.9 586.6,1490.6 587.6,1497.9 588.6,1499.6 589.6,1505.1 590.6,1502.8 591.6,1495.5 592.6,1501 593.6,1499.1 594.6,1494.1 595.6,1496.6 596.7,1502 597.7,1497.5 598.7,1495.3 599.7,1496.5 600.7,1494.4 601.7,1493.4 602.7,1500.1 603.7,1500.4 604.7,1502.5 605.7,1493.6 606.7,1495.1 607.7,1500.4 608.7,1499.5 609.7,1498.4 610.7,1494.9 611.7,1497.9 612.7,1494.2 613.7,1504.3 614.7,1501.4 615.7,1495.6 616.7,1503.2 617.7,1495.4 618.7,1500.9 619.7,1499.4 620.7,1497.5 621.7,1503.4 622.7,1493.1 623.7,1497.6 624.7,1497.5 625.7,1492.5 626.7,1493.4 627.7,1498.9 628.7,1499.3 629.7,1494.9 630.7,1500.2 631.7,1499.8 632.7,1500.8 633.7,1497.2" fill="none" stroke="#7000ff" stroke-width="0.9" stroke-linejoin="round"/>
<path d="M28.9 1525.8h0M29.9 1527h0M30.9 1529.4h0M31.9 1526.4h0M32.9 1519.1h0M33.9 1528.6h0M34.9 1529.2h0M35.9 1529.1h0M36.9 1527.2h0M37.9 1516.9h0M38.9 1522.5h0M39.9 1526h0M40.9 1525.8h0M41.9 1521.8h0M42.9 1522.4h0M43.9 1517.1h0M44.9 1522.9h0M45.9 1512.5h0M46.9 1519.7h0M47.9 1524.2h0M48.9 1515.1h0M49.9 1524.8h0M50.9 1527.2h0M51.9 1521.1h0M52.9 1516.6h0M53.9 1516.4h0M54.9 1513.2h0M55.9 1520.6h0M56.9 1513h0M57.9 1517.8h0M58.9 1512.5h0M59.9 1518.6h0M60.9 1510.7h0M61.9 1515.4h0M62.9 1512.7h0M63.9 1519.2h0M64.9 1513.4h0M65.9 1514h0M67 1518.7h0M68 1509.7h0M69 1508.9h0M70 1513.1h0M71 1509.2h0M72 1519.2h0M73 1513h0M74 1513.2h0M75 1510.7h0M76 1501.5h0M77 1516.2h0M78 1510.6h0M79 1503.2h0M80 1506.4h0M81 1510.1h0M82 1514.6h0M83 1511h0M84 1510.8h0M85 1510.4h0M86 1505.6h0M87 1506.2h0M88 1508.4h0M89 1503.1h0M90 1507.9h0M91 1510h0M92 1498.5h0M93 1506.1h0M94 1505.7h0M95 1506.7h0M96 1512.5h0M97 1500.7h0M98 1512.5h0M99 1507.6h0M100 1513.8h0M101 1503.1h0M102 1505.5h0M103 1503.4h0M104 1505.3h0M105 1499.9h0M106 1499.9h0M107 1501.8h0M108 1504.3h0M109 1497h0M110 1500h0M111 1498.6h0M112 1501.5h0M113 1502.9h0M114 1494.4h0M115 1495.7h0M116 1497.6h0M117 1494.9h0M118 1502.9h0M119 1503.4h0M120 1499.7h0M121 1498.4h0M122 1492.5h0M123 1492.5h0M124 1496.8h0M125 1500h0M126 1493.3h0M127 1495h0M128 1499h0M129 1499h0M130 1489.4h0M131 1493.2h0M132 1490.8h0M133 1485.9h0M134 1489.3h0M135 1491.1h0M136 1488.3h0M137 1491.2h0M138 1487.8h0M139 1483h0M140 1484.1h0M141 1480.7h0M142 1482.9h0M143.1 1488.5h0M144.1 1484h0M145.1 1487.3h0M146.1 1489.4h0M147.1 1481.2h0M148.1 1482.7h0M149.1 1484.2h0M150.1 1488.6h0M151.1 1483.7h0M152.1 1482h0M153.1 1482.8h0M154.1 1478.6h0M155.1 1474.8h0M156.1 1481.8h0M157.1 1478.6h0M158.1 1480.7h0M159.1 1475.2h0M160.1 1475.5h0M161.1 1480h0M162.1 1477.8h0M163.1 1479.4h0M164.1 1474h0M165.1 1475.7h0M166.1 1476.9h0M167.1 1476.9h0M168.1 1473.5h0M169.1 1473.9h0M170.1 1472.2h0M171.1 1471.4h0M172.1 1471h0M173.1 1471.8h0M174.1 1466.1h0M175.1 1469.1h0M176.1 1465.7h0M177.1 1468h0M178.1 1466.6h0M179.1 1467.1h0M180.1 1465.3h0M181.1 1465h0M182.1 1460.9h0M183.1 1467.9h0M184.1 1459.8h0M185.1 1457.8h0M186.1 1463.2h0M187.1 1463.3h0M188.1 1460.8h0M189.1 1459.6h0M190.1 1456.8h0M191.1 1464.1h0M192.1 1454h0M193.1 1463.9h0M194.1 1453h0M195.1 1453.8h0M196.1 1455.1h0M197.1 1453.9h0M198.1 1455.5h0M199.1 1451.4h0M200.1 1451.9h0M201.1 1448h0M202.1 1454.2h0M203.1 1449.7h0M204.1 1447.8h0M205.1 1448.9h0M206.1 1450.3h0M207.1 1448.1h0M208.1 1444.7h0M209.1 1446h0M210.1 1445.6h0M211.1 1445h0M212.1 1442.5h0M213.1 1444h0M214.1 1439h0M215.1 1441h0M216.1 1438h0M217.1 1439.2h0M218.2 1436.9h0M219.2 1439h0M220.2 1435.7h0M221.2 1438.5h0M222.2 1432.9h0M223.2 1436.4h0M224.2 1431.5h0M225.2 1427.1h0M226.2 1433.8h0M227.2 1432.7h0M228.2 1430.4h0M229.2 1430.2h0M230.2 1427.4h0M231.2 1428.1h0M232.2 1424.5h0M233.2 1429.3h0M234.2 1428.1h0M235.2 1424.9h0M236.2 1421.9h0M237.2 1420.8h0M238.2 1422.5h0M239.2 1421.1h0M240.2 1417.7h0M241.2 1420h0M242.2 1419.3h0M243.2 1417.8h0M244.2 1416.6h0M245.2 1415.3h0M246.2 1413.9h0M247.2 1412.4h0M248.2 1410.9h0M249.2 1413.3h0M250.2 1407.2h0M251.2 1409.3h0M252.2 1409.6h0M253.2 1411.2h0M254.2 1405.3h0M255.2 1407.4h0M256.2 1406.1h0M257.2 1404.4h0M258.2 1404.8h0M259.2 1397.6h0M260.2 1401h0M261.2 1398h0M262.2 1397.7h0M263.2 1395.6h0M264.2 1393.2h0M265.2 1390.2h0M266.2 1392.7h0M267.2 1390.4h0M268.2 1387.3h0M269.2 1387.9h0M270.2 1385h0M271.2 1384h0M272.2 1384.2h0M273.2 1383.6h0M274.2 1378h0M275.2 1379.3h0M276.2 1378.7h0M277.2 1374.3h0M278.2 1374h0M279.2 1373.2h0M280.2 1372.2h0M281.2 1367.4h0M282.2 1364.8h0M283.2 1364.2h0M284.2 1362.3h0M285.2 1361h0M286.2 1359.2h0M287.2 1355h0M288.2 1356.8h0M289.2 1352.3h0M290.2 1353.3h0M291.2 1352h0M292.2 1350.3h0M293.2 1348.5h0M294.3 1346.8h0M295.3 1343.7h0M296.3 1341.7h0M297.3 1343h0M298.3 1340.1h0M299.3 1337.5h0M300.3 1334.5h0M301.3 1329.5h0M302.3 1330.8h0M303.3 1326.2h0M304.3 1323.9h0M305.3 1322.2h0M306.3 1318.1h0M307.3 1317.3h0M308.3 1311h0M309.3 1311.4h0M310.3 1307.5h0M311.3 1302.7h0M312.3 1300.1h0M313.3 1295.9h0M314.3 1290.9h0M315.3 1286.1h0M316.3 1280.2h0M317.3 1275.8h0M318.3 1270h0M319.3 1263.8h0M320.3 1256.3h0M321.3 1246h0M322.3 1234.5h0M323.3 1218.8h0M324.3 1204.3h0M325.3 1189.7h0M326.3 1173.9h0M327.3 1163.3h0M328.3 1157.8h0M329.3 1154h0M330.3 1153h0M331.3 1155.7h0M332.3 1161.3h0M333.3 1168.5h0M334.3 1179.9h0M335.3 1196.3h0M336.3 1220.2h0M337.3 1237.8h0M338.3 1250.4h0M339.3 1263.2h0M340.3 1271.6h0M341.3 1275.6h0M342.3 1281.2h0M343.3 1286.8h0M344.3 1291.2h0M345.3 1296h0M346.3 1300h0M347.3 1304.1h0M348.3 1303.9h0M349.3 1309.2h0M350.3 1313.2h0M351.3 1312.8h0M352.3 1318.5h0M353.3 1321.2h0M354.3 1323.6h0M355.3 1327.7h0M356.3 1330.9h0M357.3 1333.1h0M358.3 1336.5h0M359.3 1335.7h0M360.3 1336.3h0M361.3 1339.9h0M362.3 1342.5h0M363.3 1345.2h0M364.3 1346h0M365.3 1346.2h0M366.3 1350.3h0M367.3 1351h0M368.3 1352.6h0M369.4 1353.9h0M370.4 1356.7h0M371.4 1358.9h0M372.4 1360.2h0M373.4 1359.1h0M374.4 1361h0M375.4 1366.9h0M376.4 1370.3h0M377.4 1371.4h0M378.4 1372.7h0M379.4 1375h0M380.4 1374.8h0M381.4 1377h0M382.4 1377.9h0M383.4 1378h0M384.4 1377.7h0M385.4 1377.9h0M386.4 1382.5h0M387.4 1381.3h0M388.4 1384.5h0M389.4 1387.3h0M390.4 1386.4h0M391.4 1390.4h0M392.4 1390.4h0M393.4 1390.1h0M394.4 1393.9h0M395.4 1395.4h0M396.4 1394.6h0M397.4 1397.5h0M398.4 1395.9h0M399.4 1399.3h0M400.4 1400.8h0M401.4 1399.6h0M402.4 1402.8h0M403.4 1406.4h0M404.4 1403.8h0M405.4 1404h0M406.4 1404.6h0M407.4 1406.9h0M408.4 1407.4h0M409.4 1407.5h0M410.4 1412h0M411.4 1413.5h0M412.4 1412h0M413.4 1415.1h0M414.4 1417.8h0M415.4 1417.6h0M416.4 1418.2h0M417.4 1423.5h0M418.4 1418.3h0M419.4 1422.3h0M420.4 1425.2h0M421.4 1420.8h0M422.4 1419.1h0M423.4 1422.3h0M424.4 1422.5h0M425.4 1425.8h0M426.4 1428.7h0M427.4 1428.2h0M428.4 1431.5h0M429.4 1429.5h0M430.4 1429.5h0M431.4 1425.9h0M432.4 1431.8h0M433.4 1430.4h0M434.4 1431.4h0M435.4 1432.8h0M436.4 1437.8h0M437.4 1437h0M438.4 1435.9h0M439.4 1433.4h0M440.4 1436.4h0M441.4 1437.6h0M442.4 1441h0M443.4 1441.1h0M444.4 1441.8h0M445.5 1439.1h0M446.5 1444.4h0M447.5 1448.7h0M448.5 1440.2h0M449.5 1441.8h0M450.5 1445.1h0M451.5 1448h0M452.5 1446.9h0M453.5 1447.2h0M454.5 1451.2h0M455.5 1445.6h0M456.5 1443.7h0M457.5 1445.6h0M458.5 1452h0M459.5 1453h0M460.5 1450.2h0M461.5 1448.1h0M462.5 1450.2h0M463.5 1453.9h0M464.5 1456h0M465.5 1452.5h0M466.5 1452.6h0M467.5 1452.9h0M468.5 1454.3h0M469.5 1458.2h0M470.5 1457.5h0M471.5 1458.6h0M472.5 1458.5h0M473.5 1459.3h0M474.5 1455.9h0M475.5 1457.1h0M476.5 1461.5h0M477.5 1462.2h0M478.5 1464.7h0M479.5 1462.1h0M480.5 1460.5h0M481.5 1462.9h0M482.5 1463.3h0M483.5 1466h0M484.5 1464.7h0M485.5 1467.1h0M486.5 1467.8h0M487.5 1468.3h0M488.5 1468.9h0M489.5 1465h0M490.5 1471.6h0M491.5 1473.6h0M492.5 1471.8h0M493.5 1474.5h0M494.5 1471.6h0M495.5 1469.3h0M496.5 1472.9h0M497.5 1471.7h0M498.5 1471.9h0M499.5 1477.4h0M500.5 1470.6h0M501.5 1476.9h0M502.5 1472.4h0M503.5 1469.3h0M504.5 1477.1h0M505.5 1475.7h0M506.5 1476.4h0M507.5 1477h0M508.5 1479.9h0M509.5 1478.2h0M510.5 1476.8h0M511.5 1477.7h0M512.5 1479.8h0M513.5 1477.2h0M514.5 1480.4h0M515.5 1473.5h0M516.5 1479.7h0M517.5 1480.4h0M518.5 1483h0M519.5 1476.4h0M520.6 1481h0M521.6 1483.4h0M522.6 1489.7h0M523.6 1483.4h0M524.6 1485.1h0M525.6 1481.8h0M526.6 1490.6h0M527.6 1483.5h0M528.6 1483.8h0M529.6 1485.3h0M530.6 1481.1h0M531.6 1482.3h0M532.6 1484.7h0M533.6 1483.5h0M534.6 1489.5h0M535.6 1485.1h0M536.6 1494h0M537.6 1488.1h0M538.6 1485.2h0M539.6 1488.3h0M540.6 1490.3h0M541.6 1488.3h0M542.6 1490h0M543.6 1488.1h0M544.6 1486.5h0M545.6 1489h0M546.6 1494.7h0M547.6 1488.5h0M548.6 1489.8h0M549.6 1485.3h0M550.6 1488.3h0M551.6 1491.7h0M552.6 1489.7h0M553.6 1494.8h0M554.6 1494.4h0M555.6 1490h0M556.6 1491.3h0M557.6 1494h0M558.6 1493.3h0M559.6 1491.3h0M560.6 1486.5h0M561.6 1497.2h0M562.6 1493h0M563.6 1493.7h0M564.6 1491h0M565.6 1498.4h0M566.6 1493.4h0M567.6 1494.5h0M568.6 1487.4h0M569.6 1492.8h0M570.6 1494.3h0M571.6 1496h0M572.6 1497.2h0M573.6 1494.4h0M574.6 1498.7h0M575.6 1495h0M576.6 1495.1h0M577.6 1495.8h0M578.6 1490.4h0M579.6 1482.5h0M580.6 1502.5h0M581.6 1490.6h0M582.6 1494.6h0M583.6 1498.8h0M584.6 1494.7h0M585.6 1500.9h0M586.6 1490.6h0M587.6 1497.9h0M588.6 1499.6h0M589.6 1505.1h0M590.6 1502.8h0M591.6 1495.5h0M592.6 1501h0M593.6 1499.1h0M594.6 1494.1h0M595.6 1496.6h0M596.7 1502h0M597.7 1497.5h0M598.7 1495.3h0M599.7 1496.5h0M600.7 1494.4h0M601.7 1493.4h0M602.7 1500.1h0M603.7 1500.4h0M604.7 1502.5h0M605.7 1493.6h0M606.7 1495.1h0M607.7 1500.4h0M608.7 1499.5h0M609.7 1498.4h0M610.7 1494.9h0M611.7 1497.9h0M612.7 1494.2h0M613.7 1504.3h0M614.7 1501.4h0M615.7 1495.6h0M616.7 1503.2h0M617.7 1495.4h0M618.7 1500.9h0M619.7 1499.4h0M620.7 1497.5h0M621.7 1503.4h0M622.7 1493.1h0M623.7 1497.6h0M624.7 1497.5h0M625.7 1492.5h0M626.7 1493.4h0M627.7 1498.9h0M628.7 1499.3h0M629.7 1494.9h0M630.7 1500.2h0M631.7 1499.8h0M632.7 1500.8h0M633.7 1497.2h0" stroke="#7000ff" stroke-width="4.0" stroke-linecap="round" fill="none"/>
<polyline points="28.9,1527.9 29.9,1534.3 30.9,1526.7 31.9,1517 32.9,1525.2 33.9,1527.9 34.9,1528 35.9,1527.7 36.9,1528.2 37.9,1514.6 38.9,1533.6 39.9,1526.4 40.9,1524.2 41.9,1516 42.9,1526.5 43.9,1518.9 44.9,1514.8 45.9,1524.6 46.9,1524 47.9,1521.1 48.9,1517.7 49.9,1522.6 50.9,1520.8 51.9,1521.6 52.9,1521.5 53.9,1513.8 54.9,1520.9 55.9,1514.1 56.9,1520.3 57.9,1516.8 58.9,1516 59.9,1523.7 60.9,1518.1 61.9,1517.7 62.9,1519.6 63.9,1524.5 64.9,1506.1 65.9,1517.7 67,1515.7 68,1519.4 69,1515 70,1514.4 71,1516.6 72,1514 73,1510.6 74,1513.6 75,1520.2 76,1515.2 77,1504.3 78,1512 79,1508.6 80,1515.4 81,1507.5 82,1511.1 83,1513 84,1513.9 85,1508.3 86,1511.3 87,1518.3 88,1482.5 89,1509.7 90,1506.1 91,1508.3 92,1510.5 93,1508.6 94,1510.5 95,1503.3 96,1508.1 97,1506.1 98,1497.4 99,1510.6 100,1506.7 101,1503.9 102,1509.5 103,1507.2 104,1496.7 105,1506.3 106,1512.8 107,1505 108,1506.5 109,1497.3 110,1497.4 111,1497.4 112,1505.7 113,1504.8 114,1492.5 115,1503.9 116,1493.1 117,1495.1 118,1499.2 119,1496.7 120,1498.5 121,1498.9 122,1501.8 123,1495.7 124,1494.7 125,1494.1 126,1504.2 127,1499.6 128,1499.2 129,1496.7 130,1495.2 131,1498.7 132,1493.2 133,1488 134,1487.3 135,1500.4 136,1488.2 137,1489 138,1490.2 139,1493.7 140,1486.2 141,1488.6 142,1490.1 143.1,1484.3 144.1,1488.1 145.1,1491 146.1,1487.8 147.1,1486.8 148.1,1487.6 149.1,1485.3 150.1,1483.7 151.1,1482.9 152.1,1486.7 153.1,1478.5 154.1,1479.3 155.1,1485 156.1,1485.7 157.1,1481.8 158.1,1478.4 159.1,1475.5 160.1,1481.7 161.1,1479.9 162.1,1479.8 163.1,1479.4 164.1,1474.5 165.1,1474.7 166.1,1476.1 167.1,1475.2 168.1,1470.4 169.1,1470.8 170.1,1473.3 171.1,1477.2 172.1,1479.5 173.1,1472.6 174.1,1470.3 175.1,1471.5 176.1,1470.2 177.1,1466.9 178.1,1461.7 179.1,1468.6 180.1,1465.8 181.1,1466.7 182.1,1463.5 183.1,1464.7 184.1,1465.5 185.1,1460.8 186.1,1461.9 187.1,1464.9 188.1,1464.8 189.1,1457.3 190.1,1463.6 191.1,1464.3 192.1,1461.3 193.1,1460.7 194.1,1459.2 195.1,1459.2 196.1,1456.2 197.1,1460.1 198.1,1455.9 199.1,1451.5 200.1,1455.8 201.1,1456 202.1,1453.9 203.1,1449.6 204.1,1452.8 205.1,1444.1 206.1,1453.8 207.1,1450.2 208.1,1443.6 209.1,1442.2 210.1,1452 211.1,1446 212.1,1442.9 213.1,1444.6 214.1,1442.5 215.1,1441.7 216.1,1442 217.1,1441.1 218.2,1437.2 219.2,1439.5 220.2,1438.5 221.2,1434.9 222.2,1438.5 223.2,1436.7 224.2,1432.4 225.2,1437.8 226.2,1434.2 227.2,1435.2 228.2,1429.7 229.2,1429.4 230.2,1429.9 231.2,1427.6 232.2,1427.4 233.2,1424 234.2,1430.4 235.2,1426.3 236.2,1427 237.2,1427 238.2,1422.4 239.2,1425.4 240.2,1416 241.2,1419 242.2,1417.7 243.2,1417.8 244.2,1414.7 245.2,1417.7 246.2,1418.8 247.2,1414.5 248.2,1414.2 249.2,1408 250.2,1409.7 251.2,1410.9 252.2,1407.8 253.2,1408.6 254.2,1406.3 255.2,1406.6 256.2,1402.4 257.2,1404.7 258.2,1405.2 259.2,1402.7 260.2,1404 261.2,1399 262.2,1399.5 263.2,1394.5 264.2,1397.1 265.2,1395.1 266.2,1392.6 267.2,1393.6 268.2,1388.6 269.2,1388.7 270.2,1388.2 271.2,1384.7 272.2,1383.4 273.2,1384.9 274.2,1381.4 275.2,1378.8 276.2,1378.1 277.2,1376.3 278.2,1374.3 279.2,1374.2 280.2,1370.4 281.2,1367.9 282.2,1368.1 283.2,1365.8 284.2,1365.5 285.2,1360.2 286.2,1359.4 287.2,1359.7 288.2,1357.3 289.2,1354.6 290.2,1352.8 291.2,1353.1 292.2,1350.6 293.2,1348 294.3,1346.7 295.3,1345 296.3,1344.6 297.3,1338.5 298.3,1338.5 299.3,1338.1 300.3,1332.6 301.3,1331.7 302.3,1330.5 303.3,1325.8 304.3,1324.1 305.3,1321.2 306.3,1319.6 307.3,1316.1 308.3,1312.9 309.3,1311 310.3,1307.9 311.3,1305.1 312.3,1299.7 313.3,1295.4 314.3,1290.4 315.3,1286.9 316.3,1281.8 317.3,1275 318.3,1268.3 319.3,1264.7 320.3,1255.2 321.3,1246.4 322.3,1234.2 323.3,1220.7 324.3,1205.3 325.3,1189.8 326.3,1174.2 327.3,1163.4 328.3,1158.1 329.3,1153.7 330.3,1153.4 331.3,1155.8 332.3,1161 333.3,1167.8 334.3,1180.8 335.3,1197.4 336.3,1219.5 337.3,1237.6 338.3,1252 339.3,1262.7 340.3,1271.3 341.3,1277.5 342.3,1282.7 343.3,1287.4 344.3,1294.6 345.3,1297 346.3,1300.2 347.3,1304.4 348.3,1306.1 349.3,1310.3 350.3,1313.1 351.3,1316.9 352.3,1318.1 353.3,1320.2 354.3,1326.1 355.3,1327.5 356.3,1332.1 357.3,1333.5 358.3,1334.6 359.3,1337.7 360.3,1338.2 361.3,1340.3 362.3,1343.2 363.3,1344.9 364.3,1344.3 365.3,1348.8 366.3,1350.2 367.3,1352.6 368.3,1351.4 369.4,1355.9 370.4,1356.3 371.4,1358.5 372.4,1362.5 373.4,1363.3 374.4,1366.1 375.4,1368.5 376.4,1370.6 377.4,1369.4 378.4,1370.9 379.4,1374.1 380.4,1375.6 381.4,1375.1 382.4,1378 383.4,1377.5 384.4,1379.7 385.4,1381.3 386.4,1383.3 387.4,1385.4 388.4,1385.3 389.4,1387.5 390.4,1387.4 391.4,1391.3 392.4,1392.4 393.4,1392 394.4,1397.3 395.4,1395.4 396.4,1396.3 397.4,1397.3 398.4,1399.9 399.4,1400.8 400.4,1400.6 401.4,1403.7 402.4,1405.9 403.4,1407.8 404.4,1407.4 405.4,1407.1 406.4,1407.5 407.4,1411 408.4,1413.4 409.4,1416.3 410.4,1412.8 411.4,1412.5 412.4,1413.8 413.4,1417.3 414.4,1418.9 415.4,1417.2 416.4,1417.2 417.4,1416.7 418.4,1422.7 419.4,1419.1 420.4,1424 421.4,1423.3 422.4,1420.5 423.4,1422.9 424.4,1428 425.4,1426.8 426.4,1427.1 427.4,1430.8 428.4,1429 429.4,1430.1 430.4,1430.9 431.4,1431.7 432.4,1434.6 433.4,1432 434.4,1436.3 435.4,1438 436.4,1434.4 437.4,1437.4 438.4,1434.6 439.4,1438.1 440.4,1441.5 441.4,1441.7 442.4,1439.5 443.4,1442.5 444.4,1443.1 445.5,1443 446.5,1443.8 447.5,1448.7 448.5,1438.9 449.5,1444.3 450.5,1448.4 451.5,1446.8 452.5,1448.5 453.5,1449.1 454.5,1448.5 455.5,1449.7 456.5,1448.5 457.5,1450.9 458.5,1453.3 459.5,1454.6 460.5,1454 461.5,1452.7 462.5,1453 463.5,1450.3 464.5,1454.7 465.5,1453.3 466.5,1454.6 467.5,1452.2 468.5,1457.7 469.5,1458.4 470.5,1458.7 471.5,1456.4 472.5,1458.7 473.5,1462.2 474.5,1460.8 475.5,1462.7 476.5,1462.4 477.5,1466.7 478.5,1467.8 479.5,1470.8 480.5,1463.7 481.5,1467.3 482.5,1462.3 483.5,1468.2 484.5,1468.1 485.5,1466.4 486.5,1471.9 487.5,1468.9 488.5,1465.9 489.5,1473.6 490.5,1470.3 491.5,1472.7 492.5,1469.2 493.5,1469.4 494.5,1468.6 495.5,1469.4 496.5,1474.9 497.5,1474.8 498.5,1469.1 499.5,1474.1 500.5,1474.6 501.5,1472.8 502.5,1476.2 503.5,1473.5 504.5,1478.9 505.5,1475.7 506.5,1477.4 507.5,1469.5 508.5,1476.3 509.5,1478.1 510.5,1476.6 511.5,1478.2 512.5,1476.4 513.5,1482.1 514.5,1476.9 515.5,1479.4 516.5,1484.9 517.5,1484.5 518.5,1481.4 519.5,1478.1 520.6,1476.5 521.6,1483.9 522.6,1483.6 523.6,1482.5 524.6,1482.8 525.6,1490.5 526.6,1487.1 527.6,1484.9 528.6,1484.5 529.6,1484.5 530.6,1486.9 531.6,1485.4 532.6,1486.8 533.6,1485.5 534.6,1489.5 535.6,1488.2 536.6,1484.2 537.6,1496.6 538.6,1489.3 539.6,1487.2 540.6,1485.1 541.6,1489.5 542.6,1487.6 543.6,1495.1 544.6,1491.7 545.6,1488.4 546.6,1484.9 547.6,1493.3 548.6,1485.7 549.6,1492.8 550.6,1491.9 551.6,1483.2 552.6,1491.1 553.6,1497.5 554.6,1489.5 555.6,1485.3 556.6,1487.3 557.6,1492.7 558.6,1494.1 559.6,1496.1 560.6,1494.5 561.6,1490.7 562.6,1492.6 563.6,1493.5 564.6,1493.9 565.6,1490.5 566.6,1497 567.6,1498.7 568.6,1494.8 569.6,1496 570.6,1491.5 571.6,1496.6 572.6,1493.4 573.6,1493.4 574.6,1499.2 575.6,1497.2 576.6,1495.3 577.6,1491.6 578.6,1497.4 579.6,1503 580.6,1498.8 581.6,1498.7 582.6,1502.2 583.6,1505.4 584.6,1500.4 585.6,1502.2 586.6,1499.6 587.6,1500.7 588.6,1500.7 589.6,1503.1 590.6,1497.9 591.6,1500.7 592.6,1500.8 593.6,1499.6 594.6,1497.9 595.6,1502.9 596.7,1498.9 597.7,1495 598.7,1502.9 599.7,1495.5 600.7,1503.2 601.7,1492 602.7,1500.7 603.7,1507 604.7,1500.1 605.7,1504.9 606.7,1499.6 607.7,1498.3 608.7,1500 609.7,1504.3 610.7,1505.5 611.7,1506 612.7,1504.1 613.7,1501 614.7,1494.1 615.7,1498.4 616.7,1506.2 617.7,1495.4 618.7,1502.6 619.7,1502.4 620.7,1495 621.7,1502 622.7,1499.4 623.7,1501.4 624.7,1500.3 625.7,1499.9 626.7,1497.3 627.7,1493.5 628.7,1506.5 629.7,1497.3 630.7,1499.3 631.7,1498.9 632.7,1499.1 633.7,1497.4" fill="none" stroke="#00c8d8" stroke-width="0.9" stroke-linejoin="round"/>
<path d="M28.9 1527.9h0M29.9 1534.3h0M30.9 1526.7h0M31.9 1517h0M32.9 1525.2h0M33.9 1527.9h0M34.9 1528h0M35.9 1527.7h0M36.9 1528.2h0M37.9 1514.6h0M38.9 1533.6h0M39.9 1526.4h0M40.9 1524.2h0M41.9 1516h0M42.9 1526.5h0M43.9 1518.9h0M44.9 1514.8h0M45.9 1524.6h0M46.9 1524h0M47.9 1521.1h0M48.9 1517.7h0M49.9 1522.6h0M50.9 1520.8h0M51.9 1521.6h0M52.9 1521.5h0M53.9 1513.8h0M54.9 1520.9h0M55.9 1514.1h0M56.9 1520.3h0M57.9 1516.8h0M58.9 1516h0M59.9 1523.7h0M60.9 1518.1h0M61.9 1517.7h0M62.9 1519.6h0M63.9 1524.5h0M64.9 1506.1h0M65.9 1517.7h0M67 1515.7h0M68 1519.4h0M69 1515h0M70 1514.4h0M71 1516.6h0M72 1514h0M73 1510.6h0M74 1513.6h0M75 1520.2h0M76 1515.2h0M77 1504.3h0M78 1512h0M79 1508.6h0M80 1515.4h0M81 1507.5h0M82 1511.1h0M83 1513h0M84 1513.9h0M85 1508.3h0M86 1511.3h0M87 1518.3h0M88 1482.5h0M89 1509.7h0M90 1506.1h0M91 1508.3h0M92 1510.5h0M93 1508.6h0M94 1510.5h0M95 1503.3h0M96 1508.1h0M97 1506.1h0M98 1497.4h0M99 1510.6h0M100 1506.7h0M101 1503.9h0M102 1509.5h0M103 1507.2h0M104 1496.7h0M105 1506.3h0M106 1512.8h0M107 1505h0M108 1506.5h0M109 1497.3h0M110 1497.4h0M111 1497.4h0M112 1505.7h0M113 1504.8h0M114 1492.5h0M115 1503.9h0M116 1493.1h0M117 1495.1h0M118 1499.2h0M119 1496.7h0M120 1498.5h0M121 1498.9h0M122 1501.8h0M123 1495.7h0M124 1494.7h0M125 1494.1h0M126 1504.2h0M127 1499.6h0M128 1499.2h0M129 1496.7h0M130 1495.2h0M131 1498.7h0M132 1493.2h0M133 1488h0M134 1487.3h0M135 1500.4h0M136 1488.2h0M137 1489h0M138 1490.2h0M139 1493.7h0M140 1486.2h0M141 1488.6h0M142 1490.1h0M143.1 1484.3h0M144.1 1488.1h0M145.1 1491h0M146.1 1487.8h0M147.1 1486.8h0M148.1 1487.6h0M149.1 1485.3h0M150.1 1483.7h0M151.1 1482.9h0M152.1 1486.7h0M153.1 1478.5h0M154.1 1479.3h0M155.1 1485h0M156.1 1485.7h0M157.1 1481.8h0M158.1 1478.4h0M159.1 1475.5h0M160.1 1481.7h0M161.1 1479.9h0M162.1 1479.8h0M163.1 1479.4h0M164.1 1474.5h0M165.1 1474.7h0M166.1 1476.1h0M167.1 1475.2h0M168.1 1470.4h0M169.1 1470.8h0M170.1 1473.3h0M171.1 1477.2h0M172.1 1479.5h0M173.1 1472.6h0M174.1 1470.3h0M175.1 1471.5h0M176.1 1470.2h0M177.1 1466.9h0M178.1 1461.7h0M179.1 1468.6h0M180.1 1465.8h0M181.1 1466.7h0M182.1 1463.5h0M183.1 1464.7h0M184.1 1465.5h0M185.1 1460.8h0M186.1 1461.9h0M187.1 1464.9h0M188.1 1464.8h0M189.1 1457.3h0M190.1 1463.6h0M191.1 1464.3h0M192.1 1461.3h0M193.1 1460.7h0M194.1 1459.2h0M195.1 1459.2h0M196.1 1456.2h0M197.1 1460.1h0M198.1 1455.9h0M199.1 1451.5h0M200.1 1455.8h0M201.1 1456h0M202.1 1453.9h0M203.1 1449.6h0M204.1 1452.8h0M205.1 1444.1h0M206.1 1453.8h0M207.1 1450.2h0M208.1 1443.6h0M209.1 1442.2h0M210.1 1452h0M211.1 1446h0M212.1 1442.9h0M213.1 1444.6h0M214.1 1442.5h0M215.1 1441.7h0M216.1 1442h0M217.1 1441.1h0M218.2 1437.2h0M219.2 1439.5h0M220.2 1438.5h0M221.2 1434.9h0M222.2 1438.5h0M223.2 1436.7h0M224.2 1432.4h0M225.2 1437.8h0M226.2 1434.2h0M227.2 1435.2h0M228.2 1429.7h0M229.2 1429.4h0M230.2 1429.9h0M231.2 1427.6h0M232.2 1427.4h0M233.2 1424h0M234.2 1430.4h0M235.2 1426.3h0M236.2 1427h0M237.2 1427h0M238.2 1422.4h0M239.2 1425.4h0M240.2 1416h0M241.2 1419h0M242.2 1417.7h0M243.2 1417.8h0M244.2 1414.7h0M245.2 1417.7h0M246.2 1418.8h0M247.2 1414.5h0M248.2 1414.2h0M249.2 1408h0M250.2 1409.7h0M251.2 1410.9h0M252.2 1407.8h0M253.2 1408.6h0M254.2 1406.3h0M255.2 1406.6h0M256.2 1402.4h0M257.2 1404.7h0M258.2 1405.2h0M259.2 1402.7h0M260.2 1404h0M261.2 1399h0M262.2 1399.5h0M263.2 1394.5h0M264.2 1397.1h0M265.2 1395.1h0M266.2 1392.6h0M267.2 1393.6h0M268.2 1388.6h0M269.2 1388.7h0M270.2 1388.2h0M271.2 1384.7h0M272.2 1383.4h0M273.2 1384.9h0M274.2 1381.4h0M275.2 1378.8h0M276.2 1378.1h0M277.2 1376.3h0M278.2 1374.3h0M279.2 1374.2h0M280.2 1370.4h0M281.2 1367.9h0M282.2 1368.1h0M283.2 1365.8h0M284.2 1365.5h0M285.2 1360.2h0M286.2 1359.4h0M287.2 1359.7h0M288.2 1357.3h0M289.2 1354.6h0M290.2 1352.8h0M291.2 1353.1h0M292.2 1350.6h0M293.2 1348h0M294.3 1346.7h0M295.3 1345h0M296.3 1344.6h0M297.3 1338.5h0M298.3 1338.5h0M299.3 1338.1h0M300.3 1332.6h0M301.3 1331.7h0M302.3 1330.5h0M303.3 1325.8h0M304.3 1324.1h0M305.3 1321.2h0M306.3 1319.6h0M307.3 1316.1h0M308.3 1312.9h0M309.3 1311h0M310.3 1307.9h0M311.3 1305.1h0M312.3 1299.7h0M313.3 1295.4h0M314.3 1290.4h0M315.3 1286.9h0M316.3 1281.8h0M317.3 1275h0M318.3 1268.3h0M319.3 1264.7h0M320.3 1255.2h0M321.3 1246.4h0M322.3 1234.2h0M323.3 1220.7h0M324.3 1205.3h0M325.3 1189.8h0M326.3 1174.2h0M327.3 1163.4h0M328.3 1158.1h0M329.3 1153.7h0M330.3 1153.4h0M331.3 1155.8h0M332.3 1161h0M333.3 1167.8h0M334.3 1180.8h0M335.3 1197.4h0M336.3 1219.5h0M337.3 1237.6h0M338.3 1252h0M339.3 1262.7h0M340.3 1271.3h0M341.3 1277.5h0M342.3 1282.7h0M343.3 1287.4h0M344.3 1294.6h0M345.3 1297h0M346.3 1300.2h0M347.3 1304.4h0M348.3 1306.1h0M349.3 1310.3h0M350.3 1313.1h0M351.3 1316.9h0M352.3 1318.1h0M353.3 1320.2h0M354.3 1326.1h0M355.3 1327.5h0M356.3 1332.1h0M357.3 1333.5h0M358.3 1334.6h0M359.3 1337.7h0M360.3 1338.2h0M361.3 1340.3h0M362.3 1343.2h0M363.3 1344.9h0M364.3 1344.3h0M365.3 1348.8h0M366.3 1350.2h0M367.3 1352.6h0M368.3 1351.4h0M369.4 1355.9h0M370.4 1356.3h0M371.4 1358.5h0M372.4 1362.5h0M373.4 1363.3h0M374.4 1366.1h0M375.4 1368.5h0M376.4 1370.6h0M377.4 1369.4h0M378.4 1370.9h0M379.4 1374.1h0M380.4 1375.6h0M381.4 1375.1h0M382.4 1378h0M383.4 1377.5h0M384.4 1379.7h0M385.4 1381.3h0M386.4 1383.3h0M387.4 1385.4h0M388.4 1385.3h0M389.4 1387.5h0M390.4 1387.4h0M391.4 1391.3h0M392.4 1392.4h0M393.4 1392h0M394.4 1397.3h0M395.4 1395.4h0M396.4 1396.3h0M397.4 1397.3h0M398.4 1399.9h0M399.4 1400.8h0M400.4 1400.6h0M401.4 1403.7h0M402.4 1405.9h0M403.4 1407.8h0M404.4 1407.4h0M405.4 1407.1h0M406.4 1407.5h0M407.4 1411h0M408.4 1413.4h0M409.4 1416.3h0M410.4 1412.8h0M411.4 1412.5h0M412.4 1413.8h0M413.4 1417.3h0M414.4 1418.9h0M415.4 1417.2h0M416.4 1417.2h0M417.4 1416.7h0M418.4 1422.7h0M419.4 1419.1h0M420.4 1424h0M421.4 1423.3h0M422.4 1420.5h0M423.4 1422.9h0M424.4 1428h0M425.4 1426.8h0M426.4 1427.1h0M427.4 1430.8h0M428.4 1429h0M429.4 1430.1h0M430.4 1430.9h0M431.4 1431.7h0M432.4 1434.6h0M433.4 1432h0M434.4 1436.3h0M435.4 1438h0M436.4 1434.4h0M437.4 1437.4h0M438.4 1434.6h0M439.4 1438.1h0M440.4 1441.5h0M441.4 1441.7h0M442.4 1439.5h0M443.4 1442.5h0M444.4 1443.1h0M445.5 1443h0M446.5 1443.8h0M447.5 1448.7h0M448.5 1438.9h0M449.5 1444.3h0M450.5 1448.4h0M451.5 1446.8h0M452.5 1448.5h0M453.5 1449.1h0M454.5 1448.5h0M455.5 1449.7h0M456.5 1448.5h0M457.5 1450.9h0M458.5 1453.3h0M459.5 1454.6h0M460.5 1454h0M461.5 1452.7h0M462.5 1453h0M463.5 1450.3h0M464.5 1454.7h0M465.5 1453.3h0M466.5 1454.6h0M467.5 1452.2h0M468.5 1457.7h0M469.5 1458.4h0M470.5 1458.7h0M471.5 1456.4h0M472.5 1458.7h0M473.5 1462.2h0M474.5 1460.8h0M475.5 1462.7h0M476.5 1462.4h0M477.5 1466.7h0M478.5 1467.8h0M479.5 1470.8h0M480.5 1463.7h0M481.5 1467.3h0M482.5 1462.3h0M483.5 1468.2h0M484.5 1468.1h0M485.5 1466.4h0M486.5 1471.9h0M487.5 1468.9h0M488.5 1465.9h0M489.5 1473.6h0M490.5 1470.3h0M491.5 1472.7h0M492.5 1469.2h0M493.5 1469.4h0M494.5 1468.6h0M495.5 1469.4h0M496.5 1474.9h0M497.5 1474.8h0M498.5 1469.1h0M499.5 1474.1h0M500.5 1474.6h0M501.5 1472.8h0M502.5 1476.2h0M503.5 1473.5h0M504.5 1478.9h0M505.5 1475.7h0M506.5 1477.4h0M507.5 1469.5h0M508.5 1476.3h0M509.5 1478.1h0M510.5 1476.6h0M511.5 1478.2h0M512.5 1476.4h0M513.5 1482.1h0M514.5 1476.9h0M515.5 1479.4h0M516.5 1484.9h0M517.5 1484.5h0M518.5 1481.4h0M519.5 1478.1h0M520.6 1476.5h0M521.6 1483.9h0M522.6 1483.6h0M523.6 1482.5h0M524.6 1482.8h0M525.6 1490.5h0M526.6 1487.1h0M527.6 1484.9h0M528.6 1484.5h0M529.6 1484.5h0M530.6 1486.9h0M531.6 1485.4h0M532.6 1486.8h0M533.6 1485.5h0M534.6 1489.5h0M535.6 1488.2h0M536.6 1484.2h0M537.6 1496.6h0M538.6 1489.3h0M539.6 1487.2h0M540.6 1485.1h0M541.6 1489.5h0M542.6 1487.6h0M543.6 1495.1h0M544.6 1491.7h0M545.6 1488.4h0M546.6 1484.9h0M547.6 1493.3h0M548.6 1485.7h0M549.6 1492.8h0M550.6 1491.9h0M551.6 1483.2h0M552.6 1491.1h0M553.6 1497.5h0M554.6 1489.5h0M555.6 1485.3h0M556.6 1487.3h0M557.6 1492.7h0M558.6 1494.1h0M559.6 1496.1h0M560.6 1494.5h0M561.6 1490.7h0M562.6 1492.6h0M563.6 1493.5h0M564.6 1493.9h0M565.6 1490.5h0M566.6 1497h0M567.6 1498.7h0M568.6 1494.8h0M569.6 1496h0M570.6 1491.5h0M571.6 1496.6h0M572.6 1493.4h0M573.6 1493.4h0M574.6 1499.2h0M575.6 1497.2h0M576.6 1495.3h0M577.6 1491.6h0M578.6 1497.4h0M579.6 1503h0M580.6 1498.8h0M581.6 1498.7h0M582.6 1502.2h0M583.6 1505.4h0M584.6 1500.4h0M585.6 1502.2h0M586.6 1499.6h0M587.6 1500.7h0M588.6 1500.7h0M589.6 1503.1h0M590.6 1497.9h0M591.6 1500.7h0M592.6 1500.8h0M593.6 1499.6h0M594.6 1497.9h0M595.6 1502.9h0M596.7 1498.9h0M597.7 1495h0M598.7 1502.9h0M599.7 1495.5h0M600.7 1503.2h0M601.7 1492h0M602.7 1500.7h0M603.7 1507h0M604.7 1500.1h0M605.7 1504.9h0M606.7 1499.6h0M607.7 1498.3h0M608.7 1500h0M609.7 1504.3h0M610.7 1505.5h0M611.7 1506h0M612.7 1504.1h0M613.7 1501h0M614.7 1494.1h0M615.7 1498.4h0M616.7 1506.2h0M617.7 1495.4h0M618.7 1502.6h0M619.7 1502.4h0M620.7 1495h0M621.7 1502h0M622.7 1499.4h0M623.7 1501.4h0M624.7 1500.3h0M625.7 1499.9h0M626.7 1497.3h0M627.7 1493.5h0M628.7 1506.5h0M629.7 1497.3h0M630.7 1499.3h0M631.7 1498.9h0M632.7 1499.1h0M633.7 1497.4h0" stroke="#00ffff" stroke-width="4.0" stroke-linecap="round" fill="none"/>
<polyline points="263,1575.1 300,1575.1 315.5,1574.8 318.8,1572.1 320.8,1553.5 322.8,1513.5 324.4,1446.5 326.1,1366.5 327.4,1286.5 328.4,1226.5 329.3,1181.5 330,1160.5 330.6,1152.5 331.3,1160.5 332.1,1181.5 333,1226.5 333.9,1286.5 334.8,1366.5 336.1,1446.5 337.2,1513.5 338.1,1553.5 339.5,1567.5 342.8,1572.5 346,1574.8 380,1575.1 420,1575.1" fill="none" stroke="#333" stroke-width="1.0" stroke-dasharray="3,3"/>
<path d="M28.9 1576.5H633.7" stroke="#000" stroke-width="1.9" fill="none"/>
<path d="M28.9 1575.6v9.7M182.4 1575.6v9.7M332.6 1575.6v9.7M483.3 1575.6v9.7M633.7 1575.6v9.7M106.5 1575.6v5.3M257.5 1575.6v5.3M408 1575.6v5.3M558.5 1575.6v5.3" stroke="#000" stroke-width="1.8" fill="none"/>
<text x="26.4" y="1610.5" class="tk">-1.0</text>
<text x="179.9" y="1610.5" class="tk">-0.5</text>
<text x="335" y="1610.5" class="tk">0.0</text>
<text x="485.7" y="1610.5" class="tk">0.5</text>
<text x="636.1" y="1610.5" class="tk">1.0</text>
<text x="334.4" y="1646.5" class="tk" style="font-size:29px">E (meV)</text>
<polyline points="795.5,1578.8 797.3,1573.3 799,1573.9 800.8,1566.8 802.6,1568 804.3,1573.2 806.1,1565.5 807.9,1565 809.6,1569.4 811.4,1559.4 813.2,1562.7 814.9,1565.5 816.7,1561.6 818.5,1559.6 820.2,1558.4 822,1560.8 823.8,1557.1 825.5,1559.6 827.3,1557.7 829.1,1557.4 830.9,1559.5 832.6,1554.8 834.4,1552.9 836.2,1554.5 837.9,1554.5 839.7,1552.7 841.5,1548.3 843.2,1553.4 845,1546.8 846.8,1545.5 848.5,1552 850.3,1552.6 852.1,1547.6 853.8,1545.6 855.6,1550.2 857.4,1543 859.1,1545.4 860.9,1543.4 862.7,1545.4 864.4,1544 866.2,1540.8 868,1544.4 869.7,1542.8 871.5,1540.4 873.3,1538.9 875,1538.7 876.8,1535.2 878.6,1536.7 880.3,1535.9 882.1,1536.9 883.9,1534.3 885.6,1533 887.4,1533.6 889.2,1534.2 890.9,1532.4 892.7,1529.9 894.5,1528.2 896.2,1531.1 898,1527.1 899.8,1523.4 901.6,1525.3 903.3,1520 905.1,1521.5 906.9,1522.9 908.6,1520 910.4,1518.6 912.2,1519.6 913.9,1519.4 915.7,1514 917.5,1512.5 919.2,1512.3 921,1510.4 922.8,1512.5 924.5,1512 926.3,1509.2 928.1,1506.3 929.8,1504.2 931.6,1505.8 933.4,1503.4 935.1,1504.5 936.9,1500.1 938.7,1500.1 940.4,1499.1 942.2,1500.4 944,1498.6 945.7,1496.6 947.5,1494.7 949.3,1494.2 951,1488.3 952.8,1491.7 954.6,1488.2 956.3,1489.7 958.1,1487.2 959.9,1486.1 961.6,1481.3 963.4,1485.2 965.2,1480.2 967,1478 968.7,1475 970.5,1474.8 972.3,1469.2 974,1473.1 975.8,1470.2 977.6,1467.8 979.3,1468.5 981.1,1465.6 982.9,1464 984.6,1461 986.4,1460.7 988.2,1456.8 989.9,1455.1 991.7,1455.2 993.5,1452.2 995.2,1449.2 997,1448.9 998.8,1444.4 1000.5,1447.1 1002.3,1441.5 1004.1,1439.3 1005.8,1440.4 1007.6,1434.2 1009.4,1431.1 1011.1,1431.9 1012.9,1429.4 1014.7,1428.9 1016.4,1425.4 1018.2,1421.3 1020,1421.3 1021.7,1418.8 1023.5,1418.5 1025.3,1415.2 1027,1411.7 1028.8,1409.9 1030.6,1408.6 1032.4,1405.8 1034.1,1404 1035.9,1401.3 1037.7,1396.9 1039.4,1395.6 1041.2,1393.5 1043,1388.7 1044.7,1385.7 1046.5,1384.9 1048.3,1381.4 1050,1378.1 1051.8,1375.2 1053.6,1369.6 1055.3,1364.9 1057.1,1361.7 1058.9,1356.2 1060.6,1351.9 1062.4,1346 1064.2,1338 1065.9,1330.6 1067.7,1321.8 1069.5,1312.9 1071.2,1302.5 1073,1293.2 1074.8,1279.4 1076.5,1268.1 1078.3,1256 1080.1,1243.7 1081.8,1231.4 1083.6,1219.1 1085.4,1209.6 1087.1,1198.3 1088.9,1187.6 1090.7,1177.6 1092.4,1169.5 1094.2,1163.1 1096,1158.3 1097.8,1154.3 1099.5,1154.2 1101.3,1157.7 1103.1,1162.9 1104.8,1173.1 1106.6,1192.4 1108.4,1209.8 1110.1,1228.6 1111.9,1251.5 1113.7,1269.1 1115.4,1287.1 1117.2,1304.6 1119,1318 1120.7,1325.7 1122.5,1332.7 1124.3,1341.4 1126,1347.4 1127.8,1351.3 1129.6,1356.7 1131.3,1362.5 1133.1,1365.1 1134.9,1368 1136.6,1371.1 1138.4,1374.7 1140.2,1379.2 1141.9,1382.8 1143.7,1384.7 1145.5,1387.1 1147.2,1390.4 1149,1392.2 1150.8,1397.3 1152.5,1399.3 1154.3,1402.9 1156.1,1406.5 1157.8,1407.8 1159.6,1408.1 1161.4,1410.4 1163.1,1411.7 1164.9,1413.1 1166.7,1420.4 1168.5,1420.9 1170.2,1421.1 1172,1426.3 1173.8,1425.2 1175.5,1430 1177.3,1432.7 1179.1,1434 1180.8,1436.4 1182.6,1440.4 1184.4,1440.8 1186.1,1445.2 1187.9,1443.1 1189.7,1447 1191.4,1451.9 1193.2,1449.9 1195,1451.8 1196.7,1455.1 1198.5,1456.2 1200.3,1459 1202,1462 1203.8,1463 1205.6,1464.2 1207.3,1464.9 1209.1,1467.5 1210.9,1470.3 1212.6,1469 1214.4,1471.2 1216.2,1471.6 1217.9,1474.8 1219.7,1476.5 1221.5,1476.7 1223.2,1477.1 1225,1478.9 1226.8,1482.6 1228.5,1481.8 1230.3,1485.5 1232.1,1484.3 1233.9,1485.3 1235.6,1489.4 1237.4,1488 1239.2,1492.8 1240.9,1488.2 1242.7,1493.6 1244.5,1494 1246.2,1495.7 1248,1498.3 1249.8,1495.4 1251.5,1504.6 1253.3,1501 1255.1,1507.9 1256.8,1506.1 1258.6,1506.2 1260.4,1504 1262.1,1511.7 1263.9,1510.8 1265.7,1513.1 1267.4,1508.8 1269.2,1509.5 1271,1513.5 1272.7,1516.5 1274.5,1518.2 1276.3,1520.3 1278,1517 1279.8,1517.1 1281.6,1522.6 1283.3,1519.9 1285.1,1523 1286.9,1528.5 1288.6,1524.1 1290.4,1526.8 1292.2,1527.5 1293.9,1527.8 1295.7,1529.4 1297.5,1530.5 1299.2,1530.3 1301,1534.3 1302.8,1533.8 1304.6,1530.1 1306.3,1536.4 1308.1,1534.1 1309.9,1534.2 1311.6,1533.5 1313.4,1537.8 1315.2,1536.7 1316.9,1535.7 1318.7,1536.4 1320.5,1541.8 1322.2,1539.3 1324,1539.9 1325.8,1547.7 1327.5,1543.4 1329.3,1545.1 1331.1,1544.7 1332.8,1545.2 1334.6,1543.8 1336.4,1548.7 1338.1,1548.5 1339.9,1546.6 1341.7,1549.2 1343.4,1554.6 1345.2,1551.8 1347,1552 1348.7,1551 1350.5,1551.9 1352.3,1555.4 1354,1556.9 1355.8,1555.9 1357.6,1558.4 1359.3,1554.7 1361.1,1556.4 1362.9,1559 1364.6,1561.8 1366.4,1558.2 1368.2,1562.6 1370,1558 1371.7,1564.3 1373.5,1565.4 1375.3,1561.9 1377,1564.3 1378.8,1566 1380.6,1563 1382.3,1564.4 1384.1,1565 1385.9,1568.4 1387.6,1570.1 1389.4,1566 1391.2,1567.2 1392.9,1571.7 1394.7,1569 1396.5,1571 1398.2,1574.5 1400,1573.3" fill="none" stroke="#800000" stroke-width="0.9" stroke-linejoin="round"/>
<path d="M795.5 1578.8h0M797.3 1573.3h0M799 1573.9h0M800.8 1566.8h0M802.6 1568h0M804.3 1573.2h0M806.1 1565.5h0M807.9 1565h0M809.6 1569.4h0M811.4 1559.4h0M813.2 1562.7h0M814.9 1565.5h0M816.7 1561.6h0M818.5 1559.6h0M820.2 1558.4h0M822 1560.8h0M823.8 1557.1h0M825.5 1559.6h0M827.3 1557.7h0M829.1 1557.4h0M830.9 1559.5h0M832.6 1554.8h0M834.4 1552.9h0M836.2 1554.5h0M837.9 1554.5h0M839.7 1552.7h0M841.5 1548.3h0M843.2 1553.4h0M845 1546.8h0M846.8 1545.5h0M848.5 1552h0M850.3 1552.6h0M852.1 1547.6h0M853.8 1545.6h0M855.6 1550.2h0M857.4 1543h0M859.1 1545.4h0M860.9 1543.4h0M862.7 1545.4h0M864.4 1544h0M866.2 1540.8h0M868 1544.4h0M869.7 1542.8h0M871.5 1540.4h0M873.3 1538.9h0M875 1538.7h0M876.8 1535.2h0M878.6 1536.7h0M880.3 1535.9h0M882.1 1536.9h0M883.9 1534.3h0M885.6 1533h0M887.4 1533.6h0M889.2 1534.2h0M890.9 1532.4h0M892.7 1529.9h0M894.5 1528.2h0M896.2 1531.1h0M898 1527.1h0M899.8 1523.4h0M901.6 1525.3h0M903.3 1520h0M905.1 1521.5h0M906.9 1522.9h0M908.6 1520h0M910.4 1518.6h0M912.2 1519.6h0M913.9 1519.4h0M915.7 1514h0M917.5 1512.5h0M919.2 1512.3h0M921 1510.4h0M922.8 1512.5h0M924.5 1512h0M926.3 1509.2h0M928.1 1506.3h0M929.8 1504.2h0M931.6 1505.8h0M933.4 1503.4h0M935.1 1504.5h0M936.9 1500.1h0M938.7 1500.1h0M940.4 1499.1h0M942.2 1500.4h0M944 1498.6h0M945.7 1496.6h0M947.5 1494.7h0M949.3 1494.2h0M951 1488.3h0M952.8 1491.7h0M954.6 1488.2h0M956.3 1489.7h0M958.1 1487.2h0M959.9 1486.1h0M961.6 1481.3h0M963.4 1485.2h0M965.2 1480.2h0M967 1478h0M968.7 1475h0M970.5 1474.8h0M972.3 1469.2h0M974 1473.1h0M975.8 1470.2h0M977.6 1467.8h0M979.3 1468.5h0M981.1 1465.6h0M982.9 1464h0M984.6 1461h0M986.4 1460.7h0M988.2 1456.8h0M989.9 1455.1h0M991.7 1455.2h0M993.5 1452.2h0M995.2 1449.2h0M997 1448.9h0M998.8 1444.4h0M1000.5 1447.1h0M1002.3 1441.5h0M1004.1 1439.3h0M1005.8 1440.4h0M1007.6 1434.2h0M1009.4 1431.1h0M1011.1 1431.9h0M1012.9 1429.4h0M1014.7 1428.9h0M1016.4 1425.4h0M1018.2 1421.3h0M1020 1421.3h0M1021.7 1418.8h0M1023.5 1418.5h0M1025.3 1415.2h0M1027 1411.7h0M1028.8 1409.9h0M1030.6 1408.6h0M1032.4 1405.8h0M1034.1 1404h0M1035.9 1401.3h0M1037.7 1396.9h0M1039.4 1395.6h0M1041.2 1393.5h0M1043 1388.7h0M1044.7 1385.7h0M1046.5 1384.9h0M1048.3 1381.4h0M1050 1378.1h0M1051.8 1375.2h0M1053.6 1369.6h0M1055.3 1364.9h0M1057.1 1361.7h0M1058.9 1356.2h0M1060.6 1351.9h0M1062.4 1346h0M1064.2 1338h0M1065.9 1330.6h0M1067.7 1321.8h0M1069.5 1312.9h0M1071.2 1302.5h0M1073 1293.2h0M1074.8 1279.4h0M1076.5 1268.1h0M1078.3 1256h0M1080.1 1243.7h0M1081.8 1231.4h0M1083.6 1219.1h0M1085.4 1209.6h0M1087.1 1198.3h0M1088.9 1187.6h0M1090.7 1177.6h0M1092.4 1169.5h0M1094.2 1163.1h0M1096 1158.3h0M1097.8 1154.3h0M1099.5 1154.2h0M1101.3 1157.7h0M1103.1 1162.9h0M1104.8 1173.1h0M1106.6 1192.4h0M1108.4 1209.8h0M1110.1 1228.6h0M1111.9 1251.5h0M1113.7 1269.1h0M1115.4 1287.1h0M1117.2 1304.6h0M1119 1318h0M1120.7 1325.7h0M1122.5 1332.7h0M1124.3 1341.4h0M1126 1347.4h0M1127.8 1351.3h0M1129.6 1356.7h0M1131.3 1362.5h0M1133.1 1365.1h0M1134.9 1368h0M1136.6 1371.1h0M1138.4 1374.7h0M1140.2 1379.2h0M1141.9 1382.8h0M1143.7 1384.7h0M1145.5 1387.1h0M1147.2 1390.4h0M1149 1392.2h0M1150.8 1397.3h0M1152.5 1399.3h0M1154.3 1402.9h0M1156.1 1406.5h0M1157.8 1407.8h0M1159.6 1408.1h0M1161.4 1410.4h0M1163.1 1411.7h0M1164.9 1413.1h0M1166.7 1420.4h0M1168.5 1420.9h0M1170.2 1421.1h0M1172 1426.3h0M1173.8 1425.2h0M1175.5 1430h0M1177.3 1432.7h0M1179.1 1434h0M1180.8 1436.4h0M1182.6 1440.4h0M1184.4 1440.8h0M1186.1 1445.2h0M1187.9 1443.1h0M1189.7 1447h0M1191.4 1451.9h0M1193.2 1449.9h0M1195 1451.8h0M1196.7 1455.1h0M1198.5 1456.2h0M1200.3 1459h0M1202 1462h0M1203.8 1463h0M1205.6 1464.2h0M1207.3 1464.9h0M1209.1 1467.5h0M1210.9 1470.3h0M1212.6 1469h0M1214.4 1471.2h0M1216.2 1471.6h0M1217.9 1474.8h0M1219.7 1476.5h0M1221.5 1476.7h0M1223.2 1477.1h0M1225 1478.9h0M1226.8 1482.6h0M1228.5 1481.8h0M1230.3 1485.5h0M1232.1 1484.3h0M1233.9 1485.3h0M1235.6 1489.4h0M1237.4 1488h0M1239.2 1492.8h0M1240.9 1488.2h0M1242.7 1493.6h0M1244.5 1494h0M1246.2 1495.7h0M1248 1498.3h0M1249.8 1495.4h0M1251.5 1504.6h0M1253.3 1501h0M1255.1 1507.9h0M1256.8 1506.1h0M1258.6 1506.2h0M1260.4 1504h0M1262.1 1511.7h0M1263.9 1510.8h0M1265.7 1513.1h0M1267.4 1508.8h0M1269.2 1509.5h0M1271 1513.5h0M1272.7 1516.5h0M1274.5 1518.2h0M1276.3 1520.3h0M1278 1517h0M1279.8 1517.1h0M1281.6 1522.6h0M1283.3 1519.9h0M1285.1 1523h0M1286.9 1528.5h0M1288.6 1524.1h0M1290.4 1526.8h0M1292.2 1527.5h0M1293.9 1527.8h0M1295.7 1529.4h0M1297.5 1530.5h0M1299.2 1530.3h0M1301 1534.3h0M1302.8 1533.8h0M1304.6 1530.1h0M1306.3 1536.4h0M1308.1 1534.1h0M1309.9 1534.2h0M1311.6 1533.5h0M1313.4 1537.8h0M1315.2 1536.7h0M1316.9 1535.7h0M1318.7 1536.4h0M1320.5 1541.8h0M1322.2 1539.3h0M1324 1539.9h0M1325.8 1547.7h0M1327.5 1543.4h0M1329.3 1545.1h0M1331.1 1544.7h0M1332.8 1545.2h0M1334.6 1543.8h0M1336.4 1548.7h0M1338.1 1548.5h0M1339.9 1546.6h0M1341.7 1549.2h0M1343.4 1554.6h0M1345.2 1551.8h0M1347 1552h0M1348.7 1551h0M1350.5 1551.9h0M1352.3 1555.4h0M1354 1556.9h0M1355.8 1555.9h0M1357.6 1558.4h0M1359.3 1554.7h0M1361.1 1556.4h0M1362.9 1559h0M1364.6 1561.8h0M1366.4 1558.2h0M1368.2 1562.6h0M1370 1558h0M1371.7 1564.3h0M1373.5 1565.4h0M1375.3 1561.9h0M1377 1564.3h0M1378.8 1566h0M1380.6 1563h0M1382.3 1564.4h0M1384.1 1565h0M1385.9 1568.4h0M1387.6 1570.1h0M1389.4 1566h0M1391.2 1567.2h0M1392.9 1571.7h0M1394.7 1569h0M1396.5 1571h0M1398.2 1574.5h0M1400 1573.3h0" stroke="#800000" stroke-width="4.0" stroke-linecap="round" fill="none"/>
<polyline points="795.5,1507.2 797.3,1505.7 799,1504.9 800.8,1503.8 802.6,1501.8 804.3,1502.8 806.1,1500.9 807.9,1502.5 809.6,1501.8 811.4,1500.8 813.2,1500.7 814.9,1500.9 816.7,1496.8 818.5,1497.5 820.2,1497.5 822,1495.9 823.8,1495.2 825.5,1495.5 827.3,1494.2 829.1,1491.8 830.9,1493.4 832.6,1490.7 834.4,1490.8 836.2,1490.3 837.9,1487.6 839.7,1489.6 841.5,1488 843.2,1486.9 845,1486.5 846.8,1484.9 848.5,1484.8 850.3,1484 852.1,1480.9 853.8,1481 855.6,1481.9 857.4,1479.6 859.1,1480.1 860.9,1478.8 862.7,1478.8 864.4,1476.1 866.2,1476.8 868,1476 869.7,1475.5 871.5,1474.7 873.3,1473.9 875,1473.4 876.8,1472.7 878.6,1471.1 880.3,1471.9 882.1,1470 883.9,1468.7 885.6,1468.9 887.4,1466.5 889.2,1467.5 890.9,1465.6 892.7,1465 894.5,1464.1 896.2,1463.5 898,1461.7 899.8,1460.9 901.6,1460.5 903.3,1458.9 905.1,1458.3 906.9,1457.2 908.6,1456 910.4,1454.7 912.2,1453.6 913.9,1452.9 915.7,1451.3 917.5,1450.3 919.2,1451.9 921,1449 922.8,1448.6 924.5,1447.1 926.3,1446.4 928.1,1445 929.8,1444.6 931.6,1443 933.4,1442.1 935.1,1440.1 936.9,1440.5 938.7,1438.7 940.4,1437.8 942.2,1437.1 944,1435.9 945.7,1434.7 947.5,1434.4 949.3,1432 951,1430.1 952.8,1430.1 954.6,1427.7 956.3,1427.8 958.1,1427.5 959.9,1426.5 961.6,1423.6 963.4,1423.2 965.2,1420.9 967,1420.4 968.7,1419.7 970.5,1417.1 972.3,1416.9 974,1414.6 975.8,1414.5 977.6,1411.1 979.3,1409.4 981.1,1409.1 982.9,1407.2 984.6,1405.4 986.4,1403 988.2,1401.9 989.9,1399.8 991.7,1399.3 993.5,1397 995.2,1394.6 997,1392.7 998.8,1390.6 1000.5,1389.3 1002.3,1387.8 1004.1,1386.2 1005.8,1384.8 1007.6,1382.1 1009.4,1381.2 1011.1,1377.7 1012.9,1376.9 1014.7,1375.4 1016.4,1373 1018.2,1371.5 1020,1369.9 1021.7,1367.4 1023.5,1365.9 1025.3,1364.4 1027,1361.4 1028.8,1360.5 1030.6,1358 1032.4,1355.3 1034.1,1353.9 1035.9,1351.6 1037.7,1348.6 1039.4,1346 1041.2,1343.1 1043,1339.9 1044.7,1337 1046.5,1334.4 1048.3,1331.4 1050,1328.1 1051.8,1324.1 1053.6,1320.8 1055.3,1317.5 1057.1,1314.2 1058.9,1309.8 1060.6,1306 1062.4,1301.1 1064.2,1296.4 1065.9,1290.8 1067.7,1284.6 1069.5,1275.3 1071.2,1266.6 1073,1256.9 1074.8,1247.5 1076.5,1238.6 1078.3,1229.3 1080.1,1219.9 1081.8,1210.3 1083.6,1201.2 1085.4,1192.8 1087.1,1184.3 1088.9,1176.3 1090.7,1169.4 1092.4,1163.2 1094.2,1158.3 1096,1155.1 1097.8,1153.9 1099.5,1155.7 1101.3,1160.2 1103.1,1170.8 1104.8,1180.6 1106.6,1190.1 1108.4,1203.2 1110.1,1221.2 1111.9,1238.5 1113.7,1253.6 1115.4,1264 1117.2,1274.4 1119,1282.4 1120.7,1290.7 1122.5,1296.1 1124.3,1301 1126,1303.9 1127.8,1307.8 1129.6,1311.4 1131.3,1314.8 1133.1,1317.9 1134.9,1322.4 1136.6,1325.1 1138.4,1328.2 1140.2,1330.4 1141.9,1334.1 1143.7,1337.6 1145.5,1339.4 1147.2,1342.3 1149,1344 1150.8,1347.5 1152.5,1349.6 1154.3,1352.1 1156.1,1354.7 1157.8,1356.9 1159.6,1359.8 1161.4,1361.8 1163.1,1364 1164.9,1366.1 1166.7,1368.4 1168.5,1371.7 1170.2,1374 1172,1375.4 1173.8,1377.4 1175.5,1379 1177.3,1381.2 1179.1,1383.6 1180.8,1384.6 1182.6,1385.8 1184.4,1388.3 1186.1,1389.7 1187.9,1389.9 1189.7,1392.2 1191.4,1394.7 1193.2,1395.8 1195,1397.1 1196.7,1398.9 1198.5,1399.6 1200.3,1401.1 1202,1403.2 1203.8,1404.8 1205.6,1407.1 1207.3,1407.5 1209.1,1409.1 1210.9,1411.2 1212.6,1411.2 1214.4,1412.7 1216.2,1414.2 1217.9,1415.6 1219.7,1416.8 1221.5,1418.3 1223.2,1418.4 1225,1419.6 1226.8,1421.5 1228.5,1421.8 1230.3,1425 1232.1,1424.7 1233.9,1426.1 1235.6,1428 1237.4,1429 1239.2,1430.4 1240.9,1431.2 1242.7,1431.6 1244.5,1433.5 1246.2,1434.4 1248,1434.9 1249.8,1437 1251.5,1439 1253.3,1438.9 1255.1,1440.2 1256.8,1441.3 1258.6,1443.5 1260.4,1442.7 1262.1,1445.6 1263.9,1446.4 1265.7,1447.4 1267.4,1447.9 1269.2,1449.5 1271,1452.1 1272.7,1451.9 1274.5,1452.5 1276.3,1454.4 1278,1454 1279.8,1456.7 1281.6,1456.8 1283.3,1459.7 1285.1,1460.4 1286.9,1460.2 1288.6,1461.1 1290.4,1461.5 1292.2,1463.2 1293.9,1464.3 1295.7,1463.7 1297.5,1464.6 1299.2,1467.1 1301,1467.2 1302.8,1468.7 1304.6,1469.7 1306.3,1470.7 1308.1,1471.3 1309.9,1472.9 1311.6,1474.5 1313.4,1475.5 1315.2,1474.9 1316.9,1476.1 1318.7,1476.9 1320.5,1476.5 1322.2,1477.3 1324,1479.2 1325.8,1480.5 1327.5,1481.5 1329.3,1481.2 1331.1,1483 1332.8,1483.1 1334.6,1483.7 1336.4,1485.6 1338.1,1484.2 1339.9,1484.4 1341.7,1488.7 1343.4,1487.8 1345.2,1489.3 1347,1489.3 1348.7,1489.6 1350.5,1490 1352.3,1490.2 1354,1492.6 1355.8,1492.3 1357.6,1493.7 1359.3,1494.8 1361.1,1495.2 1362.9,1495.9 1364.6,1497.8 1366.4,1497.4 1368.2,1498 1370,1498.2 1371.7,1500.2 1373.5,1500.6 1375.3,1499.6 1377,1501 1378.8,1501.1 1380.6,1501.4 1382.3,1501.6 1384.1,1504.5 1385.9,1504 1387.6,1502.2 1389.4,1505.6 1391.2,1506.8 1392.9,1505.9 1394.7,1506.3 1396.5,1507.1 1398.2,1508.3 1400,1507.6" fill="none" stroke="#7000ff" stroke-width="0.9" stroke-linejoin="round"/>
<path d="M795.5 1507.2h0M797.3 1505.7h0M799 1504.9h0M800.8 1503.8h0M802.6 1501.8h0M804.3 1502.8h0M806.1 1500.9h0M807.9 1502.5h0M809.6 1501.8h0M811.4 1500.8h0M813.2 1500.7h0M814.9 1500.9h0M816.7 1496.8h0M818.5 1497.5h0M820.2 1497.5h0M822 1495.9h0M823.8 1495.2h0M825.5 1495.5h0M827.3 1494.2h0M829.1 1491.8h0M830.9 1493.4h0M832.6 1490.7h0M834.4 1490.8h0M836.2 1490.3h0M837.9 1487.6h0M839.7 1489.6h0M841.5 1488h0M843.2 1486.9h0M845 1486.5h0M846.8 1484.9h0M848.5 1484.8h0M850.3 1484h0M852.1 1480.9h0M853.8 1481h0M855.6 1481.9h0M857.4 1479.6h0M859.1 1480.1h0M860.9 1478.8h0M862.7 1478.8h0M864.4 1476.1h0M866.2 1476.8h0M868 1476h0M869.7 1475.5h0M871.5 1474.7h0M873.3 1473.9h0M875 1473.4h0M876.8 1472.7h0M878.6 1471.1h0M880.3 1471.9h0M882.1 1470h0M883.9 1468.7h0M885.6 1468.9h0M887.4 1466.5h0M889.2 1467.5h0M890.9 1465.6h0M892.7 1465h0M894.5 1464.1h0M896.2 1463.5h0M898 1461.7h0M899.8 1460.9h0M901.6 1460.5h0M903.3 1458.9h0M905.1 1458.3h0M906.9 1457.2h0M908.6 1456h0M910.4 1454.7h0M912.2 1453.6h0M913.9 1452.9h0M915.7 1451.3h0M917.5 1450.3h0M919.2 1451.9h0M921 1449h0M922.8 1448.6h0M924.5 1447.1h0M926.3 1446.4h0M928.1 1445h0M929.8 1444.6h0M931.6 1443h0M933.4 1442.1h0M935.1 1440.1h0M936.9 1440.5h0M938.7 1438.7h0M940.4 1437.8h0M942.2 1437.1h0M944 1435.9h0M945.7 1434.7h0M947.5 1434.4h0M949.3 1432h0M951 1430.1h0M952.8 1430.1h0M954.6 1427.7h0M956.3 1427.8h0M958.1 1427.5h0M959.9 1426.5h0M961.6 1423.6h0M963.4 1423.2h0M965.2 1420.9h0M967 1420.4h0M968.7 1419.7h0M970.5 1417.1h0M972.3 1416.9h0M974 1414.6h0M975.8 1414.5h0M977.6 1411.1h0M979.3 1409.4h0M981.1 1409.1h0M982.9 1407.2h0M984.6 1405.4h0M986.4 1403h0M988.2 1401.9h0M989.9 1399.8h0M991.7 1399.3h0M993.5 1397h0M995.2 1394.6h0M997 1392.7h0M998.8 1390.6h0M1000.5 1389.3h0M1002.3 1387.8h0M1004.1 1386.2h0M1005.8 1384.8h0M1007.6 1382.1h0M1009.4 1381.2h0M1011.1 1377.7h0M1012.9 1376.9h0M1014.7 1375.4h0M1016.4 1373h0M1018.2 1371.5h0M1020 1369.9h0M1021.7 1367.4h0M1023.5 1365.9h0M1025.3 1364.4h0M1027 1361.4h0M1028.8 1360.5h0M1030.6 1358h0M1032.4 1355.3h0M1034.1 1353.9h0M1035.9 1351.6h0M1037.7 1348.6h0M1039.4 1346h0M1041.2 1343.1h0M1043 1339.9h0M1044.7 1337h0M1046.5 1334.4h0M1048.3 1331.4h0M1050 1328.1h0M1051.8 1324.1h0M1053.6 1320.8h0M1055.3 1317.5h0M1057.1 1314.2h0M1058.9 1309.8h0M1060.6 1306h0M1062.4 1301.1h0M1064.2 1296.4h0M1065.9 1290.8h0M1067.7 1284.6h0M1069.5 1275.3h0M1071.2 1266.6h0M1073 1256.9h0M1074.8 1247.5h0M1076.5 1238.6h0M1078.3 1229.3h0M1080.1 1219.9h0M1081.8 1210.3h0M1083.6 1201.2h0M1085.4 1192.8h0M1087.1 1184.3h0M1088.9 1176.3h0M1090.7 1169.4h0M1092.4 1163.2h0M1094.2 1158.3h0M1096 1155.1h0M1097.8 1153.9h0M1099.5 1155.7h0M1101.3 1160.2h0M1103.1 1170.8h0M1104.8 1180.6h0M1106.6 1190.1h0M1108.4 1203.2h0M1110.1 1221.2h0M1111.9 1238.5h0M1113.7 1253.6h0M1115.4 1264h0M1117.2 1274.4h0M1119 1282.4h0M1120.7 1290.7h0M1122.5 1296.1h0M1124.3 1301h0M1126 1303.9h0M1127.8 1307.8h0M1129.6 1311.4h0M1131.3 1314.8h0M1133.1 1317.9h0M1134.9 1322.4h0M1136.6 1325.1h0M1138.4 1328.2h0M1140.2 1330.4h0M1141.9 1334.1h0M1143.7 1337.6h0M1145.5 1339.4h0M1147.2 1342.3h0M1149 1344h0M1150.8 1347.5h0M1152.5 1349.6h0M1154.3 1352.1h0M1156.1 1354.7h0M1157.8 1356.9h0M1159.6 1359.8h0M1161.4 1361.8h0M1163.1 1364h0M1164.9 1366.1h0M1166.7 1368.4h0M1168.5 1371.7h0M1170.2 1374h0M1172 1375.4h0M1173.8 1377.4h0M1175.5 1379h0M1177.3 1381.2h0M1179.1 1383.6h0M1180.8 1384.6h0M1182.6 1385.8h0M1184.4 1388.3h0M1186.1 1389.7h0M1187.9 1389.9h0M1189.7 1392.2h0M1191.4 1394.7h0M1193.2 1395.8h0M1195 1397.1h0M1196.7 1398.9h0M1198.5 1399.6h0M1200.3 1401.1h0M1202 1403.2h0M1203.8 1404.8h0M1205.6 1407.1h0M1207.3 1407.5h0M1209.1 1409.1h0M1210.9 1411.2h0M1212.6 1411.2h0M1214.4 1412.7h0M1216.2 1414.2h0M1217.9 1415.6h0M1219.7 1416.8h0M1221.5 1418.3h0M1223.2 1418.4h0M1225 1419.6h0M1226.8 1421.5h0M1228.5 1421.8h0M1230.3 1425h0M1232.1 1424.7h0M1233.9 1426.1h0M1235.6 1428h0M1237.4 1429h0M1239.2 1430.4h0M1240.9 1431.2h0M1242.7 1431.6h0M1244.5 1433.5h0M1246.2 1434.4h0M1248 1434.9h0M1249.8 1437h0M1251.5 1439h0M1253.3 1438.9h0M1255.1 1440.2h0M1256.8 1441.3h0M1258.6 1443.5h0M1260.4 1442.7h0M1262.1 1445.6h0M1263.9 1446.4h0M1265.7 1447.4h0M1267.4 1447.9h0M1269.2 1449.5h0M1271 1452.1h0M1272.7 1451.9h0M1274.5 1452.5h0M1276.3 1454.4h0M1278 1454h0M1279.8 1456.7h0M1281.6 1456.8h0M1283.3 1459.7h0M1285.1 1460.4h0M1286.9 1460.2h0M1288.6 1461.1h0M1290.4 1461.5h0M1292.2 1463.2h0M1293.9 1464.3h0M1295.7 1463.7h0M1297.5 1464.6h0M1299.2 1467.1h0M1301 1467.2h0M1302.8 1468.7h0M1304.6 1469.7h0M1306.3 1470.7h0M1308.1 1471.3h0M1309.9 1472.9h0M1311.6 1474.5h0M1313.4 1475.5h0M1315.2 1474.9h0M1316.9 1476.1h0M1318.7 1476.9h0M1320.5 1476.5h0M1322.2 1477.3h0M1324 1479.2h0M1325.8 1480.5h0M1327.5 1481.5h0M1329.3 1481.2h0M1331.1 1483h0M1332.8 1483.1h0M1334.6 1483.7h0M1336.4 1485.6h0M1338.1 1484.2h0M1339.9 1484.4h0M1341.7 1488.7h0M1343.4 1487.8h0M1345.2 1489.3h0M1347 1489.3h0M1348.7 1489.6h0M1350.5 1490h0M1352.3 1490.2h0M1354 1492.6h0M1355.8 1492.3h0M1357.6 1493.7h0M1359.3 1494.8h0M1361.1 1495.2h0M1362.9 1495.9h0M1364.6 1497.8h0M1366.4 1497.4h0M1368.2 1498h0M1370 1498.2h0M1371.7 1500.2h0M1373.5 1500.6h0M1375.3 1499.6h0M1377 1501h0M1378.8 1501.1h0M1380.6 1501.4h0M1382.3 1501.6h0M1384.1 1504.5h0M1385.9 1504h0M1387.6 1502.2h0M1389.4 1505.6h0M1391.2 1506.8h0M1392.9 1505.9h0M1394.7 1506.3h0M1396.5 1507.1h0M1398.2 1508.3h0M1400 1507.6h0" stroke="#7000ff" stroke-width="4.0" stroke-linecap="round" fill="none"/>
<polyline points="795.5,1509.2 797.3,1506.9 799,1508.7 800.8,1506 802.6,1506 804.3,1506.1 806.1,1505.9 807.9,1503.7 809.6,1503.1 811.4,1504.3 813.2,1501.7 814.9,1500.8 816.7,1500.4 818.5,1500.7 820.2,1500 822,1499.5 823.8,1498.2 825.5,1496.7 827.3,1496.7 829.1,1496.1 830.9,1493.7 832.6,1493.4 834.4,1493.1 836.2,1493.7 837.9,1491.2 839.7,1490.8 841.5,1489.9 843.2,1489.4 845,1488.8 846.8,1486.7 848.5,1484.6 850.3,1486.6 852.1,1483.5 853.8,1484.7 855.6,1484 857.4,1483.5 859.1,1481.3 860.9,1481.7 862.7,1481.2 864.4,1480.5 866.2,1480.2 868,1477.7 869.7,1477.3 871.5,1476.8 873.3,1476.2 875,1476.3 876.8,1475.4 878.6,1474.1 880.3,1474.6 882.1,1472.9 883.9,1470.7 885.6,1471.8 887.4,1469 889.2,1468.1 890.9,1467.9 892.7,1467 894.5,1466.4 896.2,1465.5 898,1464 899.8,1463.1 901.6,1463.2 903.3,1461.9 905.1,1460.5 906.9,1459.1 908.6,1458.7 910.4,1456.9 912.2,1455.7 913.9,1456.3 915.7,1455 917.5,1453.2 919.2,1453.5 921,1451.3 922.8,1450.8 924.5,1449.6 926.3,1448.3 928.1,1447.3 929.8,1447.3 931.6,1445.9 933.4,1443 935.1,1443.6 936.9,1440.7 938.7,1440.5 940.4,1440.5 942.2,1438.4 944,1438.9 945.7,1436.8 947.5,1436.3 949.3,1435 951,1434.2 952.8,1433.4 954.6,1430.4 956.3,1430.2 958.1,1429.1 959.9,1428.4 961.6,1426.8 963.4,1425 965.2,1423 967,1421.5 968.7,1420.5 970.5,1419.7 972.3,1418.3 974,1417.5 975.8,1415.3 977.6,1414.1 979.3,1411.2 981.1,1410.6 982.9,1408.5 984.6,1406.9 986.4,1406.3 988.2,1403.9 989.9,1402.1 991.7,1400.5 993.5,1398 995.2,1396.1 997,1396.3 998.8,1393.4 1000.5,1391.6 1002.3,1389.9 1004.1,1387.7 1005.8,1386 1007.6,1383.9 1009.4,1382.7 1011.1,1380.6 1012.9,1379.4 1014.7,1377.8 1016.4,1374.6 1018.2,1373.6 1020,1371.2 1021.7,1370.6 1023.5,1367.7 1025.3,1366.2 1027,1363.5 1028.8,1362.4 1030.6,1359.5 1032.4,1357.2 1034.1,1354.4 1035.9,1353.1 1037.7,1350.2 1039.4,1347.6 1041.2,1344.1 1043,1341.6 1044.7,1338.6 1046.5,1335.2 1048.3,1333.6 1050,1330.6 1051.8,1326.5 1053.6,1323.1 1055.3,1319.5 1057.1,1315.6 1058.9,1310.9 1060.6,1307 1062.4,1303.1 1064.2,1297.6 1065.9,1292.3 1067.7,1285.3 1069.5,1276.9 1071.2,1267 1073,1258.2 1074.8,1249.1 1076.5,1239.5 1078.3,1230.1 1080.1,1220.7 1081.8,1211.3 1083.6,1202 1085.4,1193.4 1087.1,1185.9 1088.9,1177.3 1090.7,1169.2 1092.4,1163.6 1094.2,1158.6 1096,1155.2 1097.8,1153.5 1099.5,1155.5 1101.3,1160.3 1103.1,1171.1 1104.8,1180.7 1106.6,1190.8 1108.4,1203.7 1110.1,1222 1111.9,1239.4 1113.7,1254.7 1115.4,1266.1 1117.2,1275.8 1119,1284.6 1120.7,1291.6 1122.5,1296.8 1124.3,1302.3 1126,1304.9 1127.8,1309.2 1129.6,1313.3 1131.3,1317 1133.1,1320.5 1134.9,1323.5 1136.6,1327.6 1138.4,1330.4 1140.2,1332 1141.9,1335.3 1143.7,1337.8 1145.5,1341.7 1147.2,1343.5 1149,1345.5 1150.8,1348.7 1152.5,1350.7 1154.3,1353.9 1156.1,1356.7 1157.8,1358.3 1159.6,1361.4 1161.4,1363.8 1163.1,1365.7 1164.9,1368.7 1166.7,1370.5 1168.5,1373.4 1170.2,1375.2 1172,1377.1 1173.8,1380.1 1175.5,1381.8 1177.3,1382.9 1179.1,1383.3 1180.8,1386.6 1182.6,1387.8 1184.4,1389.9 1186.1,1391.2 1187.9,1392.6 1189.7,1394.2 1191.4,1396.7 1193.2,1398.4 1195,1399.8 1196.7,1400 1198.5,1402 1200.3,1403.8 1202,1404.1 1203.8,1407.3 1205.6,1407.5 1207.3,1410.1 1209.1,1410.6 1210.9,1412.5 1212.6,1412.5 1214.4,1413.3 1216.2,1415.7 1217.9,1416.5 1219.7,1417.8 1221.5,1419.6 1223.2,1421.3 1225,1422.9 1226.8,1423 1228.5,1423.8 1230.3,1425.9 1232.1,1426.5 1233.9,1427.6 1235.6,1429.3 1237.4,1431.6 1239.2,1432.2 1240.9,1431.8 1242.7,1435.8 1244.5,1434.7 1246.2,1436.9 1248,1437.5 1249.8,1439.9 1251.5,1440.7 1253.3,1442.4 1255.1,1442.9 1256.8,1443.8 1258.6,1445.9 1260.4,1444.9 1262.1,1446.5 1263.9,1447.5 1265.7,1449.5 1267.4,1450.4 1269.2,1451.2 1271,1453.4 1272.7,1454.3 1274.5,1454.6 1276.3,1455 1278,1458.6 1279.8,1458.3 1281.6,1458.6 1283.3,1460.2 1285.1,1461.3 1286.9,1461.5 1288.6,1463.6 1290.4,1464.1 1292.2,1464.6 1293.9,1466.8 1295.7,1466.6 1297.5,1469 1299.2,1469.1 1301,1469.7 1302.8,1471.8 1304.6,1471.6 1306.3,1473.3 1308.1,1474.9 1309.9,1474.5 1311.6,1475.2 1313.4,1477.2 1315.2,1478.3 1316.9,1476.6 1318.7,1479.6 1320.5,1481 1322.2,1480.5 1324,1482.5 1325.8,1482.3 1327.5,1482.8 1329.3,1483.8 1331.1,1485.5 1332.8,1485.3 1334.6,1486 1336.4,1487.2 1338.1,1488.7 1339.9,1487 1341.7,1490.5 1343.4,1491.5 1345.2,1490.2 1347,1491.8 1348.7,1493 1350.5,1493.5 1352.3,1495.8 1354,1495 1355.8,1495.1 1357.6,1496 1359.3,1497.3 1361.1,1497 1362.9,1497.8 1364.6,1498.5 1366.4,1501.1 1368.2,1500.8 1370,1499.8 1371.7,1501.9 1373.5,1499.7 1375.3,1502.6 1377,1503.7 1378.8,1504.1 1380.6,1504.8 1382.3,1505.1 1384.1,1504.8 1385.9,1505.8 1387.6,1506.4 1389.4,1505.8 1391.2,1507.8 1392.9,1507.4 1394.7,1509.5 1396.5,1511.6 1398.2,1512 1400,1512.9" fill="none" stroke="#00c8d8" stroke-width="0.9" stroke-linejoin="round"/>
<path d="M795.5 1509.2h0M797.3 1506.9h0M799 1508.7h0M800.8 1506h0M802.6 1506h0M804.3 1506.1h0M806.1 1505.9h0M807.9 1503.7h0M809.6 1503.1h0M811.4 1504.3h0M813.2 1501.7h0M814.9 1500.8h0M816.7 1500.4h0M818.5 1500.7h0M820.2 1500h0M822 1499.5h0M823.8 1498.2h0M825.5 1496.7h0M827.3 1496.7h0M829.1 1496.1h0M830.9 1493.7h0M832.6 1493.4h0M834.4 1493.1h0M836.2 1493.7h0M837.9 1491.2h0M839.7 1490.8h0M841.5 1489.9h0M843.2 1489.4h0M845 1488.8h0M846.8 1486.7h0M848.5 1484.6h0M850.3 1486.6h0M852.1 1483.5h0M853.8 1484.7h0M855.6 1484h0M857.4 1483.5h0M859.1 1481.3h0M860.9 1481.7h0M862.7 1481.2h0M864.4 1480.5h0M866.2 1480.2h0M868 1477.7h0M869.7 1477.3h0M871.5 1476.8h0M873.3 1476.2h0M875 1476.3h0M876.8 1475.4h0M878.6 1474.1h0M880.3 1474.6h0M882.1 1472.9h0M883.9 1470.7h0M885.6 1471.8h0M887.4 1469h0M889.2 1468.1h0M890.9 1467.9h0M892.7 1467h0M894.5 1466.4h0M896.2 1465.5h0M898 1464h0M899.8 1463.1h0M901.6 1463.2h0M903.3 1461.9h0M905.1 1460.5h0M906.9 1459.1h0M908.6 1458.7h0M910.4 1456.9h0M912.2 1455.7h0M913.9 1456.3h0M915.7 1455h0M917.5 1453.2h0M919.2 1453.5h0M921 1451.3h0M922.8 1450.8h0M924.5 1449.6h0M926.3 1448.3h0M928.1 1447.3h0M929.8 1447.3h0M931.6 1445.9h0M933.4 1443h0M935.1 1443.6h0M936.9 1440.7h0M938.7 1440.5h0M940.4 1440.5h0M942.2 1438.4h0M944 1438.9h0M945.7 1436.8h0M947.5 1436.3h0M949.3 1435h0M951 1434.2h0M952.8 1433.4h0M954.6 1430.4h0M956.3 1430.2h0M958.1 1429.1h0M959.9 1428.4h0M961.6 1426.8h0M963.4 1425h0M965.2 1423h0M967 1421.5h0M968.7 1420.5h0M970.5 1419.7h0M972.3 1418.3h0M974 1417.5h0M975.8 1415.3h0M977.6 1414.1h0M979.3 1411.2h0M981.1 1410.6h0M982.9 1408.5h0M984.6 1406.9h0M986.4 1406.3h0M988.2 1403.9h0M989.9 1402.1h0M991.7 1400.5h0M993.5 1398h0M995.2 1396.1h0M997 1396.3h0M998.8 1393.4h0M1000.5 1391.6h0M1002.3 1389.9h0M1004.1 1387.7h0M1005.8 1386h0M1007.6 1383.9h0M1009.4 1382.7h0M1011.1 1380.6h0M1012.9 1379.4h0M1014.7 1377.8h0M1016.4 1374.6h0M1018.2 1373.6h0M1020 1371.2h0M1021.7 1370.6h0M1023.5 1367.7h0M1025.3 1366.2h0M1027 1363.5h0M1028.8 1362.4h0M1030.6 1359.5h0M1032.4 1357.2h0M1034.1 1354.4h0M1035.9 1353.1h0M1037.7 1350.2h0M1039.4 1347.6h0M1041.2 1344.1h0M1043 1341.6h0M1044.7 1338.6h0M1046.5 1335.2h0M1048.3 1333.6h0M1050 1330.6h0M1051.8 1326.5h0M1053.6 1323.1h0M1055.3 1319.5h0M1057.1 1315.6h0M1058.9 1310.9h0M1060.6 1307h0M1062.4 1303.1h0M1064.2 1297.6h0M1065.9 1292.3h0M1067.7 1285.3h0M1069.5 1276.9h0M1071.2 1267h0M1073 1258.2h0M1074.8 1249.1h0M1076.5 1239.5h0M1078.3 1230.1h0M1080.1 1220.7h0M1081.8 1211.3h0M1083.6 1202h0M1085.4 1193.4h0M1087.1 1185.9h0M1088.9 1177.3h0M1090.7 1169.2h0M1092.4 1163.6h0M1094.2 1158.6h0M1096 1155.2h0M1097.8 1153.5h0M1099.5 1155.5h0M1101.3 1160.3h0M1103.1 1171.1h0M1104.8 1180.7h0M1106.6 1190.8h0M1108.4 1203.7h0M1110.1 1222h0M1111.9 1239.4h0M1113.7 1254.7h0M1115.4 1266.1h0M1117.2 1275.8h0M1119 1284.6h0M1120.7 1291.6h0M1122.5 1296.8h0M1124.3 1302.3h0M1126 1304.9h0M1127.8 1309.2h0M1129.6 1313.3h0M1131.3 1317h0M1133.1 1320.5h0M1134.9 1323.5h0M1136.6 1327.6h0M1138.4 1330.4h0M1140.2 1332h0M1141.9 1335.3h0M1143.7 1337.8h0M1145.5 1341.7h0M1147.2 1343.5h0M1149 1345.5h0M1150.8 1348.7h0M1152.5 1350.7h0M1154.3 1353.9h0M1156.1 1356.7h0M1157.8 1358.3h0M1159.6 1361.4h0M1161.4 1363.8h0M1163.1 1365.7h0M1164.9 1368.7h0M1166.7 1370.5h0M1168.5 1373.4h0M1170.2 1375.2h0M1172 1377.1h0M1173.8 1380.1h0M1175.5 1381.8h0M1177.3 1382.9h0M1179.1 1383.3h0M1180.8 1386.6h0M1182.6 1387.8h0M1184.4 1389.9h0M1186.1 1391.2h0M1187.9 1392.6h0M1189.7 1394.2h0M1191.4 1396.7h0M1193.2 1398.4h0M1195 1399.8h0M1196.7 1400h0M1198.5 1402h0M1200.3 1403.8h0M1202 1404.1h0M1203.8 1407.3h0M1205.6 1407.5h0M1207.3 1410.1h0M1209.1 1410.6h0M1210.9 1412.5h0M1212.6 1412.5h0M1214.4 1413.3h0M1216.2 1415.7h0M1217.9 1416.5h0M1219.7 1417.8h0M1221.5 1419.6h0M1223.2 1421.3h0M1225 1422.9h0M1226.8 1423h0M1228.5 1423.8h0M1230.3 1425.9h0M1232.1 1426.5h0M1233.9 1427.6h0M1235.6 1429.3h0M1237.4 1431.6h0M1239.2 1432.2h0M1240.9 1431.8h0M1242.7 1435.8h0M1244.5 1434.7h0M1246.2 1436.9h0M1248 1437.5h0M1249.8 1439.9h0M1251.5 1440.7h0M1253.3 1442.4h0M1255.1 1442.9h0M1256.8 1443.8h0M1258.6 1445.9h0M1260.4 1444.9h0M1262.1 1446.5h0M1263.9 1447.5h0M1265.7 1449.5h0M1267.4 1450.4h0M1269.2 1451.2h0M1271 1453.4h0M1272.7 1454.3h0M1274.5 1454.6h0M1276.3 1455h0M1278 1458.6h0M1279.8 1458.3h0M1281.6 1458.6h0M1283.3 1460.2h0M1285.1 1461.3h0M1286.9 1461.5h0M1288.6 1463.6h0M1290.4 1464.1h0M1292.2 1464.6h0M1293.9 1466.8h0M1295.7 1466.6h0M1297.5 1469h0M1299.2 1469.1h0M1301 1469.7h0M1302.8 1471.8h0M1304.6 1471.6h0M1306.3 1473.3h0M1308.1 1474.9h0M1309.9 1474.5h0M1311.6 1475.2h0M1313.4 1477.2h0M1315.2 1478.3h0M1316.9 1476.6h0M1318.7 1479.6h0M1320.5 1481h0M1322.2 1480.5h0M1324 1482.5h0M1325.8 1482.3h0M1327.5 1482.8h0M1329.3 1483.8h0M1331.1 1485.5h0M1332.8 1485.3h0M1334.6 1486h0M1336.4 1487.2h0M1338.1 1488.7h0M1339.9 1487h0M1341.7 1490.5h0M1343.4 1491.5h0M1345.2 1490.2h0M1347 1491.8h0M1348.7 1493h0M1350.5 1493.5h0M1352.3 1495.8h0M1354 1495h0M1355.8 1495.1h0M1357.6 1496h0M1359.3 1497.3h0M1361.1 1497h0M1362.9 1497.8h0M1364.6 1498.5h0M1366.4 1501.1h0M1368.2 1500.8h0M1370 1499.8h0M1371.7 1501.9h0M1373.5 1499.7h0M1375.3 1502.6h0M1377 1503.7h0M1378.8 1504.1h0M1380.6 1504.8h0M1382.3 1505.1h0M1384.1 1504.8h0M1385.9 1505.8h0M1387.6 1506.4h0M1389.4 1505.8h0M1391.2 1507.8h0M1392.9 1507.4h0M1394.7 1509.5h0M1396.5 1511.6h0M1398.2 1512h0M1400 1512.9h0" stroke="#00ffff" stroke-width="4.0" stroke-linecap="round" fill="none"/>
<polyline points="983.5,1575.5 1040,1575.5 1052,1575.2 1058.8,1572 1064,1565 1070,1554.6 1075.7,1520.9 1082.5,1431 1086.9,1359.6 1089.2,1296 1090.3,1258.4 1092.5,1201 1094.2,1168.5 1096,1154 1097.3,1150.5 1098.6,1154 1099.8,1168.5 1101.2,1206 1102.6,1258.4 1103.5,1296 1105.5,1359.6 1108,1431 1111.4,1520.9 1114,1551 1118,1566 1123.7,1574.8 1140,1575.5 1199,1575.5" fill="none" stroke="#333" stroke-width="1.0" stroke-dasharray="3,3"/>
<path d="M795.5 1577H1400" stroke="#000" stroke-width="1.9" fill="none"/>
<path d="M795.5 1576.1v9.7M949 1576.1v9.7M1099 1576.1v9.7M1249.7 1576.1v9.7M1400 1576.1v9.7M873.1 1576.1v5.3M1024 1576.1v5.3M1174.4 1576.1v5.3M1324.8 1576.1v5.3" stroke="#000" stroke-width="1.8" fill="none"/>
<text x="793" y="1611" class="tk">-1.0</text>
<text x="946.5" y="1611" class="tk">-0.5</text>
<text x="1101.5" y="1611" class="tk">0.0</text>
<text x="1252.1" y="1611" class="tk">0.5</text>
<text x="1402.4" y="1611" class="tk">1.0</text>
<text x="1100.8" y="1647" class="tk" style="font-size:29px">E (meV)</text>
<polyline points="408.8,2136.2 412.7,2134 416.7,2133.3 420.6,2129.3 424.6,2129.2 428.5,2125.7 432.4,2124.9 436.4,2122.2 440.3,2122.7 444.3,2120.4 448.2,2118.2 452.1,2114.1 456.1,2115.1 460,2111.5 464,2108.6 467.9,2108.6 471.8,2107.5 475.8,2102.8 479.7,2103.2 483.7,2100 487.6,2097.8 491.5,2096.3 495.5,2093.1 499.4,2090.3 503.4,2089.6 507.3,2083.6 511.2,2084.4 515.2,2079.7 519.1,2079.5 523,2074.7 527,2074.5 530.9,2069.1 534.9,2069.5 538.8,2065.3 542.7,2061.9 546.7,2058.6 550.6,2056.3 554.6,2051.7 558.5,2048.6 562.4,2044.3 566.4,2039.3 570.3,2037 574.3,2031.2 578.2,2026.7 582.1,2021.6 586.1,2016.1 590,2011.7 594,2005.4 597.9,1999.4 601.8,1993.3 605.8,1985.7 609.7,1976.9 613.7,1968.9 617.6,1958.5 621.5,1949.7 625.5,1939.1 629.4,1928.9 633.4,1918.3 637.3,1908.1 641.2,1898.6 645.2,1887.1 649.1,1876 653.1,1865.3 657,1854.1 660.9,1842.4 664.9,1831.7 668.8,1821 672.8,1810.1 676.7,1798.9 680.6,1787.4 684.6,1776.1 688.5,1764.3 692.5,1754 696.4,1744.5 700.3,1736.1 704.3,1729.1 708.2,1724.3 712.2,1721.4 716.1,1721.7 720,1724.5 724,1728.6 727.9,1735.5 731.8,1746.6 735.8,1760.2 739.7,1775.2 743.7,1792.8 747.6,1812.8 751.5,1834.5 755.5,1856.6 759.4,1878.7 763.4,1898.9 767.3,1917.7 771.2,1934.4 775.2,1949.4 779.1,1960.7 783.1,1968.8 787,1976.4 790.9,1982 794.9,1988.4 798.8,1993.7 802.8,1997.2 806.7,2001.7 810.6,2008.6 814.6,2013.4 818.5,2017.4 822.5,2021 826.4,2024.6 830.3,2027 834.3,2033.2 838.2,2034.2 842.2,2039.5 846.1,2042.6 850,2046.4 854,2048.5 857.9,2052 861.9,2056.1 865.8,2057.9 869.7,2061.9 873.7,2063.8 877.6,2068.1 881.6,2071.4 885.5,2074.1 889.4,2077.6 893.4,2079 897.3,2082.4 901.3,2085.3 905.2,2089.6 909.1,2090.2 913.1,2093.2 917,2096.7 920.9,2097.8 924.9,2100.5 928.8,2100.4 932.8,2104.4 936.7,2105.2 940.6,2107.5 944.6,2109.6 948.5,2108.6 952.5,2113.8 956.4,2114 960.3,2117.8 964.3,2118.1 968.2,2120.6 972.2,2120.5 976.1,2123 980,2127.6 984,2127.2 987.9,2130.4 991.9,2131.9 995.8,2132.4 999.7,2135.4 1003.7,2137.3 1007.6,2140 1011.6,2140.4 1015.5,2141.9" fill="none" stroke="#800000" stroke-width="0.9" stroke-linejoin="round"/>
<path d="M408.8 2136.2h0M412.7 2134h0M416.7 2133.3h0M420.6 2129.3h0M424.6 2129.2h0M428.5 2125.7h0M432.4 2124.9h0M436.4 2122.2h0M440.3 2122.7h0M444.3 2120.4h0M448.2 2118.2h0M452.1 2114.1h0M456.1 2115.1h0M460 2111.5h0M464 2108.6h0M467.9 2108.6h0M471.8 2107.5h0M475.8 2102.8h0M479.7 2103.2h0M483.7 2100h0M487.6 2097.8h0M491.5 2096.3h0M495.5 2093.1h0M499.4 2090.3h0M503.4 2089.6h0M507.3 2083.6h0M511.2 2084.4h0M515.2 2079.7h0M519.1 2079.5h0M523 2074.7h0M527 2074.5h0M530.9 2069.1h0M534.9 2069.5h0M538.8 2065.3h0M542.7 2061.9h0M546.7 2058.6h0M550.6 2056.3h0M554.6 2051.7h0M558.5 2048.6h0M562.4 2044.3h0M566.4 2039.3h0M570.3 2037h0M574.3 2031.2h0M578.2 2026.7h0M582.1 2021.6h0M586.1 2016.1h0M590 2011.7h0M594 2005.4h0M597.9 1999.4h0M601.8 1993.3h0M605.8 1985.7h0M609.7 1976.9h0M613.7 1968.9h0M617.6 1958.5h0M621.5 1949.7h0M625.5 1939.1h0M629.4 1928.9h0M633.4 1918.3h0M637.3 1908.1h0M641.2 1898.6h0M645.2 1887.1h0M649.1 1876h0M653.1 1865.3h0M657 1854.1h0M660.9 1842.4h0M664.9 1831.7h0M668.8 1821h0M672.8 1810.1h0M676.7 1798.9h0M680.6 1787.4h0M684.6 1776.1h0M688.5 1764.3h0M692.5 1754h0M696.4 1744.5h0M700.3 1736.1h0M704.3 1729.1h0M708.2 1724.3h0M712.2 1721.4h0M716.1 1721.7h0M720 1724.5h0M724 1728.6h0M727.9 1735.5h0M731.8 1746.6h0M735.8 1760.2h0M739.7 1775.2h0M743.7 1792.8h0M747.6 1812.8h0M751.5 1834.5h0M755.5 1856.6h0M759.4 1878.7h0M763.4 1898.9h0M767.3 1917.7h0M771.2 1934.4h0M775.2 1949.4h0M779.1 1960.7h0M783.1 1968.8h0M787 1976.4h0M790.9 1982h0M794.9 1988.4h0M798.8 1993.7h0M802.8 1997.2h0M806.7 2001.7h0M810.6 2008.6h0M814.6 2013.4h0M818.5 2017.4h0M822.5 2021h0M826.4 2024.6h0M830.3 2027h0M834.3 2033.2h0M838.2 2034.2h0M842.2 2039.5h0M846.1 2042.6h0M850 2046.4h0M854 2048.5h0M857.9 2052h0M861.9 2056.1h0M865.8 2057.9h0M869.7 2061.9h0M873.7 2063.8h0M877.6 2068.1h0M881.6 2071.4h0M885.5 2074.1h0M889.4 2077.6h0M893.4 2079h0M897.3 2082.4h0M901.3 2085.3h0M905.2 2089.6h0M909.1 2090.2h0M913.1 2093.2h0M917 2096.7h0M920.9 2097.8h0M924.9 2100.5h0M928.8 2100.4h0M932.8 2104.4h0M936.7 2105.2h0M940.6 2107.5h0M944.6 2109.6h0M948.5 2108.6h0M952.5 2113.8h0M956.4 2114h0M960.3 2117.8h0M964.3 2118.1h0M968.2 2120.6h0M972.2 2120.5h0M976.1 2123h0M980 2127.6h0M984 2127.2h0M987.9 2130.4h0M991.9 2131.9h0M995.8 2132.4h0M999.7 2135.4h0M1003.7 2137.3h0M1007.6 2140h0M1011.6 2140.4h0M1015.5 2141.9h0" stroke="#800000" stroke-width="3.6" stroke-linecap="round" fill="none"/>
<polyline points="411.6,2028.2 415.6,2026.5 419.5,2024.5 423.5,2022.5 427.4,2021.2 431.4,2019.3 435.3,2018.1 439.3,2015.9 443.3,2014 447.2,2012.2 451.2,2010.1 455.1,2008.4 459.1,2006.1 463,2004.4 467,2002.4 471,2000.2 474.9,1997.6 478.9,1995.7 482.8,1993.3 486.8,1990.8 490.7,1988.9 494.7,1986.9 498.7,1984.6 502.6,1982.4 506.6,1980.2 510.5,1978.1 514.5,1976 518.4,1973.6 522.4,1971.3 526.3,1968.6 530.3,1966 534.3,1962.9 538.2,1960.3 542.2,1957.4 546.1,1954.7 550.1,1951.8 554,1949.3 558,1945.6 562,1942.8 565.9,1939.5 569.9,1936.3 573.8,1932.8 577.8,1929.5 581.7,1925.5 585.7,1921.5 589.7,1917.6 593.6,1913.4 597.6,1908.6 601.5,1904.7 605.5,1899.3 609.4,1894.6 613.4,1889.1 617.4,1883.5 621.3,1877.6 625.3,1871.6 629.2,1865.6 633.2,1859.8 637.1,1853.2 641.1,1846.6 645.1,1839.5 649,1832.2 653,1824.9 656.9,1817.1 660.9,1809.7 664.8,1802.3 668.8,1794.9 672.8,1787.2 676.7,1778.6 680.7,1770 684.6,1763.2 688.6,1755.5 692.5,1745.7 696.5,1737.5 700.5,1731.1 704.4,1726.2 708.4,1722.7 712.3,1721 716.3,1721.5 720.2,1724.3 724.2,1727.2 728.1,1732.1 732.1,1740 736.1,1750 740,1761.6 744,1775.2 747.9,1789.3 751.9,1804.1 755.8,1819.8 759.8,1833.2 763.8,1845 767.7,1854.7 771.7,1863 775.6,1870.4 779.6,1876.5 783.5,1882.3 787.5,1887 791.5,1891.6 795.4,1895.7 799.4,1900.1 803.3,1903.7 807.3,1907.6 811.2,1911 815.2,1914.4 819.2,1917.7 823.1,1920.8 827.1,1924.3 831,1927.8 835,1930.9 838.9,1933.7 842.9,1936.8 846.9,1940.2 850.8,1943 854.8,1945.8 858.7,1948.7 862.7,1951.7 866.6,1954.4 870.6,1957.7 874.6,1961.2 878.5,1964 882.5,1966.3 886.4,1969.3 890.4,1971.8 894.3,1974 898.3,1976.4 902.3,1978.8 906.2,1981.2 910.2,1983.6 914.1,1985.5 918.1,1987.6 922,1989.6 926,1992 929.9,1994.1 933.9,1995.8 937.9,1997.7 941.8,1999.8 945.8,2001.8 949.7,2003.8 953.7,2005.6 957.6,2006.9 961.6,2008.8 965.6,2010.5 969.5,2012.4 973.5,2013.6 977.4,2015.1 981.4,2017.2 985.3,2018.7 989.3,2020.3 993.3,2022.1 997.2,2023.6 1001.2,2025.6 1005.1,2027.1 1009.1,2028.9 1013,2031.2 1017,2032.8" fill="none" stroke="#7000ff" stroke-width="0.9" stroke-linejoin="round"/>
<path d="M411.6 2028.2h0M415.6 2026.5h0M419.5 2024.5h0M423.5 2022.5h0M427.4 2021.2h0M431.4 2019.3h0M435.3 2018.1h0M439.3 2015.9h0M443.3 2014h0M447.2 2012.2h0M451.2 2010.1h0M455.1 2008.4h0M459.1 2006.1h0M463 2004.4h0M467 2002.4h0M471 2000.2h0M474.9 1997.6h0M478.9 1995.7h0M482.8 1993.3h0M486.8 1990.8h0M490.7 1988.9h0M494.7 1986.9h0M498.7 1984.6h0M502.6 1982.4h0M506.6 1980.2h0M510.5 1978.1h0M514.5 1976h0M518.4 1973.6h0M522.4 1971.3h0M526.3 1968.6h0M530.3 1966h0M534.3 1962.9h0M538.2 1960.3h0M542.2 1957.4h0M546.1 1954.7h0M550.1 1951.8h0M554 1949.3h0M558 1945.6h0M562 1942.8h0M565.9 1939.5h0M569.9 1936.3h0M573.8 1932.8h0M577.8 1929.5h0M581.7 1925.5h0M585.7 1921.5h0M589.7 1917.6h0M593.6 1913.4h0M597.6 1908.6h0M601.5 1904.7h0M605.5 1899.3h0M609.4 1894.6h0M613.4 1889.1h0M617.4 1883.5h0M621.3 1877.6h0M625.3 1871.6h0M629.2 1865.6h0M633.2 1859.8h0M637.1 1853.2h0M641.1 1846.6h0M645.1 1839.5h0M649 1832.2h0M653 1824.9h0M656.9 1817.1h0M660.9 1809.7h0M664.8 1802.3h0M668.8 1794.9h0M672.8 1787.2h0M676.7 1778.6h0M680.7 1770h0M684.6 1763.2h0M688.6 1755.5h0M692.5 1745.7h0M696.5 1737.5h0M700.5 1731.1h0M704.4 1726.2h0M708.4 1722.7h0M712.3 1721h0M716.3 1721.5h0M720.2 1724.3h0M724.2 1727.2h0M728.1 1732.1h0M732.1 1740h0M736.1 1750h0M740 1761.6h0M744 1775.2h0M747.9 1789.3h0M751.9 1804.1h0M755.8 1819.8h0M759.8 1833.2h0M763.8 1845h0M767.7 1854.7h0M771.7 1863h0M775.6 1870.4h0M779.6 1876.5h0M783.5 1882.3h0M787.5 1887h0M791.5 1891.6h0M795.4 1895.7h0M799.4 1900.1h0M803.3 1903.7h0M807.3 1907.6h0M811.2 1911h0M815.2 1914.4h0M819.2 1917.7h0M823.1 1920.8h0M827.1 1924.3h0M831 1927.8h0M835 1930.9h0M838.9 1933.7h0M842.9 1936.8h0M846.9 1940.2h0M850.8 1943h0M854.8 1945.8h0M858.7 1948.7h0M862.7 1951.7h0M866.6 1954.4h0M870.6 1957.7h0M874.6 1961.2h0M878.5 1964h0M882.5 1966.3h0M886.4 1969.3h0M890.4 1971.8h0M894.3 1974h0M898.3 1976.4h0M902.3 1978.8h0M906.2 1981.2h0M910.2 1983.6h0M914.1 1985.5h0M918.1 1987.6h0M922 1989.6h0M926 1992h0M929.9 1994.1h0M933.9 1995.8h0M937.9 1997.7h0M941.8 1999.8h0M945.8 2001.8h0M949.7 2003.8h0M953.7 2005.6h0M957.6 2006.9h0M961.6 2008.8h0M965.6 2010.5h0M969.5 2012.4h0M973.5 2013.6h0M977.4 2015.1h0M981.4 2017.2h0M985.3 2018.7h0M989.3 2020.3h0M993.3 2022.1h0M997.2 2023.6h0M1001.2 2025.6h0M1005.1 2027.1h0M1009.1 2028.9h0M1013 2031.2h0M1017 2032.8h0" stroke="#7000ff" stroke-width="3.6" stroke-linecap="round" fill="none"/>
<polyline points="411.6,2032.9 415.6,2031 419.5,2029 423.5,2027.4 427.4,2025.5 431.4,2024.1 435.3,2022.5 439.3,2020.6 443.3,2018.8 447.2,2016.6 451.2,2015.3 455.1,2013.1 459.1,2011.2 463,2008.6 467,2006.7 471,2004.3 474.9,2002.7 478.9,2000 482.8,1998.3 486.8,1995.6 490.7,1993.2 494.7,1991.4 498.7,1989.3 502.6,1986.7 506.6,1984.4 510.5,1982.3 514.5,1979.8 518.4,1977.5 522.4,1974.7 526.3,1972.4 530.3,1969.5 534.3,1967.1 538.2,1964.3 542.2,1961.6 546.1,1958.6 550.1,1955.6 554,1953 558,1949.5 562,1946.1 565.9,1943 569.9,1939.9 573.8,1936.6 577.8,1933 581.7,1928.9 585.7,1925.3 589.7,1921.1 593.6,1916.9 597.6,1912.1 601.5,1907.6 605.5,1902.4 609.4,1897.5 613.4,1892 617.4,1886.4 621.3,1880.7 625.3,1874.4 629.2,1868.7 633.2,1862.5 637.1,1855.8 641.1,1849.3 645.1,1841.8 649,1834.4 653,1827 656.9,1819.6 660.9,1811.8 664.8,1804 668.8,1796.6 672.8,1788.9 676.7,1780.1 680.7,1771.4 684.6,1764.3 688.6,1756.5 692.5,1746.6 696.5,1738 700.5,1731.4 704.4,1726.5 708.4,1722.7 712.3,1721 716.3,1721.6 720.2,1724.2 724.2,1727.7 728.1,1732.7 732.1,1741 736.1,1751 740,1762.8 744,1776.7 747.9,1790.8 751.9,1805.8 755.8,1821.8 759.8,1835.6 763.8,1847.4 767.7,1857.4 771.7,1865.7 775.6,1873.5 779.6,1879.9 783.5,1885.1 787.5,1890.2 791.5,1894.7 795.4,1899 799.4,1903.3 803.3,1906.8 807.3,1911 811.2,1914.5 815.2,1917.8 819.2,1921.5 823.1,1924.8 827.1,1927.9 831,1931.2 835,1934.1 838.9,1937.6 842.9,1940.9 846.9,1943.4 850.8,1947.1 854.8,1949.2 858.7,1952.8 862.7,1955.6 866.6,1958.8 870.6,1961.8 874.6,1964.8 878.5,1967.9 882.5,1970.4 886.4,1973.2 890.4,1976 894.3,1978.3 898.3,1980.3 902.3,1983 906.2,1985.2 910.2,1987.4 914.1,1989.9 918.1,1991.9 922,1993.8 926,1995.9 929.9,1997.8 933.9,2000 937.9,2002.6 941.8,2003.7 945.8,2006.5 949.7,2007.9 953.7,2009.8 957.6,2011.5 961.6,2013.1 965.6,2015.3 969.5,2016.7 973.5,2018.3 977.4,2020.1 981.4,2022.2 985.3,2023.3 989.3,2025.1 993.3,2027.2 997.2,2028.3 1001.2,2030.6 1005.1,2032.8 1009.1,2034 1013,2035.4 1017,2037.9" fill="none" stroke="#00c8d8" stroke-width="0.9" stroke-linejoin="round"/>
<path d="M411.6 2032.9h0M415.6 2031h0M419.5 2029h0M423.5 2027.4h0M427.4 2025.5h0M431.4 2024.1h0M435.3 2022.5h0M439.3 2020.6h0M443.3 2018.8h0M447.2 2016.6h0M451.2 2015.3h0M455.1 2013.1h0M459.1 2011.2h0M463 2008.6h0M467 2006.7h0M471 2004.3h0M474.9 2002.7h0M478.9 2000h0M482.8 1998.3h0M486.8 1995.6h0M490.7 1993.2h0M494.7 1991.4h0M498.7 1989.3h0M502.6 1986.7h0M506.6 1984.4h0M510.5 1982.3h0M514.5 1979.8h0M518.4 1977.5h0M522.4 1974.7h0M526.3 1972.4h0M530.3 1969.5h0M534.3 1967.1h0M538.2 1964.3h0M542.2 1961.6h0M546.1 1958.6h0M550.1 1955.6h0M554 1953h0M558 1949.5h0M562 1946.1h0M565.9 1943h0M569.9 1939.9h0M573.8 1936.6h0M577.8 1933h0M581.7 1928.9h0M585.7 1925.3h0M589.7 1921.1h0M593.6 1916.9h0M597.6 1912.1h0M601.5 1907.6h0M605.5 1902.4h0M609.4 1897.5h0M613.4 1892h0M617.4 1886.4h0M621.3 1880.7h0M625.3 1874.4h0M629.2 1868.7h0M633.2 1862.5h0M637.1 1855.8h0M641.1 1849.3h0M645.1 1841.8h0M649 1834.4h0M653 1827h0M656.9 1819.6h0M660.9 1811.8h0M664.8 1804h0M668.8 1796.6h0M672.8 1788.9h0M676.7 1780.1h0M680.7 1771.4h0M684.6 1764.3h0M688.6 1756.5h0M692.5 1746.6h0M696.5 1738h0M700.5 1731.4h0M704.4 1726.5h0M708.4 1722.7h0M712.3 1721h0M716.3 1721.6h0M720.2 1724.2h0M724.2 1727.7h0M728.1 1732.7h0M732.1 1741h0M736.1 1751h0M740 1762.8h0M744 1776.7h0M747.9 1790.8h0M751.9 1805.8h0M755.8 1821.8h0M759.8 1835.6h0M763.8 1847.4h0M767.7 1857.4h0M771.7 1865.7h0M775.6 1873.5h0M779.6 1879.9h0M783.5 1885.1h0M787.5 1890.2h0M791.5 1894.7h0M795.4 1899h0M799.4 1903.3h0M803.3 1906.8h0M807.3 1911h0M811.2 1914.5h0M815.2 1917.8h0M819.2 1921.5h0M823.1 1924.8h0M827.1 1927.9h0M831 1931.2h0M835 1934.1h0M838.9 1937.6h0M842.9 1940.9h0M846.9 1943.4h0M850.8 1947.1h0M854.8 1949.2h0M858.7 1952.8h0M862.7 1955.6h0M866.6 1958.8h0M870.6 1961.8h0M874.6 1964.8h0M878.5 1967.9h0M882.5 1970.4h0M886.4 1973.2h0M890.4 1976h0M894.3 1978.3h0M898.3 1980.3h0M902.3 1983h0M906.2 1985.2h0M910.2 1987.4h0M914.1 1989.9h0M918.1 1991.9h0M922 1993.8h0M926 1995.9h0M929.9 1997.8h0M933.9 2000h0M937.9 2002.6h0M941.8 2003.7h0M945.8 2006.5h0M949.7 2007.9h0M953.7 2009.8h0M957.6 2011.5h0M961.6 2013.1h0M965.6 2015.3h0M969.5 2016.7h0M973.5 2018.3h0M977.4 2020.1h0M981.4 2022.2h0M985.3 2023.3h0M989.3 2025.1h0M993.3 2027.2h0M997.2 2028.3h0M1001.2 2030.6h0M1005.1 2032.8h0M1009.1 2034h0M1013 2035.4h0M1017 2037.9h0" stroke="#00ffff" stroke-width="3.6" stroke-linecap="round" fill="none"/>
<polyline points="623.7,2146.7 630,2105.7 636.1,2065.5 641.5,2033.7 647.2,2005.8 653,1971.7 659,1937.1 665.5,1904.5 673.3,1865.4 685,1819.9 694.1,1765.2 703.2,1732.6 707.5,1723.7 711.4,1719.2 716,1721.7 719.5,1726.7 723.4,1736.7 728,1748.7 732.6,1762.8 735.5,1781.7 737.8,1801.8 740.5,1827.7 743,1853.9 745,1879.7 746.9,1906 748.9,1931.7 750.8,1958.1 754,2000.8 755.8,2045.7 757.3,2088 759.3,2117.7 761.2,2146.7" fill="none" stroke="#333" stroke-width="1.0" stroke-dasharray="3,3"/>
<path d="M409.6 2148.7H1014.2" stroke="#000" stroke-width="1.9" fill="none"/>
<path d="M409.6 2147.8v9.7M563.1 2147.8v9.7M713.2 2147.8v9.7M863.9 2147.8v9.7M1014.2 2147.8v9.7M487.2 2147.8v5.3M638.1 2147.8v5.3M788.5 2147.8v5.3M939 2147.8v5.3" stroke="#000" stroke-width="1.8" fill="none"/>
<text x="407.1" y="2182.7" class="tk">-1.0</text>
<text x="560.6" y="2182.7" class="tk">-0.5</text>
<text x="715.6" y="2182.7" class="tk">0.0</text>
<text x="866.3" y="2182.7" class="tk">0.5</text>
<text x="1016.6" y="2182.7" class="tk">1.0</text>
<text x="715" y="2218.7" class="tk" style="font-size:29px">E (meV)</text>

<text x="3" y="28.5" class="bl" style="font-size:35px">(A)</text>
<text x="4" y="280.6" class="bl">1.7 meV</text>
<text x="769" y="280.6" class="bl">2.97 meV</text>
<text x="385" y="808.5" class="bl">6.42 meV</text>
<text x="3" y="1176.5" class="bl" style="font-size:35px">(B)</text>
<text x="4" y="1374" class="bl">1.7 meV</text>
<text x="769" y="1372.9" class="bl">2.97 meV</text>
<text x="385" y="1904" class="bl">6.42 meV</text>

<path d="M1034 586.5h41" stroke="#ee0000" stroke-width="4.4"/>
<path d="M1034 619h41" stroke="#f42c98" stroke-width="4.4"/>
<path d="M1034 651h41" stroke="#2d2dc8" stroke-width="4.4"/>
<text x="1083" y="594" class="lg" fill="#ee0000">Breast cancer</text>
<text x="1083" y="626.5" class="lg" fill="#f42c98">Prostate cancer</text>
<text x="1083" y="658.5" class="lg" fill="#2d2dc8">Lung cancer</text>
<path d="M1034 1732.3h41" stroke="#85330c" stroke-width="4.4"/>
<path d="M1034 1765h41" stroke="#6e28a0" stroke-width="4.4"/>
<path d="M1034 1796.5h41" stroke="#00aeea" stroke-width="4.4"/>
<text x="1083" y="1740" class="lg" fill="#85330c">Breast healthy</text>
<text x="1083" y="1772.5" class="lg" fill="#6e28a0">Prostate healthy</text>
<text x="1083" y="1804" class="lg" fill="#00aeea">Lung healthy</text>
</svg>
</body></html>
